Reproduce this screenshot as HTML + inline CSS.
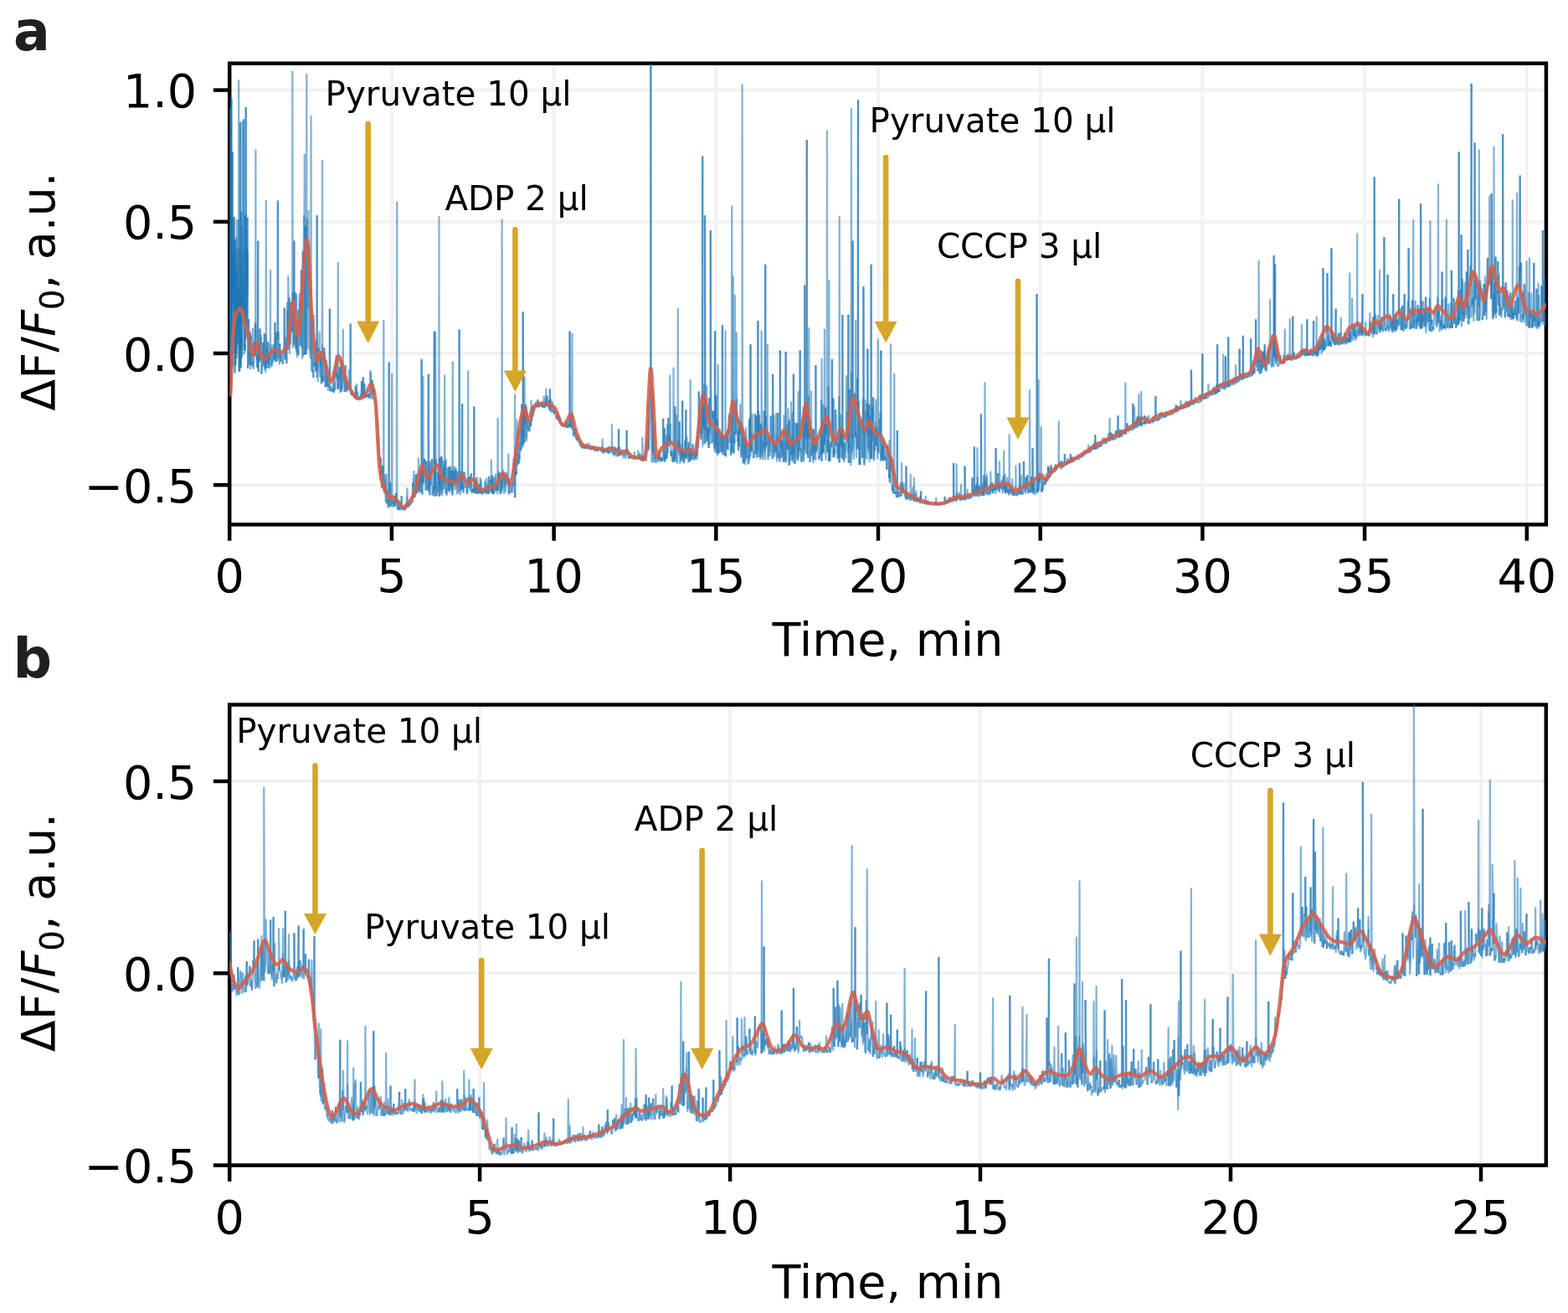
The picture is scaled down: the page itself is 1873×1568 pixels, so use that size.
<!DOCTYPE html>
<html><head><meta charset="utf-8"><style>html,body{margin:0;padding:0;background:#fff;}svg{display:block;}</style></head>
<body><svg width="1873" height="1568" viewBox="0 0 1873 1568" font-family="'DejaVu Sans', 'Liberation Sans', sans-serif"><rect width="1873" height="1568" fill="#fff"/>
<line x1="274.2" y1="75.7" x2="274.2" y2="626.4" stroke="#f2f2f2" stroke-width="4"/>
<line x1="467.9" y1="75.7" x2="467.9" y2="626.4" stroke="#f2f2f2" stroke-width="4"/>
<line x1="661.6" y1="75.7" x2="661.6" y2="626.4" stroke="#f2f2f2" stroke-width="4"/>
<line x1="855.3" y1="75.7" x2="855.3" y2="626.4" stroke="#f2f2f2" stroke-width="4"/>
<line x1="1049.0" y1="75.7" x2="1049.0" y2="626.4" stroke="#f2f2f2" stroke-width="4"/>
<line x1="1242.7" y1="75.7" x2="1242.7" y2="626.4" stroke="#f2f2f2" stroke-width="4"/>
<line x1="1436.4" y1="75.7" x2="1436.4" y2="626.4" stroke="#f2f2f2" stroke-width="4"/>
<line x1="1630.1" y1="75.7" x2="1630.1" y2="626.4" stroke="#f2f2f2" stroke-width="4"/>
<line x1="1823.8" y1="75.7" x2="1823.8" y2="626.4" stroke="#f2f2f2" stroke-width="4"/>
<line x1="274.2" y1="579.2" x2="1846.9" y2="579.2" stroke="#f2f2f2" stroke-width="4"/>
<line x1="274.2" y1="422.0" x2="1846.9" y2="422.0" stroke="#f2f2f2" stroke-width="4"/>
<line x1="274.2" y1="264.8" x2="1846.9" y2="264.8" stroke="#f2f2f2" stroke-width="4"/>
<line x1="274.2" y1="107.6" x2="1846.9" y2="107.6" stroke="#f2f2f2" stroke-width="4"/>
<line x1="274.2" y1="841.6" x2="274.2" y2="1391.6" stroke="#f2f2f2" stroke-width="4"/>
<line x1="573.1" y1="841.6" x2="573.1" y2="1391.6" stroke="#f2f2f2" stroke-width="4"/>
<line x1="872.1" y1="841.6" x2="872.1" y2="1391.6" stroke="#f2f2f2" stroke-width="4"/>
<line x1="1171.0" y1="841.6" x2="1171.0" y2="1391.6" stroke="#f2f2f2" stroke-width="4"/>
<line x1="1470.0" y1="841.6" x2="1470.0" y2="1391.6" stroke="#f2f2f2" stroke-width="4"/>
<line x1="1769.0" y1="841.6" x2="1769.0" y2="1391.6" stroke="#f2f2f2" stroke-width="4"/>
<line x1="274.2" y1="1391.6" x2="1846.8" y2="1391.6" stroke="#f2f2f2" stroke-width="4"/>
<line x1="274.2" y1="1162.3" x2="1846.8" y2="1162.3" stroke="#f2f2f2" stroke-width="4"/>
<line x1="274.2" y1="933.0" x2="1846.8" y2="933.0" stroke="#f2f2f2" stroke-width="4"/>
<rect x="274.2" y="75.7" width="1572.7" height="550.7" fill="none" stroke="#000" stroke-width="4.5" stroke-linejoin="miter"/>
<line x1="274.2" y1="626.4" x2="274.2" y2="645.7" stroke="#000" stroke-width="4.5"/>
<text x="274.2" y="707.2" font-size="55.5" text-anchor="middle">0</text>
<line x1="467.9" y1="626.4" x2="467.9" y2="645.7" stroke="#000" stroke-width="4.5"/>
<text x="467.9" y="707.2" font-size="55.5" text-anchor="middle">5</text>
<line x1="661.6" y1="626.4" x2="661.6" y2="645.7" stroke="#000" stroke-width="4.5"/>
<text x="661.6" y="707.2" font-size="55.5" text-anchor="middle">10</text>
<line x1="855.3" y1="626.4" x2="855.3" y2="645.7" stroke="#000" stroke-width="4.5"/>
<text x="855.3" y="707.2" font-size="55.5" text-anchor="middle">15</text>
<line x1="1049.0" y1="626.4" x2="1049.0" y2="645.7" stroke="#000" stroke-width="4.5"/>
<text x="1049.0" y="707.2" font-size="55.5" text-anchor="middle">20</text>
<line x1="1242.7" y1="626.4" x2="1242.7" y2="645.7" stroke="#000" stroke-width="4.5"/>
<text x="1242.7" y="707.2" font-size="55.5" text-anchor="middle">25</text>
<line x1="1436.4" y1="626.4" x2="1436.4" y2="645.7" stroke="#000" stroke-width="4.5"/>
<text x="1436.4" y="707.2" font-size="55.5" text-anchor="middle">30</text>
<line x1="1630.1" y1="626.4" x2="1630.1" y2="645.7" stroke="#000" stroke-width="4.5"/>
<text x="1630.1" y="707.2" font-size="55.5" text-anchor="middle">35</text>
<line x1="1823.8" y1="626.4" x2="1823.8" y2="645.7" stroke="#000" stroke-width="4.5"/>
<text x="1823.8" y="707.2" font-size="55.5" text-anchor="middle">40</text>
<line x1="274.2" y1="579.2" x2="254.9" y2="579.2" stroke="#000" stroke-width="4.5"/>
<text x="235.2" y="599.8" font-size="55.5" text-anchor="end">−0.5</text>
<line x1="274.2" y1="422.0" x2="254.9" y2="422.0" stroke="#000" stroke-width="4.5"/>
<text x="235.2" y="442.6" font-size="55.5" text-anchor="end">0.0</text>
<line x1="274.2" y1="264.8" x2="254.9" y2="264.8" stroke="#000" stroke-width="4.5"/>
<text x="235.2" y="285.4" font-size="55.5" text-anchor="end">0.5</text>
<line x1="274.2" y1="107.6" x2="254.9" y2="107.6" stroke="#000" stroke-width="4.5"/>
<text x="235.2" y="128.2" font-size="55.5" text-anchor="end">1.0</text>
<rect x="274.2" y="841.6" width="1572.6" height="550.0" fill="none" stroke="#000" stroke-width="4.5" stroke-linejoin="miter"/>
<line x1="274.2" y1="1391.6" x2="274.2" y2="1410.9" stroke="#000" stroke-width="4.5"/>
<text x="274.2" y="1472.5" font-size="55.5" text-anchor="middle">0</text>
<line x1="573.1" y1="1391.6" x2="573.1" y2="1410.9" stroke="#000" stroke-width="4.5"/>
<text x="573.1" y="1472.5" font-size="55.5" text-anchor="middle">5</text>
<line x1="872.1" y1="1391.6" x2="872.1" y2="1410.9" stroke="#000" stroke-width="4.5"/>
<text x="872.1" y="1472.5" font-size="55.5" text-anchor="middle">10</text>
<line x1="1171.0" y1="1391.6" x2="1171.0" y2="1410.9" stroke="#000" stroke-width="4.5"/>
<text x="1171.0" y="1472.5" font-size="55.5" text-anchor="middle">15</text>
<line x1="1470.0" y1="1391.6" x2="1470.0" y2="1410.9" stroke="#000" stroke-width="4.5"/>
<text x="1470.0" y="1472.5" font-size="55.5" text-anchor="middle">20</text>
<line x1="1769.0" y1="1391.6" x2="1769.0" y2="1410.9" stroke="#000" stroke-width="4.5"/>
<text x="1769.0" y="1472.5" font-size="55.5" text-anchor="middle">25</text>
<line x1="274.2" y1="1391.6" x2="254.9" y2="1391.6" stroke="#000" stroke-width="4.5"/>
<text x="235.2" y="1412.2" font-size="55.5" text-anchor="end">−0.5</text>
<line x1="274.2" y1="1162.3" x2="254.9" y2="1162.3" stroke="#000" stroke-width="4.5"/>
<text x="235.2" y="1182.9" font-size="55.5" text-anchor="end">0.0</text>
<line x1="274.2" y1="933.0" x2="254.9" y2="933.0" stroke="#000" stroke-width="4.5"/>
<text x="235.2" y="953.6" font-size="55.5" text-anchor="end">0.5</text>
<clipPath id="ca"><rect x="274.2" y="75.7" width="1572.7" height="550.7"/></clipPath>
<g clip-path="url(#ca)">
<g fill="none" stroke="#1f77b4" stroke-width="2.3" stroke-opacity="0.55" stroke-linejoin="round"><path d="M274.5,294.7 274.6,444.9 274.8,429.3"/><path d="M274.8,429.3 274.9,324.6 275.0,128.1"/><path d="M275.0,128.1 275.1,376.8 275.2,367.3"/><path d="M275.2,367.3 275.4,406.4 275.5,429.2"/><path d="M275.5,429.2 275.7,282.1 275.8,262.1"/><path d="M275.8,262.1 276.0,428.2 276.1,353.4"/><path d="M276.1,353.4 276.3,409.7 276.4,117.5"/><path d="M276.4,117.5 276.4,251.4 276.6,353.0"/><path d="M276.6,353.0 276.7,401.5 276.9,310.4"/><path d="M276.9,310.4 277.0,438.0 277.2,431.0"/><path d="M277.2,431.0 277.3,262.1 277.5,260.4"/><path d="M277.5,260.4 277.6,370.4 277.8,181.2"/><path d="M277.8,181.2 277.8,437.0 277.9,340.9"/><path d="M277.9,340.9 278.1,307.8 278.2,348.7"/><path d="M278.2,348.7 278.4,261.6 278.5,308.9"/><path d="M278.5,308.9 278.7,351.6 278.8,362.2"/><path d="M278.8,362.2 279.0,311.3 279.1,310.9"/><path d="M279.1,310.9 279.3,308.3 279.4,355.6"/><path d="M279.4,355.6 279.6,323.0 279.7,259.1"/><path d="M279.7,259.1 279.9,420.7 279.9,287.4"/><path d="M279.9,287.4 280.0,373.1 280.2,388.0"/><path d="M280.2,388.0 280.3,301.2 280.5,445.5"/><path d="M280.5,445.5 280.6,424.3 280.8,286.3"/><path d="M280.8,286.3 280.9,331.5 281.1,401.5"/><path d="M281.1,401.5 281.2,399.7 281.4,436.6"/><path d="M281.4,436.6 281.5,348.7 281.7,419.4"/><path d="M281.7,419.4 281.8,392.8 282.0,325.7"/><path d="M282.0,325.7 282.1,378.5 282.3,428.0"/><path d="M282.3,428.0 282.4,283.8 282.4,422.1"/><path d="M282.4,422.1 282.6,363.9 282.7,378.8"/><path d="M282.7,378.8 282.9,263.3 283.0,313.4"/><path d="M283.0,313.4 283.2,414.1 283.3,347.2"/><path d="M283.3,347.2 283.5,298.3 283.6,371.7"/><path d="M283.6,371.7 283.8,398.4 283.9,393.5"/><path d="M283.9,393.5 284.1,339.7 284.2,351.8"/><path d="M284.2,351.8 284.4,364.4 284.5,410.9"/><path d="M284.5,410.9 284.7,366.6 284.8,343.1"/><path d="M284.8,343.1 285.0,360.9 285.1,261.7"/><path d="M285.1,261.7 285.2,96.2 285.3,266.0"/><path d="M285.3,266.0 285.4,398.1 285.6,443.6"/><path d="M285.6,443.6 285.7,379.2 285.9,343.0"/><path d="M285.9,343.0 286.0,297.6 286.2,363.0"/><path d="M286.2,363.0 286.3,443.1 286.5,409.0"/><path d="M286.5,409.0 286.6,369.6 286.8,423.6"/><path d="M286.8,423.6 286.9,310.9 287.0,145.8"/><path d="M287.0,145.8 287.1,364.9 287.2,438.2"/><path d="M287.2,438.2 287.4,376.1 287.5,354.9"/><path d="M287.5,354.9 287.7,318.4 287.8,370.8"/><path d="M287.8,370.8 288.0,438.7 288.1,253.1"/><path d="M288.1,253.1 288.3,410.7 288.4,416.7"/><path d="M288.4,416.7 288.6,427.2 288.7,403.5"/><path d="M288.7,403.5 288.9,414.7 289.0,365.4"/><path d="M289.0,365.4 289.2,372.9 289.3,348.5"/><path d="M289.3,348.5 289.5,145.8 289.5,269.5"/><path d="M289.5,269.5 289.6,424.3 289.8,374.2"/><path d="M289.8,374.2 289.9,303.7 290.1,362.7"/><path d="M290.1,362.7 290.2,359.1 290.4,335.3"/><path d="M290.4,335.3 290.5,333.2 290.7,368.5"/><path d="M290.7,368.5 290.8,383.3 291.0,381.3"/><path d="M291.0,381.3 291.1,354.1 291.2,142.3"/><path d="M291.2,142.3 291.3,261.1 291.4,309.9"/><path d="M291.4,309.9 291.6,298.6 291.7,376.3"/><path d="M291.7,376.3 291.9,422.2 292.0,412.1"/><path d="M292.0,412.1 292.2,411.8 292.3,414.9"/><path d="M292.3,414.9 292.5,315.0 292.6,418.9"/><path d="M292.6,418.9 292.8,391.2 292.9,276.5"/><path d="M292.9,276.5 293.1,257.3 293.2,256.6"/><path d="M293.2,256.6 293.4,404.7 293.5,313.8"/><path d="M293.5,313.8 293.7,283.0 293.7,128.1"/><path d="M293.7,128.1 293.8,382.8 294.0,332.4"/><path d="M294.0,332.4 294.1,272.9 294.3,294.5"/><path d="M294.3,294.5 294.4,365.8 294.6,296.4"/><path d="M294.6,296.4 294.7,318.3 294.9,397.1"/><path d="M294.9,397.1 295.0,352.7 295.2,327.9"/><path d="M295.2,327.9 295.3,356.1 295.5,259.6"/><path d="M295.5,259.6 295.6,340.1 295.8,346.4"/><path d="M295.8,346.4 295.9,300.6 296.1,440.0"/><path d="M296.1,440.0 296.5,418.5 297.0,381.0"/><path d="M297.0,381.0 297.4,409.0 297.9,435.8"/><path d="M297.9,435.8 298.3,435.6 298.8,396.2"/><path d="M298.8,396.2 299.2,440.5 299.7,400.4"/><path d="M299.7,400.4 300.1,435.4 300.6,434.5"/><path d="M300.6,434.5 301.0,435.6 301.5,431.2"/><path d="M301.5,431.2 301.9,392.3 302.4,438.7"/><path d="M302.4,438.7 302.8,439.9 303.3,408.9"/><path d="M303.3,408.9 303.7,420.3 304.2,417.0"/><path d="M304.2,417.0 304.6,386.6 305.1,425.6"/><path d="M305.1,425.6 305.4,179.4 305.5,385.6"/><path d="M305.5,385.6 306.0,400.9 306.4,429.7"/><path d="M306.4,429.7 306.9,437.9 307.3,424.3"/><path d="M307.3,424.3 307.8,438.7 308.2,287.4"/><path d="M308.2,287.4 308.2,435.4 308.7,444.1"/><path d="M308.7,444.1 309.1,414.8 309.6,432.7"/><path d="M309.6,432.7 310.0,393.6 310.5,430.6"/><path d="M310.5,430.6 310.9,393.0 311.4,412.5"/><path d="M311.4,412.5 311.8,400.9 312.3,446.5"/><path d="M312.3,446.5 312.7,443.2 313.2,433.9"/><path d="M313.2,433.9 313.6,422.3 314.1,409.1"/><path d="M314.1,409.1 314.5,418.5 315.0,437.6"/><path d="M315.0,437.6 315.4,409.7 315.9,398.3"/><path d="M315.9,398.3 316.3,441.0 316.8,430.0"/><path d="M316.8,430.0 317.2,444.0 317.7,399.7"/><path d="M317.7,399.7 317.8,239.6 318.1,440.1"/><path d="M318.1,440.1 318.6,415.8 319.0,433.1"/><path d="M319.0,433.1 319.5,433.5 319.9,408.3"/><path d="M319.9,408.3 320.4,411.7 320.8,439.6"/><path d="M320.8,439.6 321.3,422.8 321.7,421.1"/><path d="M321.7,421.1 322.2,439.3 322.6,430.1"/><path d="M322.6,430.1 323.1,322.8 323.1,410.8"/><path d="M323.1,410.8 323.5,427.8 324.0,436.0"/><path d="M324.0,436.0 324.4,437.3 324.9,437.5"/><path d="M324.9,437.5 325.3,412.9 325.8,430.9"/><path d="M325.8,430.9 326.2,432.7 326.7,419.8"/><path d="M326.7,419.8 327.1,411.7 327.6,429.8"/><path d="M327.6,429.8 328.0,422.4 328.5,385.1"/><path d="M328.5,385.1 328.9,416.7 329.4,432.1"/><path d="M329.4,432.1 329.8,402.1 330.3,396.8"/><path d="M330.3,396.8 330.7,431.2 331.2,427.0"/><path d="M331.2,427.0 331.6,427.6 331.9,239.6"/><path d="M331.9,239.6 332.1,404.9 332.5,395.8"/><path d="M332.5,395.8 333.0,406.9 333.4,428.5"/><path d="M333.4,428.5 333.9,434.6 334.3,410.2"/><path d="M334.3,410.2 334.8,431.4 335.2,432.0"/><path d="M335.2,432.0 335.7,421.8 336.1,423.7"/><path d="M336.1,423.7 336.6,423.8 337.0,432.5"/><path d="M337.0,432.5 337.5,434.1 337.9,434.7"/><path d="M337.9,434.7 338.4,430.4 338.8,415.6"/><path d="M338.8,415.6 339.3,411.5 339.7,367.8"/><path d="M339.7,367.8 340.2,403.9 340.6,429.4"/><path d="M340.6,429.4 341.1,403.3 341.5,408.6"/><path d="M341.5,408.6 342.0,411.2 342.4,433.9"/><path d="M342.4,433.9 342.9,361.7 343.3,370.9"/><path d="M343.3,370.9 343.8,402.5 344.2,417.5"/><path d="M344.2,417.5 344.3,329.9 344.7,370.2"/><path d="M344.7,370.2 345.1,407.8 345.6,355.3"/><path d="M345.6,355.3 346.0,421.7 346.5,370.3"/><path d="M346.5,370.3 346.9,411.1 347.4,387.0"/><path d="M347.4,387.0 347.8,361.8 348.3,385.2"/><path d="M348.3,385.2 348.7,389.6 349.2,396.3"/><path d="M349.2,396.3 349.3,85.6 349.6,348.8"/><path d="M349.6,348.8 350.1,415.1 350.5,369.4"/><path d="M350.5,369.4 351.0,410.9 351.4,287.4"/><path d="M351.4,287.4 351.4,357.5 351.9,348.4"/><path d="M351.9,348.4 352.3,412.5 352.8,400.5"/><path d="M352.8,400.5 353.2,416.2 353.7,350.8"/><path d="M353.7,350.8 354.1,419.9 354.6,397.0"/><path d="M354.6,397.0 355.0,426.3 355.5,424.0"/><path d="M355.5,424.0 355.9,387.2 356.4,369.8"/><path d="M356.4,369.8 356.8,423.4 357.3,372.8"/><path d="M357.3,372.8 357.7,351.0 358.2,359.9"/><path d="M358.2,359.9 358.6,400.8 359.1,413.5"/><path d="M359.1,413.5 359.5,364.2 360.0,322.5"/><path d="M360.0,322.5 360.4,406.3 360.9,416.3"/><path d="M360.9,416.3 361.3,428.1 361.8,299.8"/><path d="M361.8,299.8 362.2,424.3 362.7,322.1"/><path d="M362.7,322.1 363.1,257.8 363.6,264.2"/><path d="M363.6,264.2 363.8,184.7 364.0,424.0"/><path d="M364.0,424.0 364.5,280.6 364.9,269.6"/><path d="M364.9,269.6 365.4,367.8 365.8,422.7"/><path d="M365.8,422.7 366.3,89.2 366.3,279.3"/><path d="M366.3,279.3 366.7,262.2 367.2,368.3"/><path d="M367.2,368.3 367.6,416.3 368.1,362.8"/><path d="M368.1,362.8 368.4,252.0 368.5,334.3"/><path d="M368.5,334.3 369.0,292.8 369.4,326.3"/><path d="M369.4,326.3 369.9,413.1 370.3,419.0"/><path d="M370.3,419.0 370.8,427.7 371.2,335.7"/><path d="M371.2,335.7 371.6,138.7 371.7,355.8"/><path d="M371.7,355.8 372.1,442.7 372.6,376.7"/><path d="M372.6,376.7 373.0,418.5 373.5,444.3"/><path d="M373.5,444.3 373.9,443.0 374.4,450.9"/><path d="M374.4,450.9 374.8,376.6 375.3,438.0"/><path d="M375.3,438.0 375.7,432.7 376.2,436.4"/><path d="M376.2,436.4 376.6,418.3 377.1,442.9"/><path d="M377.1,442.9 377.5,443.3 378.0,406.7"/><path d="M378.0,406.7 378.4,450.2 378.7,257.3"/><path d="M378.7,257.3 378.9,439.9 379.3,442.1"/><path d="M379.3,442.1 379.8,455.3 380.2,416.2"/><path d="M380.2,416.2 380.7,418.0 381.1,419.5"/><path d="M381.1,419.5 381.6,396.3 382.0,438.0"/><path d="M382.0,438.0 382.5,449.6 382.9,425.6"/><path d="M382.9,425.6 383.4,446.9 383.8,458.2"/><path d="M383.8,458.2 384.3,455.4 384.7,411.2"/><path d="M384.7,411.2 385.0,191.8 385.2,456.2"/><path d="M385.2,456.2 385.6,454.2 386.1,448.1"/><path d="M386.1,448.1 386.5,455.0 387.0,415.2"/><path d="M387.0,415.2 387.4,416.8 387.9,422.4"/><path d="M387.9,422.4 388.3,447.7 388.8,462.3"/><path d="M388.8,462.3 389.2,445.7 389.7,430.4"/><path d="M389.7,430.4 390.1,443.1 390.6,461.8"/><path d="M390.6,461.8 391.0,455.1 391.5,445.1"/><path d="M391.5,445.1 391.9,465.9 392.4,458.4"/><path d="M392.4,458.4 392.8,462.2 393.3,456.3"/><path d="M393.3,456.3 393.7,446.8 393.9,368.8"/><path d="M393.9,368.8 394.2,466.4 394.6,461.5"/><path d="M394.6,461.5 395.1,466.1 395.5,465.7"/><path d="M395.5,465.7 396.0,467.1 396.4,465.0"/><path d="M396.4,465.0 396.9,464.1 397.3,466.7"/><path d="M397.3,466.7 397.8,444.3 398.2,468.9"/><path d="M398.2,468.9 398.7,467.4 399.1,468.2"/><path d="M399.1,468.2 399.6,456.8 400.0,465.9"/><path d="M400.0,465.9 400.5,438.0 400.9,449.7"/><path d="M400.9,449.7 401.4,431.6 401.8,424.4"/><path d="M401.8,424.4 402.3,451.0 402.7,444.7"/><path d="M402.7,444.7 403.2,464.1 403.6,464.9"/><path d="M403.6,464.9 403.8,313.9 404.1,463.9"/><path d="M404.1,463.9 404.5,449.5 405.0,453.7"/><path d="M405.0,453.7 405.4,440.5 405.9,438.2"/><path d="M405.9,438.2 406.3,468.4 406.8,438.7"/><path d="M406.8,438.7 407.2,466.7 407.7,429.7"/><path d="M407.7,429.7 408.1,467.2 408.6,464.3"/><path d="M408.6,464.3 409.0,458.1 409.5,458.0"/><path d="M409.5,458.0 409.8,393.6 409.9,454.8"/><path d="M409.9,454.8 410.4,439.9 410.8,455.8"/><path d="M410.8,455.8 411.3,459.1 411.7,468.0"/><path d="M411.7,468.0 412.2,450.0 412.6,436.0"/><path d="M412.6,436.0 413.1,462.2 413.5,467.8"/><path d="M413.5,467.8 414.0,467.4 414.4,454.9"/><path d="M414.4,454.9 414.9,456.4 415.3,465.9"/><path d="M415.3,465.9 415.8,464.1 416.2,465.3"/><path d="M416.2,465.3 416.7,442.1 417.1,462.3"/><path d="M417.1,462.3 417.6,461.0 418.0,464.4"/><path d="M418.0,464.4 418.5,463.7 418.7,386.5"/><path d="M418.7,386.5 418.9,469.9 419.4,470.8"/><path d="M419.4,470.8 419.8,469.0 420.3,472.1"/><path d="M420.3,472.1 420.7,469.3 421.2,472.8"/><path d="M421.2,472.8 421.6,471.0 422.1,472.4"/><path d="M422.1,472.4 422.5,470.5 423.0,472.9"/><path d="M423.0,472.9 423.4,474.6 423.9,474.5"/><path d="M423.9,474.5 424.3,475.1 424.8,460.7"/><path d="M424.8,460.7 425.2,476.3 425.7,476.6"/><path d="M425.7,476.6 426.1,458.8 426.6,475.2"/><path d="M426.6,475.2 427.0,469.0 427.5,476.5"/><path d="M427.5,476.5 427.9,475.8 428.4,474.9"/><path d="M428.4,474.9 428.8,476.0 429.3,473.8"/><path d="M429.3,473.8 429.7,474.4 430.2,473.2"/><path d="M430.2,473.2 430.6,475.0 431.1,470.4"/><path d="M431.1,470.4 431.5,475.7 432.0,455.3"/><path d="M432.0,455.3 432.4,474.7 432.9,475.0"/><path d="M432.9,475.0 433.3,474.3 433.8,450.2"/><path d="M433.8,450.2 434.2,473.2 434.7,474.4"/><path d="M434.7,474.4 435.1,458.4 435.6,458.8"/><path d="M435.6,458.8 436.0,475.3 436.5,468.6"/><path d="M436.5,468.6 436.9,473.3 437.4,471.2"/><path d="M437.4,471.2 437.8,473.6 438.3,474.4"/><path d="M438.3,474.4 438.7,471.4 439.2,471.3"/><path d="M439.2,471.3 439.6,473.7 440.1,472.0"/><path d="M440.1,472.0 440.5,474.7 441.0,469.9"/><path d="M441.0,469.9 441.4,475.4 441.9,475.0"/><path d="M441.9,475.0 442.3,443.2 442.8,444.2"/><path d="M442.8,444.2 443.2,447.4 443.7,471.4"/><path d="M443.7,471.4 444.1,476.4 444.6,453.9"/><path d="M444.6,453.9 445.0,462.8 445.5,458.7"/><path d="M445.5,458.7 445.9,474.6 446.4,464.9"/><path d="M446.4,464.9 446.8,475.0 447.3,477.0"/><path d="M447.3,477.0 447.7,476.6 448.2,480.5"/><path d="M448.2,480.5 448.6,481.9 449.1,487.8"/><path d="M449.1,487.8 449.5,494.7 450.0,501.8"/><path d="M450.0,501.8 450.4,508.2 450.9,503.0"/><path d="M450.9,503.0 451.3,522.7 451.8,529.3"/><path d="M451.8,529.3 452.2,520.9 452.7,543.4"/><path d="M452.7,543.4 453.1,551.7 453.6,550.3"/><path d="M453.6,550.3 454.0,573.1 454.5,546.2"/><path d="M454.5,546.2 454.9,547.1 455.4,564.9"/><path d="M455.4,564.9 455.8,582.4 456.3,562.0"/><path d="M456.3,562.0 456.7,581.6 457.2,556.0"/><path d="M457.2,556.0 457.6,576.8 458.1,569.1"/><path d="M458.1,569.1 458.3,383.0 458.5,586.2"/><path d="M458.5,586.2 459.0,578.6 459.4,589.3"/><path d="M459.4,589.3 459.9,567.3 460.3,574.3"/><path d="M460.3,574.3 460.8,598.4 461.2,599.6"/><path d="M461.2,599.6 461.7,566.3 462.1,601.6"/><path d="M462.1,601.6 462.6,597.1 463.0,601.6"/><path d="M463.0,601.6 463.5,605.8 463.9,602.8"/><path d="M463.9,602.8 464.4,579.6 464.7,432.5"/><path d="M464.7,432.5 464.8,600.7 465.3,605.5"/><path d="M465.3,605.5 465.7,583.4 466.2,576.2"/><path d="M466.2,576.2 466.6,590.2 467.1,604.5"/><path d="M467.1,604.5 467.5,604.2 468.0,600.4"/><path d="M468.0,600.4 468.2,446.7 468.4,597.4"/><path d="M468.4,597.4 468.9,601.2 469.3,598.3"/><path d="M469.3,598.3 469.8,605.0 470.2,600.0"/><path d="M470.2,600.0 470.7,593.2 471.1,604.7"/><path d="M471.1,604.7 471.6,602.5 472.0,592.0"/><path d="M472.0,592.0 472.5,603.6 472.9,588.9"/><path d="M472.9,588.9 473.4,600.5 473.8,596.4"/><path d="M473.8,596.4 474.2,241.4 474.3,602.7"/><path d="M474.3,602.7 474.7,608.1 475.2,607.0"/><path d="M475.2,607.0 475.6,599.0 476.1,609.0"/><path d="M476.1,609.0 476.5,606.6 477.0,609.2"/><path d="M477.0,609.2 477.4,600.8 477.9,606.5"/><path d="M477.9,606.5 478.3,604.3 478.8,605.9"/><path d="M478.8,605.9 479.2,608.7 479.7,592.1"/><path d="M479.7,592.1 480.1,605.2 480.6,608.5"/><path d="M480.6,608.5 481.0,608.0 481.5,604.7"/><path d="M481.5,604.7 481.9,605.2 482.4,609.3"/><path d="M482.4,609.3 482.8,608.3 483.3,609.2"/><path d="M483.3,609.2 483.7,602.8 484.2,609.2"/><path d="M484.2,609.2 484.6,606.0 485.1,600.8"/><path d="M485.1,600.8 485.5,603.2 486.0,593.4"/><path d="M486.0,593.4 486.4,583.1 486.9,605.2"/><path d="M486.9,605.2 487.3,605.6 487.8,599.0"/><path d="M487.8,599.0 488.2,604.5 488.7,601.4"/><path d="M488.7,601.4 489.1,603.1 489.6,604.0"/><path d="M489.6,604.0 490.0,602.2 490.5,600.7"/><path d="M490.5,600.7 490.9,601.5 491.4,598.1"/><path d="M491.4,598.1 491.8,599.0 492.3,599.0"/><path d="M492.3,599.0 492.7,599.6 493.2,576.4"/><path d="M493.2,576.4 493.6,595.0 494.1,571.1"/><path d="M494.1,571.1 494.5,562.8 495.0,593.9"/><path d="M495.0,593.9 495.4,589.9 495.9,590.5"/><path d="M495.9,590.5 496.3,592.0 496.8,566.7"/><path d="M496.8,566.7 497.2,575.2 497.7,589.4"/><path d="M497.7,589.4 498.1,566.3 498.6,578.3"/><path d="M498.6,578.3 499.0,587.8 499.5,581.2"/><path d="M499.5,581.2 499.9,547.3 500.4,586.3"/><path d="M500.4,586.3 500.8,570.6 501.3,574.6"/><path d="M501.3,574.6 501.7,588.1 502.2,561.4"/><path d="M502.2,561.4 502.6,586.7 503.1,576.2"/><path d="M503.1,576.2 503.5,563.5 503.6,429.0"/><path d="M503.6,429.0 504.0,568.9 504.4,590.6"/><path d="M504.4,590.6 504.9,554.2 505.3,554.1"/><path d="M505.3,554.1 505.4,450.2 505.8,577.5"/><path d="M505.8,577.5 506.2,553.8 506.7,547.8"/><path d="M506.7,547.8 507.1,549.2 507.6,554.6"/><path d="M507.6,554.6 508.0,549.9 508.5,585.5"/><path d="M508.5,585.5 508.9,582.4 509.4,551.1"/><path d="M509.4,551.1 509.8,573.7 510.3,578.7"/><path d="M510.3,578.7 510.7,584.8 511.2,580.8"/><path d="M511.2,580.8 511.6,586.2 511.8,446.7"/><path d="M511.8,446.7 512.1,583.7 512.5,582.8"/><path d="M512.5,582.8 513.0,554.4 513.4,591.2"/><path d="M513.4,591.2 513.9,551.1 514.3,580.0"/><path d="M514.3,580.0 514.8,561.4 515.2,561.1"/><path d="M515.2,561.1 515.7,559.3 516.1,548.3"/><path d="M516.1,548.3 516.6,591.6 517.0,590.8"/><path d="M517.0,590.8 517.5,581.5 517.9,585.3"/><path d="M517.9,585.3 518.4,586.8 518.8,395.4"/><path d="M518.8,395.4 518.8,550.6 519.3,592.7"/><path d="M519.3,592.7 519.7,549.6 520.2,584.0"/><path d="M520.2,584.0 520.3,397.1 520.6,551.7"/><path d="M520.6,551.7 521.1,549.6 521.5,592.2"/><path d="M521.5,592.2 522.0,584.8 522.4,581.1"/><path d="M522.4,581.1 522.9,587.1 523.3,563.5"/><path d="M523.3,563.5 523.8,570.2 524.2,578.8"/><path d="M524.2,578.8 524.5,259.1 524.7,593.1"/><path d="M524.7,593.1 525.1,549.4 525.6,546.3"/><path d="M525.6,546.3 526.0,590.1 526.5,585.7"/><path d="M526.5,585.7 526.9,576.3 527.4,545.1"/><path d="M527.4,545.1 527.8,591.5 528.3,588.4"/><path d="M528.3,588.4 528.7,550.4 529.2,584.9"/><path d="M529.2,584.9 529.6,582.2 530.1,560.0"/><path d="M530.1,560.0 530.5,555.4 531.0,576.0"/><path d="M531.0,576.0 531.2,448.5 531.4,549.8"/><path d="M531.4,549.8 531.9,588.2 532.3,583.5"/><path d="M532.3,583.5 532.8,549.0 533.2,591.4"/><path d="M533.2,591.4 533.7,590.6 534.1,589.2"/><path d="M534.1,589.2 534.6,583.7 535.0,558.4"/><path d="M535.0,558.4 535.5,563.1 535.9,586.3"/><path d="M535.9,586.3 536.4,558.0 536.8,585.6"/><path d="M536.8,585.6 537.3,587.4 537.7,556.7"/><path d="M537.7,556.7 538.2,584.8 538.6,577.1"/><path d="M538.6,577.1 539.1,581.7 539.5,561.9"/><path d="M539.5,561.9 540.0,569.8 540.4,591.6"/><path d="M540.4,591.6 540.8,432.5 540.9,557.5"/><path d="M540.9,557.5 541.3,585.5 541.8,562.0"/><path d="M541.8,562.0 542.2,566.1 542.7,577.7"/><path d="M542.7,577.7 543.1,557.7 543.6,564.2"/><path d="M543.6,564.2 544.0,583.9 544.5,559.2"/><path d="M544.5,559.2 544.9,573.5 545.4,566.9"/><path d="M545.4,566.9 545.8,589.4 546.3,563.0"/><path d="M546.3,563.0 546.7,563.5 547.2,565.6"/><path d="M547.2,565.6 547.6,588.8 548.1,587.0"/><path d="M548.1,587.0 548.5,585.7 548.6,393.6"/><path d="M548.6,393.6 549.0,565.4 549.4,567.6"/><path d="M549.4,567.6 549.9,590.4 550.3,579.6"/><path d="M550.3,579.6 550.8,585.1 551.2,562.6"/><path d="M551.2,562.6 551.7,583.9 552.1,482.1"/><path d="M552.1,482.1 552.1,583.6 552.6,577.0"/><path d="M552.6,577.0 553.0,582.0 553.5,588.4"/><path d="M553.5,588.4 553.9,577.8 554.4,563.4"/><path d="M554.4,563.4 554.8,565.9 555.3,569.3"/><path d="M555.3,569.3 555.7,581.5 556.2,582.2"/><path d="M556.2,582.2 556.6,580.3 557.1,582.4"/><path d="M557.1,582.4 557.5,588.5 558.0,582.3"/><path d="M558.0,582.3 558.4,589.1 558.9,569.8"/><path d="M558.9,569.8 559.2,443.1 559.3,582.3"/><path d="M559.3,582.3 559.8,575.7 560.2,575.6"/><path d="M560.2,575.6 560.7,571.6 561.1,569.1"/><path d="M561.1,569.1 561.6,585.8 562.0,581.9"/><path d="M562.0,581.9 562.5,582.4 562.9,565.4"/><path d="M562.9,565.4 563.4,588.6 563.8,587.2"/><path d="M563.8,587.2 564.3,585.2 564.7,588.4"/><path d="M564.7,588.4 565.2,584.0 565.6,588.1"/><path d="M565.6,588.1 566.1,569.1 566.3,485.6"/><path d="M566.3,485.6 566.5,572.2 567.0,588.5"/><path d="M567.0,588.5 567.4,588.5 567.9,570.7"/><path d="M567.9,570.7 568.3,589.0 568.8,575.4"/><path d="M568.8,575.4 569.2,586.5 569.7,589.5"/><path d="M569.7,589.5 570.1,570.4 570.6,589.7"/><path d="M570.6,589.7 571.0,588.7 571.5,583.0"/><path d="M571.5,583.0 571.9,586.2 572.4,578.5"/><path d="M572.4,578.5 572.8,588.8 573.3,588.9"/><path d="M573.3,588.9 573.7,570.8 574.2,589.6"/><path d="M574.2,589.6 574.6,573.3 575.1,587.1"/><path d="M575.1,587.1 575.5,589.5 576.0,588.4"/><path d="M576.0,588.4 576.4,585.2 576.9,589.4"/><path d="M576.9,589.4 577.3,589.8 577.8,582.6"/><path d="M577.8,582.6 578.2,583.2 578.7,587.8"/><path d="M578.7,587.8 579.1,575.2 579.6,588.0"/><path d="M579.6,588.0 580.0,586.2 580.5,589.6"/><path d="M580.5,589.6 580.9,571.9 581.4,589.7"/><path d="M581.4,589.7 581.8,589.4 582.3,585.5"/><path d="M582.3,585.5 582.7,578.7 583.2,587.8"/><path d="M583.2,587.8 583.6,570.1 584.1,590.0"/><path d="M584.1,590.0 584.5,569.6 585.0,576.3"/><path d="M585.0,576.3 585.4,574.9 585.9,573.5"/><path d="M585.9,573.5 586.3,574.5 586.8,587.9"/><path d="M586.8,587.9 586.8,549.3 587.2,584.4"/><path d="M587.2,584.4 587.7,568.2 588.1,589.4"/><path d="M588.1,589.4 588.6,569.0 589.0,590.0"/><path d="M589.0,590.0 589.5,571.7 589.9,587.5"/><path d="M589.9,587.5 590.4,589.5 590.8,585.8"/><path d="M590.8,585.8 591.3,570.1 591.7,572.2"/><path d="M591.7,572.2 592.2,566.5 592.6,586.4"/><path d="M592.6,586.4 593.1,577.8 593.5,584.1"/><path d="M593.5,584.1 594.0,589.2 594.4,579.9"/><path d="M594.4,579.9 594.6,499.8 594.9,585.4"/><path d="M594.9,585.4 595.3,563.2 595.8,567.1"/><path d="M595.8,567.1 596.2,576.6 596.7,564.5"/><path d="M596.7,564.5 597.1,589.7 597.6,566.0"/><path d="M597.6,566.0 598.0,569.4 598.5,589.3"/><path d="M598.5,589.3 599.0,574.0 599.4,586.5"/><path d="M599.4,586.5 599.6,262.6 599.9,576.8"/><path d="M599.9,576.8 600.3,582.2 600.8,564.5"/><path d="M600.8,564.5 601.2,561.8 601.7,565.9"/><path d="M601.7,565.9 602.1,589.1 602.6,566.7"/><path d="M602.6,566.7 603.0,580.7 603.5,568.5"/><path d="M603.5,568.5 603.9,587.0 604.4,569.6"/><path d="M604.4,569.6 604.8,564.1 605.3,566.8"/><path d="M605.3,566.8 605.7,569.6 606.2,578.2"/><path d="M606.2,578.2 606.6,571.6 607.1,580.4"/><path d="M607.1,580.4 607.3,542.3 607.5,589.7"/><path d="M607.5,589.7 608.0,589.7 608.4,571.6"/><path d="M608.4,571.6 608.9,576.1 609.3,576.0"/><path d="M609.3,576.0 609.8,586.6 610.2,588.1"/><path d="M610.2,588.1 610.7,588.3 611.1,584.4"/><path d="M611.1,584.4 611.6,579.4 612.0,581.0"/><path d="M612.0,581.0 612.5,587.6 612.9,574.8"/><path d="M612.9,574.8 613.4,578.9 613.8,546.7"/><path d="M613.8,546.7 614.3,560.1 614.7,566.8"/><path d="M614.7,566.8 615.1,471.5 615.2,594.3"/><path d="M615.2,594.3 615.6,535.2 616.1,567.6"/><path d="M616.1,567.6 616.5,563.7 617.0,566.5"/><path d="M617.0,566.5 617.4,501.7 617.9,555.9"/><path d="M617.9,555.9 618.3,551.4 618.8,551.7"/><path d="M618.8,551.7 619.2,510.5 619.7,553.8"/><path d="M619.7,553.8 620.1,542.9 620.6,548.7"/><path d="M620.6,548.7 621.0,528.7 621.5,538.9"/><path d="M621.5,538.9 621.9,532.2 622.4,499.7"/><path d="M622.4,499.7 622.8,536.4 623.3,482.7"/><path d="M623.3,482.7 623.7,523.2 624.2,530.6"/><path d="M624.2,530.6 624.6,533.6 624.7,372.3"/><path d="M624.7,372.3 625.1,531.3 625.5,486.2"/><path d="M625.5,486.2 626.0,514.3 626.4,529.0"/><path d="M626.4,529.0 626.5,450.2 626.9,489.5"/><path d="M626.9,489.5 627.3,504.6 627.8,483.1"/><path d="M627.8,483.1 628.2,523.0 628.7,485.9"/><path d="M628.7,485.9 629.1,525.8 629.6,509.0"/><path d="M629.6,509.0 630.0,491.9 630.5,513.2"/><path d="M630.5,513.2 630.9,513.7 631.4,513.2"/><path d="M631.4,513.2 631.8,500.8 632.3,515.3"/><path d="M632.3,515.3 632.7,510.7 633.2,504.3"/><path d="M633.2,504.3 633.6,502.2 634.1,509.3"/><path d="M634.1,509.3 634.5,478.7 635.0,503.5"/><path d="M635.0,503.5 635.4,499.8 635.9,491.0"/><path d="M635.9,491.0 636.3,497.2 636.8,483.9"/><path d="M636.8,483.9 637.2,494.9 637.7,491.2"/><path d="M637.7,491.2 638.1,490.1 638.6,489.3"/><path d="M638.6,489.3 639.0,489.1 639.5,488.8"/><path d="M639.5,488.8 639.9,481.0 640.4,483.8"/><path d="M640.4,483.8 640.8,485.6 641.3,486.3"/><path d="M641.3,486.3 641.7,484.7 642.2,477.1"/><path d="M642.2,477.1 642.6,482.9 643.1,486.6"/><path d="M643.1,486.6 643.5,482.0 644.0,485.9"/><path d="M644.0,485.9 644.4,482.7 644.9,484.3"/><path d="M644.9,484.3 645.3,484.8 645.8,484.6"/><path d="M645.8,484.6 646.2,484.3 646.7,481.4"/><path d="M646.7,481.4 647.1,485.5 647.6,485.3"/><path d="M647.6,485.3 648.0,484.2 648.5,486.7"/><path d="M648.5,486.7 648.9,484.1 649.4,481.9"/><path d="M649.4,481.9 649.8,473.4 650.3,486.9"/><path d="M650.3,486.9 650.7,483.0 651.2,485.0"/><path d="M651.2,485.0 651.6,485.5 652.1,476.0"/><path d="M652.1,476.0 652.3,464.4 652.5,484.3"/><path d="M652.5,484.3 653.0,481.8 653.4,472.7"/><path d="M653.4,472.7 653.9,484.7 654.3,485.6"/><path d="M654.3,485.6 654.8,483.4 655.2,485.2"/><path d="M655.2,485.2 655.7,487.1 656.1,477.9"/><path d="M656.1,477.9 656.6,489.9 656.9,464.4"/><path d="M656.9,464.4 657.0,488.3 657.5,490.8"/><path d="M657.5,490.8 657.9,476.9 658.4,487.1"/><path d="M658.4,487.1 658.8,492.2 659.3,483.0"/><path d="M659.3,483.0 659.7,479.9 660.2,484.8"/><path d="M660.2,484.8 660.6,491.3 661.1,492.6"/><path d="M661.1,492.6 661.5,489.7 662.0,494.3"/><path d="M662.0,494.3 662.4,485.7 662.9,494.4"/><path d="M662.9,494.4 663.3,491.8 663.8,496.9"/><path d="M663.8,496.9 664.2,497.8 664.7,499.6"/><path d="M664.7,499.6 665.1,497.9 665.6,500.9"/><path d="M665.6,500.9 666.0,492.6 666.5,497.7"/><path d="M666.5,497.7 666.9,501.4 667.4,496.2"/><path d="M667.4,496.2 667.8,502.2 668.3,499.4"/><path d="M668.3,499.4 668.7,498.3 669.2,500.9"/><path d="M669.2,500.9 669.6,505.4 670.1,506.8"/><path d="M670.1,506.8 670.5,506.2 671.0,507.5"/><path d="M671.0,507.5 671.4,506.6 671.9,504.7"/><path d="M671.9,504.7 672.3,507.3 672.8,508.6"/><path d="M672.8,508.6 673.2,506.3 673.7,507.3"/><path d="M673.7,507.3 674.1,509.4 674.6,508.1"/><path d="M674.6,508.1 675.0,509.1 675.5,502.6"/><path d="M675.5,502.6 675.9,501.9 676.4,510.7"/><path d="M676.4,510.7 676.8,509.0 677.3,508.1"/><path d="M677.3,508.1 677.7,504.9 678.2,510.9"/><path d="M678.2,510.9 678.6,505.9 679.1,507.5"/><path d="M679.1,507.5 679.5,507.3 680.0,510.7"/><path d="M680.0,510.7 680.4,497.8 680.6,395.4"/><path d="M680.6,395.4 680.9,504.2 681.3,510.1"/><path d="M681.3,510.1 681.8,494.4 682.2,494.8"/><path d="M682.2,494.8 682.7,509.8 683.1,501.1"/><path d="M683.1,501.1 683.5,398.9 683.6,513.0"/><path d="M683.6,513.0 684.0,504.6 684.5,517.0"/><path d="M684.5,517.0 684.9,520.3 685.4,520.1"/><path d="M685.4,520.1 685.8,516.8 686.3,511.8"/><path d="M686.3,511.8 686.7,520.4 687.2,511.9"/><path d="M687.2,511.9 687.6,519.4 688.1,524.1"/><path d="M688.1,524.1 688.5,521.0 689.0,526.2"/><path d="M689.0,526.2 689.4,525.0 689.9,524.4"/><path d="M689.9,524.4 690.3,519.7 690.8,527.4"/><path d="M690.8,527.4 691.2,527.7 691.7,529.0"/><path d="M691.7,529.0 692.1,528.0 692.6,529.7"/><path d="M692.6,529.7 693.0,532.0 693.5,530.9"/><path d="M693.5,530.9 693.9,526.4 694.4,533.6"/><path d="M694.4,533.6 694.8,534.4 695.3,533.7"/><path d="M695.3,533.7 695.7,534.5 696.2,529.1"/><path d="M696.2,529.1 696.6,534.0 697.1,534.3"/><path d="M697.1,534.3 697.5,535.0 698.0,534.7"/><path d="M698.0,534.7 698.4,535.2 698.9,531.2"/><path d="M698.9,531.2 699.3,535.3 699.8,533.4"/><path d="M699.8,533.4 700.2,532.0 700.7,535.1"/><path d="M700.7,535.1 701.1,529.7 701.6,536.5"/><path d="M701.6,536.5 702.0,535.6 702.5,534.9"/><path d="M702.5,534.9 702.9,533.6 703.4,535.9"/><path d="M703.4,535.9 703.8,529.9 704.3,535.4"/><path d="M704.3,535.4 704.7,533.4 705.2,537.1"/><path d="M705.2,537.1 705.6,535.8 706.1,536.2"/><path d="M706.1,536.2 706.5,536.6 707.0,536.8"/><path d="M707.0,536.8 707.4,532.9 707.9,534.0"/><path d="M707.9,534.0 708.3,534.7 708.8,534.5"/><path d="M708.8,534.5 709.2,537.3 709.7,533.2"/><path d="M709.7,533.2 710.1,537.9 710.6,538.0"/><path d="M710.6,538.0 711.0,537.8 711.5,537.1"/><path d="M711.5,537.1 711.9,536.5 712.4,538.4"/><path d="M712.4,538.4 712.8,536.7 713.3,534.5"/><path d="M713.3,534.5 713.7,538.9 714.2,535.3"/><path d="M714.2,535.3 714.6,537.0 715.1,534.3"/><path d="M715.1,534.3 715.5,535.7 716.0,535.5"/><path d="M716.0,535.5 716.4,535.0 716.9,535.8"/><path d="M716.9,535.8 717.3,538.7 717.8,535.1"/><path d="M717.8,535.1 718.2,537.7 718.7,538.9"/><path d="M718.7,538.9 719.1,534.0 719.6,537.9"/><path d="M719.6,537.9 719.6,524.6 720.0,540.9"/><path d="M720.0,540.9 720.5,538.5 720.9,536.3"/><path d="M720.9,536.3 721.4,541.1 721.8,538.1"/><path d="M721.8,538.1 722.3,538.5 722.7,539.5"/><path d="M722.7,539.5 723.2,537.4 723.6,540.2"/><path d="M723.6,540.2 724.1,536.3 724.5,539.7"/><path d="M724.5,539.7 725.0,536.4 725.4,540.4"/><path d="M725.4,540.4 725.9,540.9 726.3,539.8"/><path d="M726.3,539.8 726.8,533.3 727.2,541.6"/><path d="M727.2,541.6 727.7,535.7 728.1,540.8"/><path d="M728.1,540.8 728.6,540.5 729.0,539.2"/><path d="M729.0,539.2 729.5,539.0 729.9,539.4"/><path d="M729.9,539.4 730.4,533.8 730.8,535.1"/><path d="M730.8,535.1 730.9,506.9 731.3,535.1"/><path d="M731.3,535.1 731.7,542.1 732.2,540.9"/><path d="M732.2,540.9 732.6,534.1 733.1,539.7"/><path d="M733.1,539.7 733.5,543.2 734.0,539.6"/><path d="M734.0,539.6 734.4,544.4 734.9,535.7"/><path d="M734.9,535.7 735.3,534.8 735.8,539.2"/><path d="M735.8,539.2 736.2,542.2 736.7,541.7"/><path d="M736.7,541.7 737.1,544.6 737.6,542.8"/><path d="M737.6,542.8 738.0,543.6 738.5,534.3"/><path d="M738.5,534.3 738.9,539.2 739.0,512.2"/><path d="M739.0,512.2 739.4,544.1 739.8,544.9"/><path d="M739.8,544.9 740.3,535.0 740.7,542.5"/><path d="M740.7,542.5 741.2,540.2 741.6,540.2"/><path d="M741.6,540.2 742.1,542.2 742.5,543.6"/><path d="M742.5,543.6 743.0,537.2 743.4,542.1"/><path d="M743.4,542.1 743.9,542.4 744.3,544.5"/><path d="M744.3,544.5 744.8,546.6 745.2,544.8"/><path d="M745.2,544.8 745.7,542.0 746.1,541.9"/><path d="M746.1,541.9 746.6,538.4 747.0,544.6"/><path d="M747.0,544.6 747.5,546.9 747.9,542.4"/><path d="M747.9,542.4 748.4,539.1 748.6,513.9"/><path d="M748.6,513.9 748.8,541.0 749.3,539.7"/><path d="M749.3,539.7 749.7,537.0 750.2,540.7"/><path d="M750.2,540.7 750.6,543.1 751.1,547.9"/><path d="M751.1,547.9 751.5,546.7 752.0,544.3"/><path d="M752.0,544.3 752.4,545.7 752.9,541.8"/><path d="M752.9,541.8 753.3,546.8 753.8,544.9"/><path d="M753.8,544.9 754.2,544.9 754.7,547.0"/><path d="M754.7,547.0 755.1,547.4 755.6,548.0"/><path d="M755.6,548.0 756.0,545.2 756.5,548.0"/><path d="M756.5,548.0 756.9,548.2 757.4,547.9"/><path d="M757.4,547.9 757.8,540.1 758.3,546.0"/><path d="M758.3,546.0 758.7,548.1 759.2,547.9"/><path d="M759.2,547.9 759.6,548.4 760.1,548.1"/><path d="M760.1,548.1 760.5,546.8 761.0,546.7"/><path d="M761.0,546.7 761.4,547.8 761.9,546.5"/><path d="M761.9,546.5 762.3,538.3 762.8,547.9"/><path d="M762.8,547.9 763.2,546.5 763.7,548.4"/><path d="M763.7,548.4 764.1,542.2 764.6,547.7"/><path d="M764.6,547.7 765.0,543.1 765.5,548.7"/><path d="M765.5,548.7 765.9,546.0 766.4,549.1"/><path d="M766.4,549.1 766.8,546.1 767.3,549.4"/><path d="M767.3,549.4 767.3,522.8 767.7,548.6"/><path d="M767.7,548.6 768.2,548.2 768.6,543.6"/><path d="M768.6,543.6 769.1,548.6 769.5,548.4"/><path d="M769.5,548.4 770.0,545.2 770.4,547.1"/><path d="M770.4,547.1 770.9,548.0 771.3,550.3"/><path d="M771.3,550.3 771.8,550.0 772.2,541.9"/><path d="M772.2,541.9 772.7,527.4 773.1,534.7"/><path d="M773.1,534.7 773.6,518.3 774.0,538.2"/><path d="M774.0,538.2 774.5,481.2 774.9,536.6"/><path d="M774.9,536.6 775.4,523.3 775.8,508.2"/><path d="M775.8,508.2 776.3,488.4 776.7,447.1"/><path d="M776.7,447.1 777.2,441.1 777.3,76.8"/><path d="M777.3,76.8 777.6,443.5 778.1,502.8"/><path d="M778.1,502.8 778.5,551.6 779.0,461.4"/><path d="M779.0,461.4 779.4,538.6 779.9,473.8"/><path d="M779.9,473.8 780.3,551.2 780.8,543.5"/><path d="M780.8,543.5 781.2,507.7 781.7,507.0"/><path d="M781.7,507.0 782.1,551.7 782.6,543.3"/><path d="M782.6,543.3 783.0,547.7 783.5,548.5"/><path d="M783.5,548.5 783.9,552.3 784.4,550.2"/><path d="M784.4,550.2 784.8,549.8 785.3,545.5"/><path d="M785.3,545.5 785.7,544.1 786.2,549.0"/><path d="M786.2,549.0 786.6,550.8 787.1,543.6"/><path d="M787.1,543.6 787.5,538.1 788.0,549.6"/><path d="M788.0,549.6 788.4,544.5 788.9,548.2"/><path d="M788.9,548.2 789.3,550.8 789.8,551.5"/><path d="M789.8,551.5 790.2,548.1 790.7,546.2"/><path d="M790.7,546.2 791.1,550.0 791.6,549.5"/><path d="M791.6,549.5 792.0,547.9 792.1,499.8"/><path d="M792.1,499.8 792.5,527.4 792.9,528.8"/><path d="M792.9,528.8 793.4,550.7 793.8,511.5"/><path d="M793.8,511.5 794.3,550.9 794.7,550.0"/><path d="M794.7,550.0 795.2,540.4 795.6,547.7"/><path d="M795.6,547.7 796.1,520.5 796.5,547.4"/><path d="M796.5,547.4 797.0,507.6 797.4,541.4"/><path d="M797.4,541.4 797.9,510.6 798.3,499.0"/><path d="M798.3,499.0 798.8,510.2 799.2,532.8"/><path d="M799.2,532.8 799.7,519.5 800.1,527.7"/><path d="M800.1,527.7 800.3,448.5 800.6,510.3"/><path d="M800.6,510.3 801.0,506.9 801.5,544.9"/><path d="M801.5,544.9 801.9,539.6 802.4,538.2"/><path d="M802.4,538.2 802.8,547.5 803.3,551.2"/><path d="M803.3,551.2 803.7,546.5 804.2,549.6"/><path d="M804.2,549.6 804.5,439.6 804.6,552.2"/><path d="M804.6,552.2 805.1,538.4 805.5,548.2"/><path d="M805.5,548.2 806.0,540.9 806.3,485.6"/><path d="M806.3,485.6 806.4,548.2 806.9,551.5"/><path d="M806.9,551.5 807.3,551.0 807.8,550.3"/><path d="M807.8,550.3 808.2,496.1 808.7,534.4"/><path d="M808.7,534.4 809.1,553.1 809.6,525.6"/><path d="M809.6,525.6 809.8,368.8 810.0,531.6"/><path d="M810.0,531.6 810.5,528.5 810.9,536.3"/><path d="M810.9,536.3 811.4,542.6 811.8,503.4"/><path d="M811.8,503.4 812.3,552.9 812.7,539.6"/><path d="M812.7,539.6 813.2,530.8 813.6,550.9"/><path d="M813.6,550.9 814.1,537.2 814.5,546.8"/><path d="M814.5,546.8 815.0,541.6 815.1,478.5"/><path d="M815.1,478.5 815.4,546.1 815.9,549.1"/><path d="M815.9,549.1 816.3,552.2 816.8,537.1"/><path d="M816.8,537.1 817.2,552.2 817.7,549.6"/><path d="M817.7,549.6 818.1,527.0 818.6,546.2"/><path d="M818.6,546.2 819.0,520.2 819.4,489.2"/><path d="M819.4,489.2 819.5,545.8 819.9,547.8"/><path d="M819.9,547.8 820.4,522.5 820.8,544.6"/><path d="M820.8,544.6 821.3,544.7 821.7,543.1"/><path d="M821.7,543.1 822.2,551.3 822.6,528.1"/><path d="M822.6,528.1 823.1,551.0 823.5,539.5"/><path d="M823.5,539.5 824.0,549.8 824.4,544.6"/><path d="M824.4,544.6 824.7,453.8 824.9,548.2"/><path d="M824.9,548.2 825.3,549.6 825.8,540.9"/><path d="M825.8,540.9 826.2,543.5 826.7,548.6"/><path d="M826.7,548.6 827.1,538.7 827.6,530.2"/><path d="M827.6,530.2 828.0,543.0 828.5,543.4"/><path d="M828.5,543.4 828.9,549.7 829.4,545.0"/><path d="M829.4,545.0 829.8,540.1 830.3,548.5"/><path d="M830.3,548.5 830.7,538.5 831.2,545.6"/><path d="M831.2,545.6 831.6,541.3 832.1,527.5"/><path d="M832.1,527.5 832.5,548.2 833.0,544.1"/><path d="M833.0,544.1 833.4,522.4 833.9,514.5"/><path d="M833.9,514.5 834.3,534.4 834.8,467.6"/><path d="M834.8,467.6 835.2,516.9 835.7,514.0"/><path d="M835.7,514.0 836.1,494.6 836.6,512.1"/><path d="M836.6,512.1 837.0,514.8 837.5,524.7"/><path d="M837.5,524.7 837.9,473.2 838.4,509.3"/><path d="M838.4,509.3 838.8,517.7 839.2,186.5"/><path d="M839.2,186.5 839.3,533.1 839.7,481.1"/><path d="M839.7,481.1 840.2,505.7 840.6,510.8"/><path d="M840.6,510.8 841.1,458.9 841.5,530.2"/><path d="M841.5,530.2 842.0,477.4 842.0,257.3"/><path d="M842.0,257.3 842.4,497.7 842.9,513.8"/><path d="M842.9,513.8 843.3,491.6 843.8,527.8"/><path d="M843.8,527.8 844.2,460.8 844.7,524.7"/><path d="M844.7,524.7 845.1,524.0 845.6,510.6"/><path d="M845.6,510.6 846.0,524.7 846.5,535.0"/><path d="M846.5,535.0 846.9,502.8 847.4,475.0"/><path d="M847.4,475.0 847.8,530.3 848.3,517.8"/><path d="M848.3,517.8 848.7,490.1 848.8,275.0"/><path d="M848.8,275.0 849.2,469.0 849.6,485.8"/><path d="M849.6,485.8 850.1,505.3 850.5,529.3"/><path d="M850.5,529.3 851.0,526.5 851.4,490.7"/><path d="M851.4,490.7 851.9,497.1 852.3,500.6"/><path d="M852.3,500.6 852.8,492.1 853.2,534.8"/><path d="M853.2,534.8 853.7,536.7 854.1,395.4"/><path d="M854.1,395.4 854.1,539.5 854.6,530.7"/><path d="M854.6,530.7 855.0,517.2 855.5,472.3"/><path d="M855.5,472.3 855.9,540.1 856.4,500.3"/><path d="M856.4,500.3 856.8,543.2 857.3,529.1"/><path d="M857.3,529.1 857.6,436.1 857.7,541.4"/><path d="M857.7,541.4 858.2,513.1 858.6,540.1"/><path d="M858.6,540.1 859.1,541.0 859.5,533.7"/><path d="M859.5,533.7 860.0,512.7 860.4,521.2"/><path d="M860.4,521.2 860.9,539.5 861.3,530.5"/><path d="M861.3,530.5 861.8,517.3 862.2,540.1"/><path d="M862.2,540.1 862.7,508.9 862.9,388.3"/><path d="M862.9,388.3 863.1,508.3 863.6,543.4"/><path d="M863.6,543.4 864.0,538.9 864.5,519.8"/><path d="M864.5,519.8 864.9,523.8 865.4,538.1"/><path d="M865.4,538.1 865.8,540.7 866.3,543.8"/><path d="M866.3,543.8 866.5,395.4 866.7,545.3"/><path d="M866.7,545.3 867.2,543.3 867.6,521.1"/><path d="M867.6,521.1 868.1,534.3 868.5,514.2"/><path d="M868.5,514.2 869.0,527.7 869.4,537.2"/><path d="M869.4,537.2 869.9,526.9 870.3,511.6"/><path d="M870.3,511.6 870.8,496.0 871.2,501.5"/><path d="M871.2,501.5 871.7,494.4 872.1,528.7"/><path d="M872.1,528.7 872.6,521.7 873.0,543.7"/><path d="M873.0,543.7 873.5,540.7 873.9,489.2"/><path d="M873.9,489.2 874.2,246.7 874.4,540.2"/><path d="M874.4,540.2 874.8,526.5 875.3,505.4"/><path d="M875.3,505.4 875.7,329.9 875.7,476.3"/><path d="M875.7,476.3 876.2,518.3 876.6,541.3"/><path d="M876.6,541.3 877.1,516.4 877.5,529.5"/><path d="M877.5,529.5 877.8,352.9 878.0,478.7"/><path d="M878.0,478.7 878.4,497.9 878.9,518.5"/><path d="M878.9,518.5 879.3,493.9 879.8,476.0"/><path d="M879.8,476.0 879.9,397.1 880.2,503.1"/><path d="M880.2,503.1 880.7,499.2 881.1,527.7"/><path d="M881.1,527.7 881.6,514.0 882.0,537.9"/><path d="M882.0,537.9 882.5,503.2 882.9,533.3"/><path d="M882.9,533.3 883.4,503.4 883.8,518.9"/><path d="M883.8,518.9 884.3,483.1 884.7,502.5"/><path d="M884.7,502.5 885.2,546.0 885.6,532.8"/><path d="M885.6,532.8 886.1,544.3 886.5,505.8"/><path d="M886.5,505.8 886.6,101.5 887.0,527.1"/><path d="M887.0,527.1 887.4,551.8 887.9,515.9"/><path d="M887.9,515.9 888.3,552.9 888.8,553.4"/><path d="M888.8,553.4 889.2,548.7 889.7,521.0"/><path d="M889.7,521.0 890.1,554.3 890.6,548.4"/><path d="M890.6,548.4 891.0,511.2 891.5,523.8"/><path d="M891.5,523.8 891.9,527.5 892.4,547.3"/><path d="M892.4,547.3 892.8,534.9 893.3,545.2"/><path d="M893.3,545.2 893.7,553.9 894.2,548.6"/><path d="M894.2,548.6 894.6,552.7 895.1,500.8"/><path d="M895.1,500.8 895.5,548.0 896.0,498.7"/><path d="M896.0,498.7 896.4,544.6 896.5,411.3"/><path d="M896.5,411.3 896.9,527.8 897.3,539.2"/><path d="M897.3,539.2 897.8,518.1 898.2,538.0"/><path d="M898.2,538.0 898.7,495.0 899.1,540.2"/><path d="M899.1,540.2 899.6,540.1 900.0,547.1"/><path d="M900.0,547.1 900.5,546.0 900.9,546.2"/><path d="M900.9,546.2 901.4,536.1 901.8,494.3"/><path d="M901.8,494.3 902.3,502.3 902.7,542.8"/><path d="M902.7,542.8 903.2,515.1 903.6,496.6"/><path d="M903.6,496.6 904.1,545.7 904.5,546.5"/><path d="M904.5,546.5 905.0,543.8 905.4,383.0"/><path d="M905.4,383.0 905.4,537.7 905.9,491.0"/><path d="M905.9,491.0 906.3,517.9 906.8,495.7"/><path d="M906.8,495.7 907.2,544.9 907.7,536.7"/><path d="M907.7,536.7 908.1,548.0 908.6,506.8"/><path d="M908.6,506.8 909.0,546.0 909.5,540.6"/><path d="M909.5,540.6 909.6,395.4 909.9,504.3"/><path d="M909.9,504.3 910.4,513.2 910.8,545.0"/><path d="M910.8,545.0 911.3,548.2 911.7,527.1"/><path d="M911.7,527.1 912.2,535.5 912.6,490.6"/><path d="M912.6,490.6 913.1,501.2 913.5,541.8"/><path d="M913.5,541.8 914.0,548.4 914.2,315.7"/><path d="M914.2,315.7 914.4,535.2 914.9,496.6"/><path d="M914.9,496.6 915.3,514.7 915.8,532.4"/><path d="M915.8,532.4 916.2,532.4 916.7,527.7"/><path d="M916.7,527.7 916.7,411.3 917.1,545.7"/><path d="M917.1,545.7 917.6,548.4 918.0,545.7"/><path d="M918.0,545.7 918.5,528.0 918.9,521.2"/><path d="M918.9,521.2 919.4,543.8 919.8,539.2"/><path d="M919.8,539.2 920.3,522.8 920.7,496.4"/><path d="M920.7,496.4 921.2,510.7 921.6,523.6"/><path d="M921.6,523.6 922.1,547.6 922.5,524.3"/><path d="M922.5,524.3 923.0,519.8 923.1,446.7"/><path d="M923.1,446.7 923.4,546.8 923.9,539.3"/><path d="M923.9,539.3 924.3,496.3 924.8,527.8"/><path d="M924.8,527.8 925.2,544.5 925.7,534.5"/><path d="M925.7,534.5 926.1,529.2 926.6,540.7"/><path d="M926.6,540.7 927.0,494.0 927.5,519.3"/><path d="M927.5,519.3 927.9,550.8 928.4,546.3"/><path d="M928.4,546.3 928.8,515.8 929.3,493.0"/><path d="M929.3,493.0 929.7,547.5 930.2,542.2"/><path d="M930.2,542.2 930.6,538.2 931.1,548.5"/><path d="M931.1,548.5 931.5,551.4 931.9,418.4"/><path d="M931.9,418.4 932.0,536.0 932.4,535.9"/><path d="M932.4,535.9 932.9,515.8 933.3,546.9"/><path d="M933.3,546.9 933.8,545.9 934.2,525.9"/><path d="M934.2,525.9 934.7,543.1 935.1,533.0"/><path d="M935.1,533.0 935.6,514.3 936.0,551.7"/><path d="M936.0,551.7 936.5,496.1 936.9,549.3"/><path d="M936.9,549.3 937.4,550.3 937.8,532.5"/><path d="M937.8,532.5 938.3,529.6 938.7,420.1"/><path d="M938.7,420.1 938.7,551.7 939.2,551.4"/><path d="M939.2,551.4 939.6,537.2 940.1,515.2"/><path d="M940.1,515.2 940.5,507.2 941.0,537.1"/><path d="M941.0,537.1 941.4,488.1 941.9,527.6"/><path d="M941.9,527.6 942.3,555.0 942.8,501.1"/><path d="M942.8,501.1 943.2,554.5 943.7,550.7"/><path d="M943.7,550.7 944.1,544.6 944.6,526.9"/><path d="M944.6,526.9 945.0,480.2 945.5,543.4"/><path d="M945.5,543.4 945.9,520.4 946.4,550.3"/><path d="M946.4,550.3 946.8,493.2 947.3,543.2"/><path d="M947.3,543.2 947.7,551.9 947.9,446.7"/><path d="M947.9,446.7 948.2,523.0 948.6,542.4"/><path d="M948.6,542.4 949.1,530.4 949.5,553.9"/><path d="M949.5,553.9 950.0,550.4 950.4,505.0"/><path d="M950.4,505.0 950.9,511.6 951.3,531.4"/><path d="M951.3,531.4 951.8,546.6 952.2,506.9"/><path d="M952.2,506.9 952.7,505.1 953.1,550.1"/><path d="M953.1,550.1 953.6,467.8 954.0,535.6"/><path d="M954.0,535.6 954.5,544.8 954.9,537.8"/><path d="M954.9,537.8 955.4,515.0 955.7,418.4"/><path d="M955.7,418.4 955.8,537.4 956.3,538.1"/><path d="M956.3,538.1 956.7,536.1 957.2,551.5"/><path d="M957.2,551.5 957.6,540.5 958.1,532.3"/><path d="M958.1,532.3 958.5,499.7 959.0,533.6"/><path d="M959.0,533.6 959.4,551.2 959.9,485.7"/><path d="M959.9,485.7 960.3,549.3 960.8,537.9"/><path d="M960.8,537.9 961.2,486.6 961.3,340.5"/><path d="M961.3,340.5 961.7,522.2 962.1,505.8"/><path d="M962.1,505.8 962.6,540.5 963.0,489.3"/><path d="M963.0,489.3 963.5,524.0 963.8,167.0"/><path d="M963.8,167.0 963.9,542.0 964.4,501.2"/><path d="M964.4,501.2 964.8,531.9 965.3,546.8"/><path d="M965.3,546.8 965.7,473.8 966.2,524.1"/><path d="M966.2,524.1 966.3,391.8 966.6,501.2"/><path d="M966.6,501.2 967.1,516.0 967.5,551.8"/><path d="M967.5,551.8 968.0,544.7 968.4,538.7"/><path d="M968.4,538.7 968.9,467.5 969.3,543.9"/><path d="M969.3,543.9 969.8,533.2 970.2,529.3"/><path d="M970.2,529.3 970.7,512.4 971.1,549.2"/><path d="M971.1,549.2 971.6,552.1 972.0,512.8"/><path d="M972.0,512.8 972.5,547.7 972.9,539.5"/><path d="M972.9,539.5 973.4,523.1 973.8,534.1"/><path d="M973.8,534.1 974.3,549.1 974.4,436.1"/><path d="M974.4,436.1 974.7,539.9 975.2,530.5"/><path d="M975.2,530.5 975.6,537.6 976.1,528.3"/><path d="M976.1,528.3 976.5,524.6 977.0,522.5"/><path d="M977.0,522.5 977.4,529.4 977.9,546.9"/><path d="M977.9,546.9 978.3,548.5 978.8,545.2"/><path d="M978.8,545.2 979.2,547.0 979.7,538.4"/><path d="M979.7,538.4 980.1,516.8 980.6,543.8"/><path d="M980.6,543.8 981.0,478.7 981.5,551.0"/><path d="M981.5,551.0 981.5,429.0 981.9,536.7"/><path d="M981.9,536.7 982.4,521.3 982.8,540.3"/><path d="M982.8,540.3 983.3,484.2 983.7,541.4"/><path d="M983.7,541.4 984.2,501.6 984.6,527.5"/><path d="M984.6,527.5 985.0,393.6 985.1,502.0"/><path d="M985.1,502.0 985.5,531.3 986.0,486.6"/><path d="M986.0,486.6 986.4,548.7 986.9,506.1"/><path d="M986.9,506.1 987.3,518.9 987.8,518.7"/><path d="M987.8,518.7 987.9,156.4 988.2,540.3"/><path d="M988.2,540.3 988.7,526.1 989.1,532.3"/><path d="M989.1,532.3 989.6,462.3 990.0,551.3"/><path d="M990.0,551.3 990.4,335.2 990.5,549.1"/><path d="M990.5,549.1 990.9,549.4 991.4,532.2"/><path d="M991.4,532.2 991.8,549.6 992.3,528.0"/><path d="M992.3,528.0 992.7,528.1 993.2,533.8"/><path d="M993.2,533.8 993.6,513.6 993.9,429.0"/><path d="M993.9,429.0 994.1,518.2 994.5,521.1"/><path d="M994.5,521.1 995.0,545.4 995.4,475.6"/><path d="M995.4,475.6 995.9,508.4 996.3,546.1"/><path d="M996.3,546.1 996.8,536.3 997.2,542.2"/><path d="M997.2,542.2 997.7,525.2 998.1,489.2"/><path d="M998.1,489.2 998.6,500.3 999.0,532.7"/><path d="M999.0,532.7 999.5,522.0 999.9,531.1"/><path d="M999.9,531.1 1000.4,547.4 1000.8,547.2"/><path d="M1000.8,547.2 1001.3,528.3 1001.7,542.4"/><path d="M1001.7,542.4 1002.2,474.5 1002.6,552.5"/><path d="M1002.6,552.5 1002.7,259.1 1003.1,530.4"/><path d="M1003.1,530.4 1003.5,546.3 1004.0,512.2"/><path d="M1004.0,512.2 1004.4,495.6 1004.9,533.5"/><path d="M1004.9,533.5 1005.3,513.5 1005.8,546.5"/><path d="M1005.8,546.5 1006.2,547.7 1006.3,375.9"/><path d="M1006.3,375.9 1006.7,534.7 1007.1,516.8"/><path d="M1007.1,516.8 1007.6,549.3 1008.0,534.3"/><path d="M1008.0,534.3 1008.5,551.4 1008.9,528.3"/><path d="M1008.9,528.3 1009.4,535.4 1009.8,537.4"/><path d="M1009.8,537.4 1010.3,546.7 1010.7,495.7"/><path d="M1010.7,495.7 1011.2,448.9 1011.6,490.8"/><path d="M1011.6,490.8 1012.1,524.8 1012.5,529.5"/><path d="M1012.5,529.5 1013.0,539.0 1013.4,375.9"/><path d="M1013.4,375.9 1013.4,543.1 1013.9,552.9"/><path d="M1013.9,552.9 1014.3,519.8 1014.8,464.7"/><path d="M1014.8,464.7 1015.2,534.5 1015.7,530.9"/><path d="M1015.7,530.9 1016.1,555.0 1016.6,552.1"/><path d="M1016.6,552.1 1016.9,129.9 1017.0,445.5"/><path d="M1017.0,445.5 1017.5,540.7 1017.9,523.8"/><path d="M1017.9,523.8 1018.4,509.5 1018.7,287.4"/><path d="M1018.7,287.4 1018.8,515.3 1019.3,536.6"/><path d="M1019.3,536.6 1019.7,548.0 1020.2,513.1"/><path d="M1020.2,513.1 1020.6,512.8 1021.1,469.5"/><path d="M1021.1,469.5 1021.5,513.6 1022.0,522.0"/><path d="M1022.0,522.0 1022.2,383.0 1022.4,515.7"/><path d="M1022.4,515.7 1022.9,546.1 1023.3,519.7"/><path d="M1023.3,519.7 1023.8,535.3 1024.2,451.5"/><path d="M1024.2,451.5 1024.7,492.9 1025.0,119.2"/><path d="M1025.0,119.2 1025.1,535.7 1025.6,533.4"/><path d="M1025.6,533.4 1026.0,479.8 1026.5,554.9"/><path d="M1026.5,554.9 1026.9,502.9 1027.4,555.1"/><path d="M1027.4,555.1 1027.8,523.7 1028.3,501.8"/><path d="M1028.3,501.8 1028.7,501.8 1029.2,502.1"/><path d="M1029.2,502.1 1029.6,529.0 1030.1,546.9"/><path d="M1030.1,546.9 1030.5,518.4 1031.0,476.2"/><path d="M1031.0,476.2 1031.4,516.6 1031.4,342.3"/><path d="M1031.4,342.3 1031.9,554.5 1032.3,509.1"/><path d="M1032.3,509.1 1032.8,554.5 1033.2,547.0"/><path d="M1033.2,547.0 1033.7,478.0 1034.1,491.4"/><path d="M1034.1,491.4 1034.6,506.4 1035.0,506.4"/><path d="M1035.0,506.4 1035.5,547.9 1035.9,481.4"/><path d="M1035.9,481.4 1036.4,519.5 1036.4,416.6"/><path d="M1036.4,416.6 1036.8,524.8 1037.3,534.9"/><path d="M1037.3,534.9 1037.7,539.5 1038.2,482.7"/><path d="M1038.2,482.7 1038.6,551.0 1039.1,497.3"/><path d="M1039.1,497.3 1039.5,502.0 1040.0,547.9"/><path d="M1040.0,547.9 1040.4,533.6 1040.6,315.7"/><path d="M1040.6,315.7 1040.9,526.2 1041.3,547.5"/><path d="M1041.3,547.5 1041.8,520.8 1042.2,484.7"/><path d="M1042.2,484.7 1042.7,526.5 1043.1,474.4"/><path d="M1043.1,474.4 1043.6,533.7 1044.0,549.9"/><path d="M1044.0,549.9 1044.5,519.5 1044.9,538.6"/><path d="M1044.9,538.6 1045.4,517.4 1045.8,504.1"/><path d="M1045.8,504.1 1046.3,477.7 1046.7,532.8"/><path d="M1046.7,532.8 1047.2,518.4 1047.6,510.2"/><path d="M1047.6,510.2 1048.1,547.7 1048.5,537.3"/><path d="M1048.5,537.3 1048.8,406.0 1049.0,538.3"/><path d="M1049.0,538.3 1049.4,540.9 1049.9,534.5"/><path d="M1049.9,534.5 1050.3,530.8 1050.8,500.1"/><path d="M1050.8,500.1 1051.2,519.3 1051.7,492.6"/><path d="M1051.7,492.6 1052.1,550.3 1052.3,418.4"/><path d="M1052.3,418.4 1052.6,497.3 1053.0,549.2"/><path d="M1053.0,549.2 1053.5,532.6 1053.9,546.7"/><path d="M1053.9,546.7 1054.4,523.5 1054.8,550.3"/><path d="M1054.8,550.3 1055.3,526.2 1055.7,539.9"/><path d="M1055.7,539.9 1056.2,530.3 1056.6,550.4"/><path d="M1056.6,550.4 1057.1,544.9 1057.5,549.2"/><path d="M1057.5,549.2 1058.0,539.8 1058.4,546.8"/><path d="M1058.4,546.8 1058.9,547.1 1059.3,561.0"/><path d="M1059.3,561.0 1059.8,548.8 1060.2,531.3"/><path d="M1060.2,531.3 1060.7,539.0 1061.1,540.4"/><path d="M1061.1,540.4 1061.6,539.7 1062.0,571.2"/><path d="M1062.0,571.2 1062.5,525.8 1062.9,576.4"/><path d="M1062.9,576.4 1063.4,560.0 1063.8,556.9"/><path d="M1063.8,556.9 1064.0,411.3 1064.3,546.2"/><path d="M1064.3,546.2 1064.7,561.6 1065.2,547.1"/><path d="M1065.2,547.1 1065.6,585.3 1066.1,586.1"/><path d="M1066.1,586.1 1066.5,579.0 1067.0,589.5"/><path d="M1067.0,589.5 1067.4,571.8 1067.9,559.1"/><path d="M1067.9,559.1 1068.2,446.7 1068.3,562.9"/><path d="M1068.3,562.9 1068.8,567.9 1069.2,590.1"/><path d="M1069.2,590.1 1069.7,587.2 1070.1,587.3"/><path d="M1070.1,587.3 1070.6,591.2 1071.0,594.4"/><path d="M1071.0,594.4 1071.5,593.0 1071.8,513.9"/><path d="M1071.8,513.9 1071.9,584.5 1072.4,586.9"/><path d="M1072.4,586.9 1072.8,592.6 1073.3,586.9"/><path d="M1073.3,586.9 1073.7,592.4 1074.2,592.2"/><path d="M1074.2,592.2 1074.6,593.0 1075.1,592.5"/><path d="M1075.1,592.5 1075.5,577.1 1076.0,592.7"/><path d="M1076.0,592.7 1076.4,591.9 1076.9,592.3"/><path d="M1076.9,592.3 1077.1,552.9 1077.3,581.8"/><path d="M1077.3,581.8 1077.8,576.2 1078.2,589.0"/><path d="M1078.2,589.0 1078.7,582.5 1079.1,588.3"/><path d="M1079.1,588.3 1079.6,577.9 1080.0,590.5"/><path d="M1080.0,590.5 1080.5,590.8 1080.9,591.4"/><path d="M1080.9,591.4 1081.4,594.6 1081.8,591.1"/><path d="M1081.8,591.1 1082.3,591.8 1082.4,556.4"/><path d="M1082.4,556.4 1082.7,596.5 1083.2,596.0"/><path d="M1083.2,596.0 1083.6,590.1 1084.1,592.7"/><path d="M1084.1,592.7 1084.5,595.7 1085.0,596.4"/><path d="M1085.0,596.4 1085.4,595.2 1085.9,592.0"/><path d="M1085.9,592.0 1086.3,591.9 1086.8,594.3"/><path d="M1086.8,594.3 1087.2,596.9 1087.7,590.1"/><path d="M1087.7,590.1 1087.7,567.0 1088.1,594.7"/><path d="M1088.1,594.7 1088.6,597.2 1089.0,596.7"/><path d="M1089.0,596.7 1089.5,594.8 1089.9,595.2"/><path d="M1089.9,595.2 1090.4,582.3 1090.8,592.6"/><path d="M1090.8,592.6 1091.3,597.8 1091.7,597.1"/><path d="M1091.7,597.1 1091.9,570.6 1092.2,595.9"/><path d="M1092.2,595.9 1092.6,595.4 1093.1,598.7"/><path d="M1093.1,598.7 1093.5,590.7 1094.0,597.0"/><path d="M1094.0,597.0 1094.4,586.7 1094.9,599.1"/><path d="M1094.9,599.1 1095.3,599.1 1095.8,595.3"/><path d="M1095.8,595.3 1096.2,596.1 1096.7,598.7"/><path d="M1096.7,598.7 1097.1,595.5 1097.6,599.5"/><path d="M1097.6,599.5 1098.0,598.0 1098.5,599.1"/><path d="M1098.5,599.1 1098.9,600.4 1099.4,592.2"/><path d="M1099.4,592.2 1099.8,599.5 1100.1,586.5"/><path d="M1100.1,586.5 1100.3,598.8 1100.7,600.1"/><path d="M1100.7,600.1 1101.2,600.4 1101.6,600.3"/><path d="M1101.6,600.3 1102.1,596.8 1102.5,597.8"/><path d="M1102.5,597.8 1103.0,601.2 1103.4,601.2"/><path d="M1103.4,601.2 1103.9,600.9 1104.3,600.4"/><path d="M1104.3,600.4 1104.8,598.9 1105.2,602.2"/><path d="M1105.2,602.2 1105.7,593.1 1106.1,601.1"/><path d="M1106.1,601.1 1106.6,599.8 1107.0,598.4"/><path d="M1107.0,598.4 1107.5,602.3 1107.9,602.2"/><path d="M1107.9,602.2 1108.4,598.3 1108.8,600.0"/><path d="M1108.8,600.0 1109.3,602.1 1109.7,599.3"/><path d="M1109.7,599.3 1110.2,601.8 1110.6,601.2"/><path d="M1110.6,601.2 1111.1,602.1 1111.5,602.3"/><path d="M1111.5,602.3 1112.0,602.1 1112.4,601.7"/><path d="M1112.4,601.7 1112.9,602.2 1113.3,602.2"/><path d="M1113.3,602.2 1113.8,602.1 1114.2,602.2"/><path d="M1114.2,602.2 1114.7,602.3 1115.1,602.3"/><path d="M1115.1,602.3 1115.6,601.6 1116.0,601.9"/><path d="M1116.0,601.9 1116.5,600.6 1116.9,602.0"/><path d="M1116.9,602.0 1117.4,601.9 1117.8,600.9"/><path d="M1117.8,600.9 1118.3,594.8 1118.7,602.5"/><path d="M1118.7,602.5 1119.2,601.7 1119.6,600.5"/><path d="M1119.6,600.5 1120.1,602.6 1120.5,601.8"/><path d="M1120.5,601.8 1121.0,601.6 1121.4,602.2"/><path d="M1121.4,602.2 1121.9,602.4 1122.3,601.4"/><path d="M1122.3,601.4 1122.8,602.3 1123.2,601.6"/><path d="M1123.2,601.6 1123.7,601.3 1124.1,601.9"/><path d="M1124.1,601.9 1124.6,601.9 1125.0,599.2"/><path d="M1125.0,599.2 1125.5,601.4 1125.9,601.6"/><path d="M1125.9,601.6 1126.4,601.7 1126.8,601.5"/><path d="M1126.8,601.5 1127.3,601.7 1127.7,601.7"/><path d="M1127.7,601.7 1128.2,601.6 1128.6,593.0"/><path d="M1128.6,593.0 1129.1,600.2 1129.5,600.9"/><path d="M1129.5,600.9 1130.0,600.8 1130.4,598.9"/><path d="M1130.4,598.9 1130.9,600.8 1131.3,599.4"/><path d="M1131.3,599.4 1131.8,597.6 1132.2,598.9"/><path d="M1132.2,598.9 1132.7,600.3 1133.1,599.3"/><path d="M1133.1,599.3 1133.6,594.4 1134.0,598.4"/><path d="M1134.0,598.4 1134.5,599.9 1134.9,598.5"/><path d="M1134.9,598.5 1135.4,597.7 1135.8,595.9"/><path d="M1135.8,595.9 1136.3,598.5 1136.7,599.5"/><path d="M1136.7,599.5 1137.2,597.9 1137.6,598.9"/><path d="M1137.6,598.9 1138.1,598.5 1138.5,597.8"/><path d="M1138.5,597.8 1139.0,596.4 1139.0,552.9"/><path d="M1139.0,552.9 1139.4,597.4 1139.9,593.8"/><path d="M1139.9,593.8 1140.3,592.1 1140.8,597.2"/><path d="M1140.8,597.2 1141.2,598.0 1141.7,596.4"/><path d="M1141.7,596.4 1142.1,597.6 1142.6,598.3"/><path d="M1142.6,598.3 1142.6,554.6 1143.0,596.6"/><path d="M1143.0,596.6 1143.5,588.3 1143.9,594.1"/><path d="M1143.9,594.1 1144.4,591.5 1144.8,595.0"/><path d="M1144.8,595.0 1145.3,594.6 1145.7,595.0"/><path d="M1145.7,595.0 1146.2,588.8 1146.6,597.7"/><path d="M1146.6,597.7 1147.1,596.9 1147.5,595.9"/><path d="M1147.5,595.9 1148.0,578.5 1148.4,595.7"/><path d="M1148.4,595.7 1148.9,596.9 1149.3,594.4"/><path d="M1149.3,594.4 1149.8,596.3 1150.2,596.5"/><path d="M1150.2,596.5 1150.7,594.6 1151.1,596.0"/><path d="M1151.1,596.0 1151.6,596.7 1152.0,594.8"/><path d="M1152.0,594.8 1152.5,584.9 1152.5,556.4"/><path d="M1152.5,556.4 1152.9,596.0 1153.4,593.0"/><path d="M1153.4,593.0 1153.8,596.3 1154.3,592.5"/><path d="M1154.3,592.5 1154.7,593.1 1155.2,595.1"/><path d="M1155.2,595.1 1155.6,584.7 1156.1,595.7"/><path d="M1156.1,595.7 1156.5,595.5 1157.0,593.3"/><path d="M1157.0,593.3 1157.4,590.3 1157.9,594.0"/><path d="M1157.9,594.0 1158.3,595.2 1158.8,593.4"/><path d="M1158.8,593.4 1159.2,592.9 1159.7,593.0"/><path d="M1159.7,593.0 1160.1,594.5 1160.6,594.7"/><path d="M1160.6,594.7 1161.0,594.4 1161.5,570.6"/><path d="M1161.5,570.6 1161.9,591.4 1162.4,585.3"/><path d="M1162.4,585.3 1162.8,591.1 1163.3,585.8"/><path d="M1163.3,585.8 1163.7,589.4 1163.8,533.4"/><path d="M1163.8,533.4 1164.2,592.5 1164.6,591.2"/><path d="M1164.6,591.2 1165.1,582.3 1165.5,582.7"/><path d="M1165.5,582.7 1166.0,579.8 1166.4,592.8"/><path d="M1166.4,592.8 1166.9,577.6 1167.3,589.1"/><path d="M1167.3,589.1 1167.3,535.2 1167.8,569.8"/><path d="M1167.8,569.8 1168.2,588.7 1168.7,592.4"/><path d="M1168.7,592.4 1169.1,592.6 1169.6,579.8"/><path d="M1169.6,579.8 1170.0,591.8 1170.5,589.4"/><path d="M1170.5,589.4 1170.9,585.1 1171.4,580.9"/><path d="M1171.4,580.9 1171.8,574.4 1171.9,494.5"/><path d="M1171.9,494.5 1172.3,572.8 1172.7,591.9"/><path d="M1172.7,591.9 1173.2,577.7 1173.6,592.3"/><path d="M1173.6,592.3 1174.1,582.3 1174.5,591.4"/><path d="M1174.5,591.4 1175.0,589.2 1175.4,567.5"/><path d="M1175.4,567.5 1175.9,591.2 1176.3,588.4"/><path d="M1176.3,588.4 1176.5,457.3 1176.8,575.3"/><path d="M1176.8,575.3 1177.2,581.7 1177.7,575.1"/><path d="M1177.7,575.1 1178.1,571.3 1178.6,590.7"/><path d="M1178.6,590.7 1179.0,567.4 1179.5,585.2"/><path d="M1179.5,585.2 1179.9,586.5 1180.4,587.8"/><path d="M1180.4,587.8 1180.8,590.8 1181.3,590.6"/><path d="M1181.3,590.6 1181.7,589.8 1182.2,579.9"/><path d="M1182.2,579.9 1182.6,589.3 1183.1,590.1"/><path d="M1183.1,590.1 1183.3,563.5 1183.5,582.0"/><path d="M1183.5,582.0 1184.0,578.9 1184.4,581.6"/><path d="M1184.4,581.6 1184.9,576.6 1185.3,587.2"/><path d="M1185.3,587.2 1185.8,577.7 1186.2,589.2"/><path d="M1186.2,589.2 1186.7,579.8 1187.1,586.1"/><path d="M1187.1,586.1 1187.6,584.2 1188.0,583.7"/><path d="M1188.0,583.7 1188.5,584.5 1188.9,579.8"/><path d="M1188.9,579.8 1189.4,589.0 1189.6,535.2"/><path d="M1189.6,535.2 1189.8,583.4 1190.3,579.5"/><path d="M1190.3,579.5 1190.7,582.6 1191.2,585.5"/><path d="M1191.2,585.5 1191.6,574.8 1192.1,565.0"/><path d="M1192.1,565.0 1192.5,581.7 1193.0,577.1"/><path d="M1193.0,577.1 1193.4,586.4 1193.9,587.5"/><path d="M1193.9,587.5 1193.9,551.1 1194.3,583.2"/><path d="M1194.3,583.2 1194.8,583.2 1195.2,578.2"/><path d="M1195.2,578.2 1195.7,582.7 1196.1,577.5"/><path d="M1196.1,577.5 1196.6,573.8 1197.0,577.6"/><path d="M1197.0,577.6 1197.5,588.8 1197.9,585.0"/><path d="M1197.9,585.0 1198.4,568.8 1198.8,575.2"/><path d="M1198.8,575.2 1199.2,538.7 1199.3,583.7"/><path d="M1199.3,583.7 1199.7,577.5 1200.2,587.4"/><path d="M1200.2,587.4 1200.6,566.6 1201.1,589.4"/><path d="M1201.1,589.4 1201.5,586.6 1202.0,577.2"/><path d="M1202.0,577.2 1202.4,585.9 1202.9,585.2"/><path d="M1202.9,585.2 1203.3,570.7 1203.8,589.0"/><path d="M1203.8,589.0 1204.2,584.9 1204.7,586.5"/><path d="M1204.7,586.5 1205.1,590.8 1205.6,583.5"/><path d="M1205.6,583.5 1205.6,519.2 1206.0,587.8"/><path d="M1206.0,587.8 1206.5,589.9 1206.9,589.2"/><path d="M1206.9,589.2 1207.4,586.9 1207.8,579.9"/><path d="M1207.8,579.9 1208.3,585.9 1208.7,589.4"/><path d="M1208.7,589.4 1209.2,572.5 1209.6,591.8"/><path d="M1209.6,591.8 1210.1,590.8 1210.5,584.5"/><path d="M1210.5,584.5 1211.0,590.4 1211.4,591.8"/><path d="M1211.4,591.8 1211.9,582.1 1212.3,589.6"/><path d="M1212.3,589.6 1212.8,590.7 1213.2,589.2"/><path d="M1213.2,589.2 1213.4,556.4 1213.7,589.5"/><path d="M1213.7,589.5 1214.1,589.7 1214.6,592.2"/><path d="M1214.6,592.2 1215.0,589.9 1215.5,589.6"/><path d="M1215.5,589.6 1215.9,583.7 1216.4,587.0"/><path d="M1216.4,587.0 1216.8,590.6 1217.3,590.6"/><path d="M1217.3,590.6 1217.7,584.8 1218.0,552.9"/><path d="M1218.0,552.9 1218.2,584.4 1218.6,588.2"/><path d="M1218.6,588.2 1219.1,587.2 1219.5,590.5"/><path d="M1219.5,590.5 1220.0,568.1 1220.4,581.7"/><path d="M1220.4,581.7 1220.9,589.9 1221.3,589.2"/><path d="M1221.3,589.2 1221.8,589.6 1222.2,585.6"/><path d="M1222.2,585.6 1222.7,580.6 1222.9,551.1"/><path d="M1222.9,551.1 1223.1,578.3 1223.6,583.8"/><path d="M1223.6,583.8 1224.0,585.9 1224.5,585.2"/><path d="M1224.5,585.2 1224.9,589.0 1225.4,569.7"/><path d="M1225.4,569.7 1225.8,582.9 1226.3,583.0"/><path d="M1226.3,583.0 1226.7,583.3 1227.2,567.2"/><path d="M1227.2,567.2 1227.6,588.5 1228.1,587.4"/><path d="M1228.1,587.4 1228.5,584.9 1229.0,584.4"/><path d="M1229.0,584.4 1229.4,588.0 1229.9,579.5"/><path d="M1229.9,579.5 1230.0,466.2 1230.3,583.8"/><path d="M1230.3,583.8 1230.8,584.9 1231.2,588.3"/><path d="M1231.2,588.3 1231.7,582.3 1232.1,569.0"/><path d="M1232.1,569.0 1232.6,578.8 1233.0,587.3"/><path d="M1233.0,587.3 1233.5,574.0 1233.5,535.2"/><path d="M1233.5,535.2 1233.9,588.3 1234.4,573.5"/><path d="M1234.4,573.5 1234.8,589.5 1235.3,584.0"/><path d="M1235.3,584.0 1235.7,571.1 1236.2,585.8"/><path d="M1236.2,585.8 1236.6,590.3 1237.1,587.0"/><path d="M1237.1,587.0 1237.5,586.3 1238.0,583.7"/><path d="M1238.0,583.7 1238.4,583.7 1238.5,351.1"/><path d="M1238.5,351.1 1238.9,550.2 1239.3,588.7"/><path d="M1239.3,588.7 1239.8,584.1 1240.2,586.9"/><path d="M1240.2,586.9 1240.6,453.8 1240.7,584.7"/><path d="M1240.7,584.7 1241.1,565.3 1241.6,576.8"/><path d="M1241.6,576.8 1242.0,568.0 1242.5,566.9"/><path d="M1242.5,566.9 1242.9,568.8 1243.4,571.7"/><path d="M1243.4,571.7 1243.5,510.4 1243.8,586.6"/><path d="M1243.8,586.6 1244.3,584.3 1244.7,587.7"/><path d="M1244.7,587.7 1245.2,571.4 1245.6,584.9"/><path d="M1245.6,584.9 1246.1,578.5 1246.5,576.6"/><path d="M1246.5,576.6 1247.0,578.4 1247.4,574.3"/><path d="M1247.4,574.3 1247.9,575.3 1248.3,570.7"/><path d="M1248.3,570.7 1248.8,578.4 1249.2,577.8"/><path d="M1249.2,577.8 1249.7,566.1 1250.1,570.8"/><path d="M1250.1,570.8 1250.6,572.8 1251.0,574.7"/><path d="M1251.0,574.7 1251.5,574.3 1251.9,556.6"/><path d="M1251.9,556.6 1252.4,571.6 1252.8,558.4"/><path d="M1252.8,558.4 1253.3,564.0 1253.7,569.7"/><path d="M1253.7,569.7 1254.2,569.8 1254.6,569.5"/><path d="M1254.6,569.5 1255.1,558.8 1255.5,555.2"/><path d="M1255.5,555.2 1256.0,566.0 1256.4,565.6"/><path d="M1256.4,565.6 1256.9,565.0 1257.3,562.6"/><path d="M1257.3,562.6 1257.8,564.0 1258.2,562.9"/><path d="M1258.2,562.9 1258.7,561.8 1259.1,563.1"/><path d="M1259.1,563.1 1259.6,562.8 1260.0,559.8"/><path d="M1260.0,559.8 1260.5,563.0 1260.9,554.6"/><path d="M1260.9,554.6 1261.4,559.5 1261.8,561.6"/><path d="M1261.8,561.6 1262.3,556.3 1262.7,557.7"/><path d="M1262.7,557.7 1263.2,559.3 1263.6,558.1"/><path d="M1263.6,558.1 1264.1,555.9 1264.5,553.9"/><path d="M1264.5,553.9 1264.7,503.3 1265.0,555.4"/><path d="M1265.0,555.4 1265.4,554.6 1265.9,553.4"/><path d="M1265.9,553.4 1266.3,551.7 1266.8,557.7"/><path d="M1266.8,557.7 1267.2,559.3 1267.7,556.5"/><path d="M1267.7,556.5 1268.1,559.1 1268.6,550.2"/><path d="M1268.6,550.2 1269.0,556.6 1269.5,556.0"/><path d="M1269.5,556.0 1269.9,557.4 1270.4,557.9"/><path d="M1270.4,557.9 1270.8,557.5 1271.3,556.5"/><path d="M1271.3,556.5 1271.7,553.7 1271.8,542.3"/><path d="M1271.8,542.3 1272.2,554.8 1272.6,554.7"/><path d="M1272.6,554.7 1273.1,554.4 1273.5,554.8"/><path d="M1273.5,554.8 1274.0,555.1 1274.4,555.1"/><path d="M1274.4,555.1 1274.9,547.9 1275.3,550.5"/><path d="M1275.3,550.5 1275.8,554.1 1276.2,554.0"/><path d="M1276.2,554.0 1276.7,549.1 1277.1,550.9"/><path d="M1277.1,550.9 1277.6,552.6 1278.0,550.8"/><path d="M1278.0,550.8 1278.5,551.8 1278.8,542.3"/><path d="M1278.8,542.3 1278.9,550.8 1279.4,551.6"/><path d="M1279.4,551.6 1279.8,548.6 1280.3,545.9"/><path d="M1280.3,545.9 1280.7,551.9 1281.2,551.1"/><path d="M1281.2,551.1 1281.6,546.2 1282.1,550.1"/><path d="M1282.1,550.1 1282.5,550.7 1283.0,551.4"/><path d="M1283.0,551.4 1283.4,548.9 1283.9,549.6"/><path d="M1283.9,549.6 1284.3,548.6 1284.8,546.6"/><path d="M1284.8,546.6 1285.2,548.8 1285.7,545.1"/><path d="M1285.7,545.1 1286.1,546.3 1286.6,548.4"/><path d="M1286.6,548.4 1287.0,547.1 1287.5,546.5"/><path d="M1287.5,546.5 1287.9,546.7 1288.4,547.0"/><path d="M1288.4,547.0 1288.8,548.7 1289.3,547.1"/><path d="M1289.3,547.1 1289.7,545.3 1290.2,546.4"/><path d="M1290.2,546.4 1290.6,546.0 1291.1,545.5"/><path d="M1291.1,545.5 1291.5,545.0 1292.0,542.5"/><path d="M1292.0,542.5 1292.4,546.3 1292.9,544.3"/><path d="M1292.9,544.3 1293.3,543.2 1293.8,540.7"/><path d="M1293.8,540.7 1294.2,542.0 1294.7,542.4"/><path d="M1294.7,542.4 1295.1,544.3 1295.6,537.6"/><path d="M1295.6,537.6 1296.0,541.7 1296.5,542.1"/><path d="M1296.5,542.1 1296.9,541.3 1297.4,541.9"/><path d="M1297.4,541.9 1297.8,540.4 1298.3,538.7"/><path d="M1298.3,538.7 1298.7,541.0 1299.2,541.5"/><path d="M1299.2,541.5 1299.6,541.1 1300.1,537.5"/><path d="M1300.1,537.5 1300.1,531.6 1300.5,536.0"/><path d="M1300.5,536.0 1301.0,536.7 1301.4,540.5"/><path d="M1301.4,540.5 1301.9,539.6 1302.3,534.8"/><path d="M1302.3,534.8 1302.8,539.5 1303.2,535.1"/><path d="M1303.2,535.1 1303.7,532.8 1304.1,536.6"/><path d="M1304.1,536.6 1304.6,537.4 1305.0,537.1"/><path d="M1305.0,537.1 1305.5,535.2 1305.9,533.6"/><path d="M1305.9,533.6 1306.4,529.8 1306.8,536.9"/><path d="M1306.8,536.9 1307.3,529.7 1307.7,536.6"/><path d="M1307.7,536.6 1308.2,531.8 1308.2,519.2"/><path d="M1308.2,519.2 1308.6,536.1 1309.1,534.6"/><path d="M1309.1,534.6 1309.5,531.3 1310.0,532.8"/><path d="M1310.0,532.8 1310.4,535.6 1310.9,527.8"/><path d="M1310.9,527.8 1311.3,535.0 1311.8,533.6"/><path d="M1311.8,533.6 1312.2,532.6 1312.7,534.2"/><path d="M1312.7,534.2 1313.1,533.5 1313.6,533.6"/><path d="M1313.6,533.6 1314.0,531.6 1314.5,528.8"/><path d="M1314.5,528.8 1314.9,532.9 1315.4,530.5"/><path d="M1315.4,530.5 1315.8,531.6 1316.3,532.1"/><path d="M1316.3,532.1 1316.7,524.0 1317.2,530.1"/><path d="M1317.2,530.1 1317.6,529.6 1318.1,529.3"/><path d="M1318.1,529.3 1318.5,527.2 1319.0,522.8"/><path d="M1319.0,522.8 1319.4,526.3 1319.9,527.9"/><path d="M1319.9,527.9 1320.3,529.7 1320.8,529.1"/><path d="M1320.8,529.1 1321.2,528.5 1321.7,527.4"/><path d="M1321.7,527.4 1322.1,528.4 1322.6,523.4"/><path d="M1322.6,523.4 1323.0,526.9 1323.5,527.0"/><path d="M1323.5,527.0 1323.9,518.1 1324.4,526.6"/><path d="M1324.4,526.6 1324.8,523.3 1325.3,525.8"/><path d="M1325.3,525.8 1325.6,499.8 1325.7,526.7"/><path d="M1325.7,526.7 1326.2,525.9 1326.6,516.3"/><path d="M1326.6,516.3 1327.1,521.1 1327.5,525.0"/><path d="M1327.5,525.0 1328.0,524.4 1328.4,517.7"/><path d="M1328.4,517.7 1328.9,522.3 1329.3,525.3"/><path d="M1329.3,525.3 1329.8,525.2 1330.2,522.1"/><path d="M1330.2,522.1 1330.7,524.6 1331.1,523.5"/><path d="M1331.1,523.5 1331.6,523.1 1332.0,523.5"/><path d="M1332.0,523.5 1332.5,521.3 1332.9,514.3"/><path d="M1332.9,514.3 1333.4,523.8 1333.8,519.9"/><path d="M1333.8,519.9 1334.3,515.6 1334.7,519.3"/><path d="M1334.7,519.3 1335.2,517.3 1335.5,496.2"/><path d="M1335.5,496.2 1335.6,522.1 1336.1,522.4"/><path d="M1336.1,522.4 1336.5,521.0 1337.0,522.5"/><path d="M1337.0,522.5 1337.4,517.4 1337.9,512.9"/><path d="M1337.9,512.9 1338.3,521.4 1338.8,520.7"/><path d="M1338.8,520.7 1339.2,515.7 1339.7,513.7"/><path d="M1339.7,513.7 1340.1,521.2 1340.6,519.8"/><path d="M1340.6,519.8 1341.0,515.6 1341.5,513.1"/><path d="M1341.5,513.1 1341.9,517.9 1342.4,514.7"/><path d="M1342.4,514.7 1342.8,517.7 1343.3,516.6"/><path d="M1343.3,516.6 1343.7,514.7 1344.2,517.7"/><path d="M1344.2,517.7 1344.3,457.3 1344.6,516.4"/><path d="M1344.6,516.4 1345.1,518.0 1345.5,510.1"/><path d="M1345.5,510.1 1346.0,511.6 1346.4,505.4"/><path d="M1346.4,505.4 1346.9,509.0 1347.3,514.2"/><path d="M1347.3,514.2 1347.8,515.6 1348.2,514.7"/><path d="M1348.2,514.7 1348.7,510.9 1349.1,513.1"/><path d="M1349.1,513.1 1349.6,512.9 1350.0,507.6"/><path d="M1350.0,507.6 1350.5,513.6 1350.9,513.8"/><path d="M1350.9,513.8 1351.4,513.8 1351.8,514.1"/><path d="M1351.8,514.1 1352.3,513.4 1352.7,512.5"/><path d="M1352.7,512.5 1353.2,507.7 1353.2,482.1"/><path d="M1353.2,482.1 1353.6,508.4 1354.1,512.5"/><path d="M1354.1,512.5 1354.5,511.6 1355.0,506.2"/><path d="M1355.0,506.2 1355.0,485.6 1355.4,503.4"/><path d="M1355.4,503.4 1355.9,509.6 1356.3,511.2"/><path d="M1356.3,511.2 1356.8,505.0 1357.2,507.2"/><path d="M1357.2,507.2 1357.7,508.2 1358.1,499.5"/><path d="M1358.1,499.5 1358.6,510.0 1359.0,496.7"/><path d="M1359.0,496.7 1359.5,508.6 1359.9,502.6"/><path d="M1359.9,502.6 1360.3,471.5 1360.4,501.9"/><path d="M1360.4,501.9 1360.8,505.6 1361.3,508.3"/><path d="M1361.3,508.3 1361.7,504.9 1362.2,497.6"/><path d="M1362.2,497.6 1362.6,508.3 1363.1,505.8"/><path d="M1363.1,505.8 1363.1,467.9 1363.5,497.6"/><path d="M1363.5,497.6 1364.0,508.3 1364.4,507.5"/><path d="M1364.4,507.5 1364.9,505.3 1365.3,505.9"/><path d="M1365.3,505.9 1365.8,504.6 1366.2,506.0"/><path d="M1366.2,506.0 1366.7,505.9 1367.1,496.1"/><path d="M1367.1,496.1 1367.6,506.1 1368.0,504.0"/><path d="M1368.0,504.0 1368.5,505.8 1368.9,505.6"/><path d="M1368.9,505.6 1369.4,498.2 1369.8,499.3"/><path d="M1369.8,499.3 1370.3,499.1 1370.7,505.8"/><path d="M1370.7,505.8 1371.2,504.7 1371.6,501.6"/><path d="M1371.6,501.6 1372.1,496.6 1372.5,505.8"/><path d="M1372.5,505.8 1373.0,504.3 1373.4,502.7"/><path d="M1373.4,502.7 1373.9,505.3 1374.3,503.8"/><path d="M1374.3,503.8 1374.8,504.0 1375.2,504.0"/><path d="M1375.2,504.0 1375.7,503.2 1376.1,502.2"/><path d="M1376.1,502.2 1376.6,504.6 1377.0,498.2"/><path d="M1377.0,498.2 1377.5,503.4 1377.9,502.6"/><path d="M1377.9,502.6 1378.4,502.1 1378.8,501.1"/><path d="M1378.8,501.1 1379.3,503.0 1379.7,503.0"/><path d="M1379.7,503.0 1380.2,495.8 1380.4,473.2"/><path d="M1380.4,473.2 1380.6,499.6 1381.1,499.5"/><path d="M1381.1,499.5 1381.5,501.0 1382.0,502.7"/><path d="M1382.0,502.7 1382.4,502.2 1382.9,499.3"/><path d="M1382.9,499.3 1383.3,500.1 1383.8,498.1"/><path d="M1383.8,498.1 1384.2,501.8 1384.7,501.1"/><path d="M1384.7,501.1 1385.1,497.8 1385.6,492.8"/><path d="M1385.6,492.8 1386.0,493.6 1386.5,493.4"/><path d="M1386.5,493.4 1386.9,499.1 1387.4,499.9"/><path d="M1387.4,499.9 1387.8,492.4 1388.3,494.4"/><path d="M1388.3,494.4 1388.7,494.5 1389.2,494.7"/><path d="M1389.2,494.7 1389.6,496.8 1390.1,496.5"/><path d="M1390.1,496.5 1390.5,498.6 1391.0,499.0"/><path d="M1391.0,499.0 1391.4,494.5 1391.9,497.9"/><path d="M1391.9,497.9 1392.3,494.4 1392.8,498.2"/><path d="M1392.8,498.2 1393.2,495.3 1393.7,496.6"/><path d="M1393.7,496.6 1394.1,492.1 1394.6,492.5"/><path d="M1394.6,492.5 1395.0,494.8 1395.5,496.2"/><path d="M1395.5,496.2 1395.9,495.1 1396.4,493.2"/><path d="M1396.4,493.2 1396.8,493.9 1397.3,496.1"/><path d="M1397.3,496.1 1397.7,495.4 1398.2,494.1"/><path d="M1398.2,494.1 1398.6,490.6 1399.1,491.3"/><path d="M1399.1,491.3 1399.5,493.2 1400.0,491.2"/><path d="M1400.0,491.2 1400.4,494.6 1400.9,493.3"/><path d="M1400.9,493.3 1401.3,494.3 1401.8,489.3"/><path d="M1401.8,489.3 1402.2,491.5 1402.7,491.5"/><path d="M1402.7,491.5 1403.1,491.9 1403.6,487.4"/><path d="M1403.6,487.4 1404.0,487.0 1404.5,491.6"/><path d="M1404.5,491.6 1404.5,483.8 1404.9,491.2"/><path d="M1404.9,491.2 1405.4,492.0 1405.8,484.3"/><path d="M1405.8,484.3 1406.3,489.0 1406.7,491.3"/><path d="M1406.7,491.3 1407.2,490.6 1407.6,488.2"/><path d="M1407.6,488.2 1408.1,486.1 1408.5,489.5"/><path d="M1408.5,489.5 1409.0,489.1 1409.4,488.5"/><path d="M1409.4,488.5 1409.9,487.5 1410.3,489.1"/><path d="M1410.3,489.1 1410.5,478.5 1410.8,482.9"/><path d="M1410.8,482.9 1411.2,485.2 1411.7,486.8"/><path d="M1411.7,486.8 1412.1,487.3 1412.6,488.7"/><path d="M1412.6,488.7 1413.0,486.4 1413.5,487.8"/><path d="M1413.5,487.8 1413.9,484.1 1414.4,487.9"/><path d="M1414.4,487.9 1414.8,486.4 1415.3,485.1"/><path d="M1415.3,485.1 1415.7,486.3 1416.2,485.6"/><path d="M1416.2,485.6 1416.6,479.4 1417.1,486.6"/><path d="M1417.1,486.6 1417.5,484.5 1418.0,485.7"/><path d="M1418.0,485.7 1418.4,483.5 1418.9,479.2"/><path d="M1418.9,479.2 1419.3,486.0 1419.8,479.8"/><path d="M1419.8,479.8 1420.2,484.8 1420.7,481.1"/><path d="M1420.7,481.1 1421.1,483.9 1421.6,482.1"/><path d="M1421.6,482.1 1422.0,483.7 1422.5,484.3"/><path d="M1422.5,484.3 1422.9,478.5 1422.9,441.4"/><path d="M1422.9,441.4 1423.4,479.6 1423.8,482.2"/><path d="M1423.8,482.2 1424.3,480.3 1424.7,482.5"/><path d="M1424.7,482.5 1425.2,478.6 1425.6,483.5"/><path d="M1425.6,483.5 1426.1,479.0 1426.5,481.1"/><path d="M1426.5,481.1 1427.0,478.2 1427.4,476.1"/><path d="M1427.4,476.1 1427.9,475.0 1428.3,481.2"/><path d="M1428.3,481.2 1428.8,477.6 1429.2,480.7"/><path d="M1429.2,480.7 1429.7,480.6 1430.1,480.7"/><path d="M1430.1,480.7 1430.6,480.7 1431.0,481.1"/><path d="M1431.0,481.1 1431.5,480.2 1431.9,480.1"/><path d="M1431.9,480.1 1432.4,480.5 1432.8,472.5"/><path d="M1432.8,472.5 1433.3,476.3 1433.7,471.0"/><path d="M1433.7,471.0 1434.2,479.2 1434.6,477.5"/><path d="M1434.6,477.5 1435.1,478.9 1435.5,476.8"/><path d="M1435.5,476.8 1436.0,471.5 1436.4,421.9"/><path d="M1436.4,421.9 1436.4,471.7 1436.9,475.8"/><path d="M1436.9,475.8 1437.3,476.3 1437.8,470.7"/><path d="M1437.8,470.7 1438.2,476.3 1438.7,475.0"/><path d="M1438.7,475.0 1439.1,475.1 1439.6,470.7"/><path d="M1439.6,470.7 1440.0,470.3 1440.5,476.3"/><path d="M1440.5,476.3 1440.9,473.9 1441.4,475.8"/><path d="M1441.4,475.8 1441.8,475.1 1442.3,469.3"/><path d="M1442.3,469.3 1442.7,471.4 1443.2,469.7"/><path d="M1443.2,469.7 1443.5,459.1 1443.6,470.5"/><path d="M1443.6,470.5 1444.1,473.9 1444.5,470.1"/><path d="M1444.5,470.1 1445.0,471.4 1445.4,468.3"/><path d="M1445.4,468.3 1445.9,470.7 1446.3,471.1"/><path d="M1446.3,471.1 1446.8,471.5 1447.2,472.3"/><path d="M1447.2,472.3 1447.7,468.3 1448.1,471.6"/><path d="M1448.1,471.6 1448.6,469.3 1449.0,463.9"/><path d="M1449.0,463.9 1449.5,470.2 1449.9,462.4"/><path d="M1449.9,462.4 1450.4,462.3 1450.8,469.3"/><path d="M1450.8,469.3 1451.3,470.8 1451.7,466.6"/><path d="M1451.7,466.6 1452.2,469.9 1452.6,466.8"/><path d="M1452.6,466.8 1453.1,469.3 1453.5,458.7"/><path d="M1453.5,458.7 1454.0,469.1 1454.1,411.3"/><path d="M1454.1,411.3 1454.4,468.1 1454.9,468.1"/><path d="M1454.9,468.1 1455.3,462.2 1455.8,459.6"/><path d="M1455.8,459.6 1456.2,466.2 1456.7,468.2"/><path d="M1456.7,468.2 1457.1,458.8 1457.6,460.4"/><path d="M1457.6,460.4 1458.0,460.4 1458.5,462.1"/><path d="M1458.5,462.1 1458.9,460.2 1459.4,457.3"/><path d="M1459.4,457.3 1459.8,463.5 1460.3,464.6"/><path d="M1460.3,464.6 1460.7,463.2 1461.2,464.0"/><path d="M1461.2,464.0 1461.2,423.7 1461.6,461.7"/><path d="M1461.6,461.7 1462.1,456.8 1462.5,460.3"/><path d="M1462.5,460.3 1463.0,464.8 1463.4,464.3"/><path d="M1463.4,464.3 1463.9,462.7 1464.0,425.4"/><path d="M1464.0,425.4 1464.3,462.6 1464.8,457.8"/><path d="M1464.8,457.8 1465.2,459.1 1465.7,459.7"/><path d="M1465.7,459.7 1466.1,461.6 1466.6,461.7"/><path d="M1466.6,461.7 1467.0,456.0 1467.2,402.4"/><path d="M1467.2,402.4 1467.5,461.9 1467.9,455.7"/><path d="M1467.9,455.7 1468.4,461.4 1468.8,458.2"/><path d="M1468.8,458.2 1469.3,455.8 1469.7,460.7"/><path d="M1469.7,460.7 1470.2,459.4 1470.6,459.2"/><path d="M1470.6,459.2 1471.1,458.4 1471.5,454.3"/><path d="M1471.5,454.3 1472.0,453.9 1472.4,457.1"/><path d="M1472.4,457.1 1472.9,458.9 1473.3,451.8"/><path d="M1473.3,451.8 1473.8,458.6 1474.2,457.0"/><path d="M1474.2,457.0 1474.7,451.6 1475.1,451.7"/><path d="M1475.1,451.7 1475.6,457.9 1476.0,455.9"/><path d="M1476.0,455.9 1476.0,436.1 1476.5,456.1"/><path d="M1476.5,456.1 1476.9,456.4 1477.4,456.2"/><path d="M1477.4,456.2 1477.8,451.3 1478.3,450.9"/><path d="M1478.3,450.9 1478.7,456.4 1479.2,454.2"/><path d="M1479.2,454.2 1479.6,454.7 1480.1,449.9"/><path d="M1480.1,449.9 1480.5,454.2 1480.6,416.6"/><path d="M1480.6,416.6 1481.0,448.9 1481.4,449.8"/><path d="M1481.4,449.8 1481.9,446.7 1482.3,453.5"/><path d="M1482.3,453.5 1482.8,452.5 1483.2,453.7"/><path d="M1483.2,453.7 1483.7,453.4 1484.1,453.7"/><path d="M1484.1,453.7 1484.6,446.9 1484.9,400.7"/><path d="M1484.9,400.7 1485.0,450.3 1485.5,452.4"/><path d="M1485.5,452.4 1485.9,450.3 1486.4,451.7"/><path d="M1486.4,451.7 1486.8,445.9 1487.3,451.1"/><path d="M1487.3,451.1 1487.7,450.6 1488.2,450.3"/><path d="M1488.2,450.3 1488.6,450.3 1489.1,451.5"/><path d="M1489.1,451.5 1489.5,450.6 1490.0,448.4"/><path d="M1490.0,448.4 1490.4,449.3 1490.9,450.3"/><path d="M1490.9,450.3 1491.3,444.9 1491.8,448.2"/><path d="M1491.8,448.2 1492.2,449.3 1492.7,448.3"/><path d="M1492.7,448.3 1493.1,448.6 1493.6,448.0"/><path d="M1493.6,448.0 1494.0,448.9 1494.1,404.2"/><path d="M1494.1,404.2 1494.5,438.1 1494.9,443.4"/><path d="M1494.9,443.4 1495.4,442.6 1495.8,448.6"/><path d="M1495.8,448.6 1496.3,444.1 1496.7,446.8"/><path d="M1496.7,446.8 1497.2,431.0 1497.6,445.8"/><path d="M1497.6,445.8 1498.1,440.7 1498.5,441.9"/><path d="M1498.5,441.9 1499.0,445.0 1499.4,433.2"/><path d="M1499.4,433.2 1499.9,433.1 1500.1,381.2"/><path d="M1500.1,381.2 1500.3,423.3 1500.8,423.1"/><path d="M1500.8,423.1 1501.2,437.7 1501.7,433.8"/><path d="M1501.7,433.8 1502.1,418.1 1502.6,443.5"/><path d="M1502.6,443.5 1503.0,429.6 1503.5,433.1"/><path d="M1503.5,433.1 1503.6,312.2 1503.9,417.5"/><path d="M1503.9,417.5 1504.4,437.1 1504.8,446.6"/><path d="M1504.8,446.6 1505.3,441.9 1505.7,428.2"/><path d="M1505.7,428.2 1506.2,436.5 1506.6,445.5"/><path d="M1506.6,445.5 1507.1,419.6 1507.5,426.7"/><path d="M1507.5,426.7 1508.0,440.6 1508.4,420.0"/><path d="M1508.4,420.0 1508.9,438.3 1509.3,428.9"/><path d="M1509.3,428.9 1509.8,437.9 1510.2,419.0"/><path d="M1510.2,419.0 1510.7,437.1 1510.7,411.3"/><path d="M1510.7,411.3 1511.1,441.7 1511.6,428.7"/><path d="M1511.6,428.7 1512.0,441.0 1512.5,440.2"/><path d="M1512.5,440.2 1512.9,443.0 1513.4,437.2"/><path d="M1513.4,437.2 1513.8,426.3 1514.3,420.3"/><path d="M1514.3,420.3 1514.7,433.5 1515.2,414.5"/><path d="M1515.2,414.5 1515.6,416.4 1516.1,433.3"/><path d="M1516.1,433.3 1516.5,435.1 1517.0,414.0"/><path d="M1517.0,414.0 1517.1,358.2 1517.4,412.8"/><path d="M1517.4,412.8 1517.9,411.5 1518.3,409.9"/><path d="M1518.3,409.9 1518.8,424.0 1519.2,438.5"/><path d="M1519.2,438.5 1519.7,433.9 1520.1,421.0"/><path d="M1520.1,421.0 1520.6,404.6 1521.0,403.4"/><path d="M1521.0,403.4 1521.5,437.4 1521.7,305.1"/><path d="M1521.7,305.1 1521.9,421.3 1522.4,426.4"/><path d="M1522.4,426.4 1522.8,403.6 1523.1,315.7"/><path d="M1523.1,315.7 1523.3,430.5 1523.7,407.8"/><path d="M1523.7,407.8 1524.2,434.4 1524.6,422.1"/><path d="M1524.6,422.1 1525.1,431.5 1525.5,413.9"/><path d="M1525.5,413.9 1526.0,417.5 1526.4,437.7"/><path d="M1526.4,437.7 1526.9,437.2 1527.3,435.1"/><path d="M1527.3,435.1 1527.8,434.8 1528.2,434.9"/><path d="M1528.2,434.9 1528.7,434.2 1529.1,424.0"/><path d="M1529.1,424.0 1529.6,431.2 1530.0,430.5"/><path d="M1530.0,430.5 1530.5,432.8 1530.9,434.7"/><path d="M1530.9,434.7 1531.4,434.2 1531.8,434.2"/><path d="M1531.8,434.2 1532.3,433.8 1532.7,434.0"/><path d="M1532.7,434.0 1533.2,424.5 1533.6,434.2"/><path d="M1533.6,434.2 1534.1,431.7 1534.5,433.5"/><path d="M1534.5,433.5 1534.8,393.6 1535.0,428.9"/><path d="M1535.0,428.9 1535.4,428.9 1535.9,428.7"/><path d="M1535.9,428.7 1536.3,425.8 1536.8,430.5"/><path d="M1536.8,430.5 1537.2,430.1 1537.7,428.3"/><path d="M1537.7,428.3 1538.1,423.8 1538.6,429.6"/><path d="M1538.6,429.6 1539.0,425.3 1539.5,429.4"/><path d="M1539.5,429.4 1539.9,425.6 1540.4,429.7"/><path d="M1540.4,429.7 1540.8,381.2 1540.8,428.1"/><path d="M1540.8,428.1 1541.3,430.2 1541.7,429.1"/><path d="M1541.7,429.1 1542.2,427.8 1542.6,427.3"/><path d="M1542.6,427.3 1543.1,429.8 1543.5,424.7"/><path d="M1543.5,424.7 1544.0,427.1 1544.3,377.7"/><path d="M1544.3,377.7 1544.4,429.3 1544.9,428.5"/><path d="M1544.9,428.5 1545.3,428.0 1545.8,421.1"/><path d="M1545.8,421.1 1546.2,424.5 1546.7,427.9"/><path d="M1546.7,427.9 1547.1,428.0 1547.6,428.5"/><path d="M1547.6,428.5 1548.0,428.2 1548.5,428.4"/><path d="M1548.5,428.4 1548.9,423.8 1549.4,427.4"/><path d="M1549.4,427.4 1549.8,426.1 1550.3,427.2"/><path d="M1550.3,427.2 1550.7,422.6 1551.2,427.1"/><path d="M1551.2,427.1 1551.6,426.7 1552.1,426.8"/><path d="M1552.1,426.8 1552.5,426.2 1553.0,426.8"/><path d="M1553.0,426.8 1553.4,426.4 1553.9,424.6"/><path d="M1553.9,424.6 1554.3,419.5 1554.8,424.9"/><path d="M1554.8,424.9 1555.0,388.3 1555.2,418.6"/><path d="M1555.2,418.6 1555.7,423.5 1556.1,420.4"/><path d="M1556.1,420.4 1556.6,422.8 1557.0,417.7"/><path d="M1557.0,417.7 1557.5,419.7 1557.9,418.4"/><path d="M1557.9,418.4 1558.4,425.2 1558.8,425.2"/><path d="M1558.8,425.2 1559.3,418.5 1559.7,421.3"/><path d="M1559.7,421.3 1560.2,417.2 1560.6,425.0"/><path d="M1560.6,425.0 1561.1,421.0 1561.3,381.2"/><path d="M1561.3,381.2 1561.5,423.1 1562.0,424.8"/><path d="M1562.0,424.8 1562.4,421.8 1562.9,424.1"/><path d="M1562.9,424.1 1563.3,421.3 1563.8,425.0"/><path d="M1563.8,425.0 1564.2,419.5 1564.7,424.0"/><path d="M1564.7,424.0 1565.1,418.8 1565.6,423.9"/><path d="M1565.6,423.9 1566.0,416.7 1566.5,423.0"/><path d="M1566.5,423.0 1566.9,422.2 1567.4,425.3"/><path d="M1567.4,425.3 1567.8,418.0 1568.3,421.0"/><path d="M1568.3,421.0 1568.7,417.0 1569.1,383.0"/><path d="M1569.1,383.0 1569.2,424.7 1569.6,417.9"/><path d="M1569.6,417.9 1570.1,419.8 1570.5,423.3"/><path d="M1570.5,423.3 1571.0,419.1 1571.4,419.8"/><path d="M1571.4,419.8 1571.9,424.3 1572.3,422.9"/><path d="M1572.3,422.9 1572.7,378.7 1572.8,423.2"/><path d="M1572.8,423.2 1573.2,425.2 1573.7,412.5"/><path d="M1573.7,412.5 1574.1,424.8 1574.6,411.1"/><path d="M1574.6,411.1 1575.0,422.8 1575.5,408.4"/><path d="M1575.5,408.4 1575.9,418.4 1576.4,412.7"/><path d="M1576.4,412.7 1576.8,405.1 1577.3,417.5"/><path d="M1577.3,417.5 1577.7,409.0 1578.2,409.1"/><path d="M1578.2,409.1 1578.6,422.3 1579.1,399.7"/><path d="M1579.1,399.7 1579.5,399.3 1580.0,417.6"/><path d="M1580.0,417.6 1580.4,419.1 1580.4,320.3"/><path d="M1580.4,320.3 1580.9,396.7 1581.3,417.9"/><path d="M1581.3,417.9 1581.8,407.2 1582.2,418.2"/><path d="M1582.2,418.2 1582.7,405.3 1583.1,415.6"/><path d="M1583.1,415.6 1583.6,414.9 1584.0,414.0"/><path d="M1584.0,414.0 1584.5,389.1 1584.9,395.8"/><path d="M1584.9,395.8 1585.4,395.8 1585.4,326.3"/><path d="M1585.4,326.3 1585.8,391.0 1586.3,413.4"/><path d="M1586.3,413.4 1586.7,401.0 1587.2,412.4"/><path d="M1587.2,412.4 1587.6,397.1 1588.1,409.7"/><path d="M1588.1,409.7 1588.5,413.1 1589.0,408.1"/><path d="M1589.0,408.1 1589.4,408.9 1589.9,413.9"/><path d="M1589.9,413.9 1590.3,401.8 1590.4,296.2"/><path d="M1590.4,296.2 1590.8,403.7 1591.2,394.1"/><path d="M1591.2,394.1 1591.7,407.1 1592.1,397.0"/><path d="M1592.1,397.0 1592.6,408.8 1593.0,399.3"/><path d="M1593.0,399.3 1593.5,411.2 1593.9,410.0"/><path d="M1593.9,410.0 1594.4,405.5 1594.8,412.1"/><path d="M1594.8,412.1 1595.3,409.3 1595.7,368.8"/><path d="M1595.7,368.8 1595.7,404.7 1596.2,406.6"/><path d="M1596.2,406.6 1596.6,410.4 1597.1,403.8"/><path d="M1597.1,403.8 1597.5,410.7 1598.0,411.2"/><path d="M1598.0,411.2 1598.4,412.1 1598.9,397.7"/><path d="M1598.9,397.7 1599.3,403.7 1599.8,409.6"/><path d="M1599.8,409.6 1600.2,410.5 1600.7,412.0"/><path d="M1600.7,412.0 1601.1,398.0 1601.6,410.1"/><path d="M1601.6,410.1 1601.7,379.4 1602.0,408.2"/><path d="M1602.0,408.2 1602.5,407.0 1602.9,411.2"/><path d="M1602.9,411.2 1603.4,409.9 1603.8,409.4"/><path d="M1603.8,409.4 1604.3,410.4 1604.7,403.1"/><path d="M1604.7,403.1 1605.2,408.8 1605.6,408.2"/><path d="M1605.6,408.2 1606.1,397.7 1606.5,398.4"/><path d="M1606.5,398.4 1607.0,410.6 1607.4,409.7"/><path d="M1607.4,409.7 1607.9,410.1 1608.3,402.1"/><path d="M1608.3,402.1 1608.8,406.7 1609.2,409.3"/><path d="M1609.2,409.3 1609.7,409.2 1610.1,403.0"/><path d="M1610.1,403.0 1610.6,408.1 1611.0,398.3"/><path d="M1611.0,398.3 1611.5,397.4 1611.9,408.8"/><path d="M1611.9,408.8 1612.3,326.3 1612.4,402.7"/><path d="M1612.4,402.7 1612.8,395.9 1613.3,408.6"/><path d="M1613.3,408.6 1613.7,404.2 1614.2,405.0"/><path d="M1614.2,405.0 1614.6,389.0 1615.1,386.2"/><path d="M1615.1,386.2 1615.1,356.4 1615.5,388.7"/><path d="M1615.5,388.7 1616.0,406.1 1616.4,393.5"/><path d="M1616.4,393.5 1616.9,391.0 1617.3,401.3"/><path d="M1617.3,401.3 1617.8,396.9 1618.2,387.9"/><path d="M1618.2,387.9 1618.7,405.8 1619.1,403.5"/><path d="M1619.1,403.5 1619.6,395.1 1620.0,399.6"/><path d="M1620.0,399.6 1620.5,404.0 1620.9,401.0"/><path d="M1620.9,401.0 1621.2,279.6 1621.4,386.5"/><path d="M1621.4,386.5 1621.8,384.3 1622.3,385.1"/><path d="M1622.3,385.1 1622.7,401.0 1623.2,395.1"/><path d="M1623.2,395.1 1623.6,398.3 1624.1,390.8"/><path d="M1624.1,390.8 1624.5,400.2 1625.0,388.3"/><path d="M1625.0,388.3 1625.4,385.7 1625.9,397.5"/><path d="M1625.9,397.5 1626.3,387.5 1626.8,401.3"/><path d="M1626.8,401.3 1627.2,389.5 1627.5,351.1"/><path d="M1627.5,351.1 1627.7,398.7 1628.1,396.9"/><path d="M1628.1,396.9 1628.6,394.4 1629.0,397.5"/><path d="M1629.0,397.5 1629.5,398.4 1629.9,399.5"/><path d="M1629.9,399.5 1630.4,400.8 1630.8,398.0"/><path d="M1630.8,398.0 1631.3,385.0 1631.7,400.2"/><path d="M1631.7,400.2 1632.2,398.9 1632.6,400.7"/><path d="M1632.6,400.7 1633.1,399.3 1633.5,399.8"/><path d="M1633.5,399.8 1634.0,399.9 1634.4,398.9"/><path d="M1634.4,398.9 1634.9,397.4 1635.3,401.6"/><path d="M1635.3,401.6 1635.8,400.9 1636.2,383.1"/><path d="M1636.2,383.1 1636.4,374.1 1636.7,392.8"/><path d="M1636.7,392.8 1637.1,391.1 1637.6,391.2"/><path d="M1637.6,391.2 1638.0,397.8 1638.5,396.5"/><path d="M1638.5,396.5 1638.9,392.0 1639.4,386.6"/><path d="M1639.4,386.6 1639.8,402.0 1640.3,378.6"/><path d="M1640.3,378.6 1640.7,383.3 1641.2,399.4"/><path d="M1641.2,399.4 1641.6,398.4 1641.7,211.3"/><path d="M1641.7,211.3 1642.1,397.8 1642.5,375.3"/><path d="M1642.5,375.3 1643.0,383.3 1643.4,391.5"/><path d="M1643.4,391.5 1643.9,397.9 1644.3,397.2"/><path d="M1644.3,397.2 1644.8,398.6 1645.2,398.6"/><path d="M1645.2,398.6 1645.7,377.2 1646.1,389.7"/><path d="M1646.1,389.7 1646.6,389.0 1647.0,391.8"/><path d="M1647.0,391.8 1647.5,393.6 1647.9,392.1"/><path d="M1647.9,392.1 1648.1,322.8 1648.4,397.3"/><path d="M1648.4,397.3 1648.8,388.8 1649.3,383.9"/><path d="M1649.3,383.9 1649.7,381.8 1650.2,393.8"/><path d="M1650.2,393.8 1650.6,379.0 1651.1,391.6"/><path d="M1651.1,391.6 1651.5,392.3 1652.0,396.2"/><path d="M1652.0,396.2 1652.4,388.7 1652.9,388.9"/><path d="M1652.9,388.9 1653.3,384.6 1653.4,283.1"/><path d="M1653.4,283.1 1653.8,385.3 1654.2,387.6"/><path d="M1654.2,387.6 1654.7,394.6 1655.1,391.6"/><path d="M1655.1,391.6 1655.6,394.2 1656.0,394.9"/><path d="M1656.0,394.9 1656.5,381.6 1656.9,378.3"/><path d="M1656.9,378.3 1657.4,377.1 1657.6,328.1"/><path d="M1657.6,328.1 1657.8,392.1 1658.3,388.5"/><path d="M1658.3,388.5 1658.7,395.5 1659.2,394.2"/><path d="M1659.2,394.2 1659.6,393.4 1660.1,376.1"/><path d="M1660.1,376.1 1660.5,375.4 1661.0,383.2"/><path d="M1661.0,383.2 1661.4,391.1 1661.9,384.6"/><path d="M1661.9,384.6 1662.3,393.9 1662.8,381.9"/><path d="M1662.8,381.9 1663.2,396.4 1663.7,396.3"/><path d="M1663.7,396.3 1664.1,394.1 1664.2,351.1"/><path d="M1664.2,351.1 1664.6,390.5 1665.0,393.8"/><path d="M1665.0,393.8 1665.5,393.5 1665.9,378.9"/><path d="M1665.9,378.9 1666.4,396.2 1666.8,390.2"/><path d="M1666.8,390.2 1667.3,393.6 1667.7,374.7"/><path d="M1667.7,374.7 1668.2,394.2 1668.6,390.6"/><path d="M1668.6,390.6 1669.1,391.7 1669.5,381.4"/><path d="M1669.5,381.4 1670.0,382.9 1670.4,388.9"/><path d="M1670.4,388.9 1670.9,372.1 1671.2,237.8"/><path d="M1671.2,237.8 1671.3,369.4 1671.8,368.3"/><path d="M1671.8,368.3 1672.2,383.5 1672.7,388.0"/><path d="M1672.7,388.0 1673.1,393.1 1673.6,376.5"/><path d="M1673.6,376.5 1674.0,368.1 1674.5,393.9"/><path d="M1674.5,393.9 1674.9,390.1 1675.4,364.8"/><path d="M1675.4,364.8 1675.8,395.0 1676.3,395.3"/><path d="M1676.3,395.3 1676.7,394.4 1677.2,389.9"/><path d="M1677.2,389.9 1677.6,369.8 1677.6,351.1"/><path d="M1677.6,351.1 1678.1,390.0 1678.5,388.2"/><path d="M1678.5,388.2 1679.0,392.0 1679.4,393.3"/><path d="M1679.4,393.3 1679.9,379.8 1680.3,391.3"/><path d="M1680.3,391.3 1680.8,383.2 1681.2,378.2"/><path d="M1681.2,378.2 1681.7,360.1 1682.1,375.0"/><path d="M1682.1,375.0 1682.6,380.7 1682.6,296.2"/><path d="M1682.6,296.2 1683.0,362.9 1683.5,365.9"/><path d="M1683.5,365.9 1683.9,392.6 1684.4,390.4"/><path d="M1684.4,390.4 1684.8,392.0 1685.3,386.7"/><path d="M1685.3,386.7 1685.7,369.7 1686.2,392.5"/><path d="M1686.2,392.5 1686.6,371.4 1687.1,358.3"/><path d="M1687.1,358.3 1687.5,364.4 1688.0,376.6"/><path d="M1688.0,376.6 1688.2,262.6 1688.4,390.7"/><path d="M1688.4,390.7 1688.9,374.1 1689.3,392.4"/><path d="M1689.3,392.4 1689.8,385.2 1690.2,385.7"/><path d="M1690.2,385.7 1690.7,359.8 1691.1,376.8"/><path d="M1691.1,376.8 1691.6,374.9 1692.0,392.8"/><path d="M1692.0,392.8 1692.5,380.7 1692.9,378.0"/><path d="M1692.9,378.0 1693.4,385.2 1693.8,364.2"/><path d="M1693.8,364.2 1694.3,388.9 1694.7,383.7"/><path d="M1694.7,383.7 1695.2,375.4 1695.6,368.8"/><path d="M1695.6,368.8 1696.1,391.1 1696.5,368.1"/><path d="M1696.5,368.1 1697.0,392.3 1697.1,243.1"/><path d="M1697.1,243.1 1697.4,392.2 1697.9,359.0"/><path d="M1697.9,359.0 1698.3,385.2 1698.8,391.9"/><path d="M1698.8,391.9 1699.2,371.2 1699.7,384.4"/><path d="M1699.7,384.4 1700.1,360.3 1700.6,377.4"/><path d="M1700.6,377.4 1701.0,387.3 1701.5,389.9"/><path d="M1701.5,389.9 1701.9,381.3 1702.4,368.2"/><path d="M1702.4,368.2 1702.8,390.1 1703.1,354.6"/><path d="M1703.1,354.6 1703.3,397.0 1703.7,385.8"/><path d="M1703.7,385.8 1704.2,385.7 1704.6,385.1"/><path d="M1704.6,385.1 1705.1,368.9 1705.5,383.4"/><path d="M1705.5,383.4 1706.0,368.8 1706.4,384.6"/><path d="M1706.4,384.6 1706.9,393.9 1707.3,376.5"/><path d="M1707.3,376.5 1707.8,356.7 1708.2,379.8"/><path d="M1708.2,379.8 1708.4,264.4 1708.7,396.0"/><path d="M1708.7,396.0 1709.1,377.1 1709.6,381.7"/><path d="M1709.6,381.7 1710.0,385.9 1710.5,381.7"/><path d="M1710.5,381.7 1710.9,395.5 1711.4,392.8"/><path d="M1711.4,392.8 1711.8,391.0 1712.3,393.6"/><path d="M1712.3,393.6 1712.7,384.6 1713.2,370.5"/><path d="M1713.2,370.5 1713.6,370.4 1714.1,370.6"/><path d="M1714.1,370.6 1714.5,369.6 1715.0,374.4"/><path d="M1715.0,374.4 1715.4,387.1 1715.9,389.2"/><path d="M1715.9,389.2 1716.3,390.3 1716.8,372.0"/><path d="M1716.8,372.0 1717.2,355.7 1717.7,386.2"/><path d="M1717.7,386.2 1718.0,220.1 1718.1,378.0"/><path d="M1718.1,378.0 1718.6,377.2 1719.0,370.2"/><path d="M1719.0,370.2 1719.5,395.2 1719.9,383.8"/><path d="M1719.9,383.8 1720.4,377.9 1720.8,390.4"/><path d="M1720.8,390.4 1721.3,383.2 1721.7,393.2"/><path d="M1721.7,393.2 1722.2,393.9 1722.6,324.6"/><path d="M1722.6,324.6 1722.6,365.9 1723.1,357.6"/><path d="M1723.1,357.6 1723.5,389.5 1724.0,392.5"/><path d="M1724.0,392.5 1724.4,387.9 1724.9,391.4"/><path d="M1724.9,391.4 1725.3,388.5 1725.8,392.2"/><path d="M1725.8,392.2 1726.2,384.9 1726.7,354.5"/><path d="M1726.7,354.5 1727.1,392.9 1727.6,372.2"/><path d="M1727.6,372.2 1727.9,262.6 1728.0,374.8"/><path d="M1728.0,374.8 1728.5,378.8 1728.9,391.5"/><path d="M1728.9,391.5 1729.4,388.6 1729.8,382.6"/><path d="M1729.8,382.6 1730.3,363.3 1730.7,378.0"/><path d="M1730.7,378.0 1731.2,391.8 1731.6,388.5"/><path d="M1731.6,388.5 1732.1,389.7 1732.5,391.5"/><path d="M1732.5,391.5 1733.0,361.8 1733.4,388.1"/><path d="M1733.4,388.1 1733.9,390.4 1733.9,322.8"/><path d="M1733.9,322.8 1734.3,385.3 1734.8,391.8"/><path d="M1734.8,391.8 1735.2,385.8 1735.7,383.6"/><path d="M1735.7,383.6 1736.1,375.5 1736.6,355.9"/><path d="M1736.6,355.9 1737.0,383.9 1737.5,386.8"/><path d="M1737.5,386.8 1737.9,375.3 1738.4,377.5"/><path d="M1738.4,377.5 1738.8,384.7 1739.3,391.5"/><path d="M1739.3,391.5 1739.7,384.5 1740.2,380.4"/><path d="M1740.2,380.4 1740.6,370.4 1741.1,388.6"/><path d="M1741.1,388.6 1741.5,386.1 1742.0,347.3"/><path d="M1742.0,347.3 1742.4,385.3 1742.7,181.2"/><path d="M1742.7,181.2 1742.9,386.5 1743.3,379.6"/><path d="M1743.3,379.6 1743.8,382.3 1744.2,364.7"/><path d="M1744.2,364.7 1744.7,354.9 1745.1,345.9"/><path d="M1745.1,345.9 1745.6,382.0 1745.6,280.3"/><path d="M1745.6,280.3 1746.0,389.5 1746.5,333.0"/><path d="M1746.5,333.0 1746.9,340.8 1747.4,374.9"/><path d="M1747.4,374.9 1747.8,361.0 1748.3,384.0"/><path d="M1748.3,384.0 1748.7,373.0 1749.2,380.7"/><path d="M1749.2,380.7 1749.6,337.4 1750.1,356.4"/><path d="M1750.1,356.4 1750.5,375.5 1751.0,357.6"/><path d="M1751.0,357.6 1751.4,347.5 1751.9,324.3"/><path d="M1751.9,324.3 1752.3,378.4 1752.8,361.6"/><path d="M1752.8,361.6 1753.2,367.0 1753.4,298.0"/><path d="M1753.4,298.0 1753.7,386.2 1754.1,383.3"/><path d="M1754.1,383.3 1754.6,386.7 1755.0,365.3"/><path d="M1755.0,365.3 1755.5,379.5 1755.9,337.2"/><path d="M1755.9,337.2 1756.4,318.0 1756.8,334.9"/><path d="M1756.8,334.9 1757.3,316.6 1757.6,99.8"/><path d="M1757.6,99.8 1757.7,378.9 1758.2,366.0"/><path d="M1758.2,366.0 1758.6,356.9 1759.1,363.5"/><path d="M1759.1,363.5 1759.5,326.5 1760.0,365.2"/><path d="M1760.0,365.2 1760.4,383.1 1760.9,355.6"/><path d="M1760.9,355.6 1761.3,374.2 1761.5,170.6"/><path d="M1761.5,170.6 1761.8,316.0 1762.2,357.5"/><path d="M1762.2,357.5 1762.7,330.5 1763.1,331.0"/><path d="M1763.1,331.0 1763.6,340.9 1764.0,363.2"/><path d="M1764.0,363.2 1764.5,381.1 1764.9,383.1"/><path d="M1764.9,383.1 1765.4,336.5 1765.8,350.9"/><path d="M1765.8,350.9 1766.3,365.4 1766.7,341.2"/><path d="M1766.7,341.2 1766.8,179.4 1767.2,383.2"/><path d="M1767.2,383.2 1767.6,376.0 1768.1,339.9"/><path d="M1768.1,339.9 1768.5,335.5 1769.0,351.3"/><path d="M1769.0,351.3 1769.4,349.8 1769.9,344.8"/><path d="M1769.9,344.8 1770.3,351.6 1770.8,382.0"/><path d="M1770.8,382.0 1771.2,379.5 1771.7,375.9"/><path d="M1771.7,375.9 1772.1,375.2 1772.6,339.0"/><path d="M1772.6,339.0 1773.0,351.4 1773.5,377.1"/><path d="M1773.5,377.1 1773.9,330.5 1774.4,372.7"/><path d="M1774.4,372.7 1774.8,367.6 1775.3,340.3"/><path d="M1775.3,340.3 1775.7,381.0 1776.2,354.9"/><path d="M1776.2,354.9 1776.6,320.2 1777.1,308.1"/><path d="M1777.1,308.1 1777.5,335.0 1778.0,340.4"/><path d="M1778.0,340.4 1778.4,333.4 1778.9,329.9"/><path d="M1778.9,329.9 1779.2,234.3 1779.3,324.8"/><path d="M1779.3,324.8 1779.8,338.9 1780.2,326.4"/><path d="M1780.2,326.4 1780.7,332.9 1781.1,357.2"/><path d="M1781.1,357.2 1781.6,310.4 1781.7,230.8"/><path d="M1781.7,230.8 1782.0,350.9 1782.5,326.8"/><path d="M1782.5,326.8 1782.9,380.6 1783.4,351.4"/><path d="M1783.4,351.4 1783.8,379.7 1784.3,377.8"/><path d="M1784.3,377.8 1784.5,175.9 1784.7,372.1"/><path d="M1784.7,372.1 1785.2,339.0 1785.6,375.1"/><path d="M1785.6,375.1 1786.1,370.2 1786.5,306.5"/><path d="M1786.5,306.5 1787.0,379.0 1787.4,369.5"/><path d="M1787.4,369.5 1787.9,372.6 1788.3,347.6"/><path d="M1788.3,347.6 1788.8,349.4 1789.2,312.1"/><path d="M1789.2,312.1 1789.7,341.3 1790.1,364.6"/><path d="M1790.1,364.6 1790.6,328.0 1791.0,376.8"/><path d="M1791.0,376.8 1791.5,363.9 1791.9,362.1"/><path d="M1791.9,362.1 1792.4,346.7 1792.8,376.1"/><path d="M1792.8,376.1 1793.3,378.6 1793.7,375.1"/><path d="M1793.7,375.1 1794.2,367.7 1794.6,370.1"/><path d="M1794.6,370.1 1795.1,367.1 1795.1,160.0"/><path d="M1795.1,160.0 1795.5,355.1 1796.0,361.4"/><path d="M1796.0,361.4 1796.4,366.0 1796.9,365.3"/><path d="M1796.9,365.3 1797.3,351.0 1797.8,379.2"/><path d="M1797.8,379.2 1798.2,355.4 1798.7,337.4"/><path d="M1798.7,337.4 1799.1,358.4 1799.6,355.1"/><path d="M1799.6,355.1 1800.0,372.4 1800.5,346.7"/><path d="M1800.5,346.7 1800.9,377.6 1801.4,378.0"/><path d="M1801.4,378.0 1801.8,353.4 1802.3,374.8"/><path d="M1802.3,374.8 1802.7,377.8 1803.2,379.0"/><path d="M1803.2,379.0 1803.6,368.9 1804.1,349.3"/><path d="M1804.1,349.3 1804.5,381.3 1805.0,378.9"/><path d="M1805.0,378.9 1805.4,378.5 1805.9,365.3"/><path d="M1805.9,365.3 1806.3,377.1 1806.8,381.5"/><path d="M1806.8,381.5 1806.8,239.6 1807.2,377.0"/><path d="M1807.2,377.0 1807.7,373.5 1808.1,380.4"/><path d="M1808.1,380.4 1808.6,368.7 1809.0,374.9"/><path d="M1809.0,374.9 1809.5,375.5 1809.9,359.1"/><path d="M1809.9,359.1 1810.4,359.1 1810.8,376.9"/><path d="M1810.8,376.9 1811.3,375.4 1811.7,380.3"/><path d="M1811.7,380.3 1812.1,230.8 1812.2,383.1"/><path d="M1812.2,383.1 1812.6,378.1 1813.1,354.8"/><path d="M1813.1,354.8 1813.5,361.2 1814.0,374.6"/><path d="M1814.0,374.6 1814.4,366.1 1814.9,317.3"/><path d="M1814.9,317.3 1815.3,344.4 1815.7,209.5"/><path d="M1815.7,209.5 1815.8,383.0 1816.2,328.3"/><path d="M1816.2,328.3 1816.7,313.9 1817.1,313.8"/><path d="M1817.1,313.8 1817.6,384.8 1818.0,378.9"/><path d="M1818.0,378.9 1818.5,377.0 1818.9,381.2"/><path d="M1818.9,381.2 1819.4,380.1 1819.8,348.4"/><path d="M1819.8,348.4 1820.3,384.5 1820.7,339.2"/><path d="M1820.7,339.2 1821.2,343.4 1821.6,362.1"/><path d="M1821.6,362.1 1822.1,375.1 1822.5,373.7"/><path d="M1822.5,373.7 1823.0,388.7 1823.4,374.4"/><path d="M1823.4,374.4 1823.5,312.2 1823.9,383.5"/><path d="M1823.9,383.5 1824.3,384.1 1824.8,387.6"/><path d="M1824.8,387.6 1825.2,389.1 1825.7,386.7"/><path d="M1825.7,386.7 1826.1,349.6 1826.6,391.5"/><path d="M1826.6,391.5 1827.0,308.6 1827.0,391.4"/><path d="M1827.0,391.4 1827.5,381.8 1827.9,371.3"/><path d="M1827.9,371.3 1828.4,371.2 1828.8,379.2"/><path d="M1828.8,379.2 1829.3,350.4 1829.7,391.8"/><path d="M1829.7,391.8 1830.2,381.1 1830.6,375.7"/><path d="M1830.6,375.7 1831.1,390.5 1831.5,383.7"/><path d="M1831.5,383.7 1832.0,388.6 1832.3,313.9"/><path d="M1832.3,313.9 1832.4,366.6 1832.9,383.5"/><path d="M1832.9,383.5 1833.3,373.7 1833.8,379.7"/><path d="M1833.8,379.7 1834.2,390.1 1834.7,389.3"/><path d="M1834.7,389.3 1835.1,359.7 1835.6,344.8"/><path d="M1835.6,344.8 1836.0,391.5 1836.5,390.9"/><path d="M1836.5,390.9 1836.9,391.7 1837.4,382.7"/><path d="M1837.4,382.7 1837.6,338.7 1837.8,389.7"/><path d="M1837.8,389.7 1838.3,353.2 1838.7,384.8"/><path d="M1838.7,384.8 1839.2,390.0 1839.6,388.3"/><path d="M1839.6,388.3 1840.1,379.5 1840.5,382.5"/><path d="M1840.5,382.5 1841.0,384.8 1841.4,341.2"/><path d="M1841.4,341.2 1841.9,365.4 1842.3,343.0"/><path d="M1842.3,343.0 1842.8,383.3 1842.9,275.0"/><path d="M1842.9,275.0 1843.2,387.1 1843.7,383.6"/><path d="M1843.7,383.6 1844.1,372.5 1844.6,373.4"/><path d="M1844.6,373.4 1845.0,332.8 1845.5,376.4"/><path d="M1845.5,376.4 1845.9,378.4 1846.4,389.5"/></g>
<path d="M275.3,471.5C275.7,461.4 276.9,426.6 277.8,411.3C278.7,395.9 279.0,386.5 280.6,379.4C282.3,372.3 285.3,366.4 287.7,368.8C290.1,371.2 292.4,384.4 294.8,393.6C297.1,402.7 299.8,421.0 301.9,423.7C303.9,426.3 305.1,408.6 307.2,409.5C309.2,410.4 311.0,427.5 314.2,429.0C317.5,430.5 322.8,419.8 326.6,418.4C330.5,416.9 334.3,421.9 337.3,420.1C340.2,418.4 342.3,417.8 344.3,407.7C346.4,397.7 347.6,361.4 349.6,360.0C351.7,358.5 354.0,411.3 356.7,398.9C359.5,386.5 363.6,288.3 366.3,285.6C368.9,283.0 370.7,359.1 372.7,383.0C374.6,406.9 375.9,422.5 378.0,429.0C380.0,435.5 382.1,417.5 385.0,421.9C388.0,426.3 392.4,454.9 395.7,455.5C398.9,456.1 401.6,425.7 404.5,425.4C407.5,425.1 409.8,445.5 413.4,453.8C416.9,462.0 421.9,472.1 425.8,475.0C429.6,477.9 433.4,474.1 436.4,471.5C439.3,468.8 441.4,457.3 443.5,459.1C445.5,460.8 447.0,464.7 448.8,482.1C450.5,499.5 451.4,544.9 454.1,563.5C456.7,582.1 462.0,588.6 464.7,593.6C467.3,598.6 468.2,592.7 470.0,593.6C471.8,594.5 473.2,596.8 475.3,598.9C477.4,601.0 480.0,606.0 482.4,606.0C484.7,606.0 487.1,602.4 489.5,598.9C491.8,595.4 494.2,591.8 496.5,584.7C498.9,577.7 501.3,558.8 503.6,556.4C506.0,554.1 508.3,570.0 510.7,570.6C513.1,571.2 515.7,562.3 517.8,560.0C519.9,557.6 521.3,554.6 523.1,556.4C524.9,558.2 526.0,567.6 528.4,570.6C530.8,573.5 534.6,572.9 537.3,574.1C539.9,575.3 542.0,578.8 544.3,577.7C546.7,576.5 549.1,567.0 551.4,567.0C553.8,567.0 556.1,576.8 558.5,577.7C560.9,578.5 563.2,571.2 565.6,572.3C567.9,573.5 569.7,583.0 572.7,584.7C575.6,586.5 580.0,583.8 583.3,583.0C586.5,582.1 589.2,582.4 592.1,579.4C595.1,576.5 598.0,565.6 601.0,565.3C603.9,565.0 607.5,580.3 609.8,577.7C612.2,575.0 613.4,560.5 615.1,549.3C616.9,538.1 618.7,520.7 620.4,510.4C622.2,500.1 624.0,488.6 625.8,487.4C627.5,486.2 629.3,503.3 631.1,503.3C632.8,503.3 634.3,490.9 636.4,487.4C638.4,483.8 640.5,483.0 643.5,482.1C646.4,481.2 650.8,481.2 654.1,482.1C657.3,483.0 660.3,483.6 662.9,487.4C665.6,491.2 667.9,501.8 670.0,505.1C672.1,508.3 673.2,508.6 675.3,506.9C677.4,505.1 680.3,493.3 682.4,494.5C684.5,495.6 685.6,508.0 687.7,513.9C689.8,519.8 692.4,526.6 694.8,529.9C697.1,533.1 698.9,532.5 701.9,533.4C704.8,534.3 708.9,534.6 712.5,535.2C716.0,535.8 719.9,536.9 723.1,536.9C726.3,536.9 729.0,534.6 731.9,535.2C734.9,535.8 738.1,539.9 740.8,540.5C743.5,541.1 745.5,537.9 747.9,538.7C750.2,539.5 752.6,543.9 755.0,545.1C757.3,546.3 759.4,546.0 762.0,545.8C764.7,545.6 768.8,554.6 770.9,544.0C772.9,533.4 773.4,499.5 774.4,482.1C775.5,464.7 776.3,439.6 777.3,439.6C778.3,439.6 779.3,465.0 780.4,482.1C781.6,499.2 782.3,533.4 784.0,542.3C785.6,551.1 787.5,537.5 790.4,535.2C793.2,532.8 797.4,527.8 801.0,528.1C804.5,528.4 808.6,535.2 811.6,536.9C814.5,538.7 816.6,538.7 818.7,538.7C820.7,538.7 821.9,536.9 824.0,536.9C826.0,536.9 829.0,546.1 831.1,538.7C833.1,531.3 834.9,503.9 836.4,492.7C837.8,481.5 838.7,473.2 839.9,471.5C841.1,469.7 842.3,476.8 843.5,482.1C844.6,487.4 845.2,498.9 847.0,503.3C848.8,507.7 851.4,505.7 854.1,508.6C856.7,511.6 860.3,519.8 862.9,521.0C865.6,522.2 867.9,522.5 870.0,515.7C872.1,508.9 873.5,483.0 875.3,480.3C877.1,477.7 878.8,494.8 880.6,499.8C882.4,504.8 883.9,505.1 885.9,510.4C888.0,515.7 890.6,529.9 893.0,531.6C895.4,533.4 897.7,523.4 900.1,521.0C902.4,518.7 904.8,518.7 907.2,517.5C909.5,516.3 912.2,513.1 914.2,513.9C916.3,514.8 917.5,520.1 919.6,522.8C921.6,525.4 924.6,529.9 926.6,529.9C928.7,529.9 930.2,525.4 931.9,522.8C933.7,520.1 935.2,512.8 937.3,513.9C939.3,515.1 942.0,528.1 944.3,529.9C946.7,531.6 949.4,526.3 951.4,524.6C953.5,522.8 954.8,526.3 956.7,519.2C958.6,512.2 961.0,483.6 962.7,482.1C964.5,480.6 965.7,502.4 967.3,510.4C969.0,518.4 970.6,529.0 972.7,529.9C974.7,530.8 977.3,521.0 979.7,515.7C982.2,510.4 985.5,498.3 987.5,498.0C989.6,497.7 990.5,509.2 992.1,513.9C993.8,518.7 995.4,526.6 997.4,526.3C999.5,526.0 1002.4,512.8 1004.5,512.2C1006.6,511.6 1008.3,523.1 1009.8,522.8C1011.3,522.5 1011.9,518.4 1013.4,510.4C1014.8,502.4 1016.6,477.4 1018.7,475.0C1020.7,472.6 1023.4,490.0 1025.8,496.2C1028.1,502.4 1030.6,511.0 1032.8,512.2C1035.1,513.3 1037.1,502.4 1039.2,503.3C1041.3,504.2 1043.0,514.5 1045.2,517.5C1047.4,520.4 1050.2,518.7 1052.3,521.0C1054.4,523.4 1055.5,526.9 1057.6,531.6C1059.7,536.4 1062.6,541.7 1064.7,549.3C1066.8,557.0 1067.9,571.8 1070.0,577.7C1072.1,583.6 1074.1,582.4 1077.1,584.7C1080.0,587.1 1084.2,589.7 1087.7,591.8C1091.2,593.9 1094.8,595.6 1098.3,597.1C1101.9,598.6 1105.4,599.9 1108.9,600.7C1112.5,601.4 1116.3,601.7 1119.6,601.7C1122.8,601.7 1125.5,601.7 1128.4,600.7C1131.4,599.6 1134.0,596.5 1137.3,595.4C1140.5,594.2 1143.7,594.5 1147.9,593.6C1152.0,592.7 1157.3,591.5 1162.0,590.0C1166.8,588.6 1171.5,586.5 1176.2,584.7C1180.9,583.0 1186.8,580.6 1190.4,579.4C1193.9,578.2 1195.1,577.9 1197.4,577.7C1199.8,577.4 1202.2,576.2 1204.5,577.7C1206.9,579.1 1209.2,585.6 1211.6,586.5C1214.0,587.4 1215.7,584.4 1218.7,583.0C1221.6,581.5 1226.3,579.4 1229.3,577.7C1232.2,575.9 1234.0,574.1 1236.4,572.3C1238.7,570.6 1241.4,567.0 1243.5,567.0C1245.5,567.0 1246.4,573.2 1248.8,572.3C1251.1,571.5 1254.7,564.7 1257.6,561.7C1260.6,558.8 1264.4,555.8 1266.5,554.6C1268.5,553.5 1267.1,555.8 1270.0,554.6C1272.9,553.5 1279.4,550.2 1284.2,547.6C1288.9,544.9 1294.2,541.4 1298.3,538.7C1302.4,536.1 1304.8,534.0 1308.9,531.6C1313.1,529.3 1319.0,526.6 1323.1,524.6C1327.2,522.5 1330.2,521.0 1333.7,519.2C1337.3,517.5 1340.8,516.0 1344.3,513.9C1347.9,511.9 1351.7,509.2 1355.0,506.9C1358.2,504.5 1360.9,500.4 1363.8,499.8C1366.8,499.2 1370.0,503.6 1372.7,503.3C1375.3,503.0 1376.8,499.5 1379.7,498.0C1382.7,496.5 1386.8,495.6 1390.4,494.5C1393.9,493.3 1397.4,492.4 1401.0,490.9C1404.5,489.5 1408.1,487.4 1411.6,485.6C1415.1,483.8 1419.6,481.5 1422.2,480.3C1424.9,479.1 1425.2,479.7 1427.5,478.5C1429.9,477.4 1433.1,475.0 1436.4,473.2C1439.6,471.5 1443.5,470.0 1447.0,467.9C1450.5,465.9 1453.8,462.9 1457.6,460.8C1461.4,458.8 1466.8,457.0 1470.0,455.5C1473.2,454.1 1474.7,453.2 1477.1,452.0C1479.4,450.8 1481.5,449.6 1484.2,448.5C1486.8,447.3 1490.6,447.6 1493.0,444.9C1495.4,442.3 1496.7,437.2 1498.3,432.5C1499.9,427.8 1501.1,417.2 1502.6,416.6C1504.0,416.0 1505.6,426.0 1507.2,429.0C1508.7,431.9 1510.2,436.7 1511.8,434.3C1513.4,431.9 1515.0,420.4 1516.7,414.8C1518.4,409.2 1520.4,399.5 1522.0,400.7C1523.7,401.8 1525.2,416.6 1526.6,421.9C1528.1,427.2 1528.8,431.9 1530.9,432.5C1532.9,433.1 1536.2,426.3 1539.0,425.4C1541.9,424.6 1544.9,428.4 1547.9,427.2C1550.8,426.0 1553.8,419.5 1556.7,418.4C1559.7,417.2 1562.9,420.7 1565.6,420.1C1568.2,419.5 1570.3,418.4 1572.7,414.8C1575.0,411.3 1577.7,403.0 1579.7,398.9C1581.8,394.8 1583.0,390.0 1585.0,390.0C1587.1,390.0 1589.8,396.2 1592.1,398.9C1594.5,401.5 1596.8,405.4 1599.2,406.0C1601.6,406.6 1604.2,404.8 1606.3,402.4C1608.3,400.1 1609.5,394.2 1611.6,391.8C1613.7,389.5 1616.9,389.2 1618.7,388.3C1620.4,387.4 1620.7,385.9 1622.2,386.5C1623.7,387.1 1625.5,390.0 1627.5,391.8C1629.6,393.6 1632.2,398.6 1634.6,397.1C1637.0,395.6 1639.6,384.7 1641.7,383.0C1643.7,381.2 1644.6,387.4 1647.0,386.5C1649.4,385.6 1653.0,378.5 1655.8,377.7C1658.7,376.8 1661.6,382.1 1664.2,381.2C1666.7,380.3 1668.6,372.3 1671.2,372.3C1673.9,372.3 1677.4,381.5 1680.1,381.2C1682.7,380.9 1684.5,372.1 1687.2,370.6C1689.8,369.1 1692.8,372.6 1696.0,372.3C1699.3,372.1 1704.0,368.5 1706.6,368.8C1709.3,369.1 1710.2,374.7 1711.9,374.1C1713.7,373.5 1715.2,365.6 1717.3,365.3C1719.3,365.0 1721.4,370.0 1724.3,372.3C1727.3,374.7 1731.9,382.4 1735.0,379.4C1738.0,376.5 1740.4,356.7 1742.7,354.6C1745.1,352.6 1746.9,370.0 1749.1,367.0C1751.4,364.1 1754.3,344.0 1756.2,336.9C1758.1,329.9 1758.7,323.4 1760.4,324.6C1762.2,325.7 1764.7,338.4 1766.8,344.0C1768.9,349.6 1771.4,359.4 1773.2,358.2C1775.0,357.0 1776.0,343.7 1777.4,336.9C1778.9,330.2 1780.6,318.1 1782.0,317.5C1783.5,316.9 1784.7,328.4 1786.3,333.4C1787.9,338.4 1790.0,345.8 1791.6,347.6C1793.2,349.3 1794.0,341.1 1795.8,344.0C1797.7,347.0 1801.0,363.5 1802.9,365.3C1804.9,367.0 1805.8,358.8 1807.5,354.6C1809.3,350.5 1811.6,339.9 1813.5,340.5C1815.5,341.1 1817.6,353.2 1819.2,358.2C1820.9,363.2 1821.6,368.2 1823.5,370.6C1825.3,372.9 1828.2,371.5 1830.5,372.3C1832.9,373.2 1835.5,376.5 1837.6,375.9C1839.7,375.3 1841.3,370.9 1842.9,368.8C1844.6,366.7 1846.8,364.4 1847.5,363.5" fill="none" stroke="#d65f4a" stroke-width="4.4" stroke-opacity="0.88" stroke-linejoin="round" stroke-linecap="round"/>
</g>
<clipPath id="cb"><rect x="274.2" y="841.6" width="1572.6" height="550.0"/></clipPath>
<g clip-path="url(#cb)">
<g fill="none" stroke="#1f77b4" stroke-width="2.3" stroke-opacity="0.55" stroke-linejoin="round"><path d="M274.5,1150.0 275.2,1163.4 275.3,1112.6"/><path d="M275.3,1112.6 275.9,1156.6 276.5,1176.1"/><path d="M276.5,1176.1 277.2,1184.0 277.9,1175.2"/><path d="M277.9,1175.2 278.6,1182.1 279.3,1164.2"/><path d="M279.3,1164.2 279.9,1170.0 280.6,1181.8"/><path d="M280.6,1181.8 281.3,1176.7 282.0,1183.1"/><path d="M282.0,1183.1 282.7,1188.6 283.3,1185.9"/><path d="M283.3,1185.9 284.0,1179.9 284.2,1155.0"/><path d="M284.2,1155.0 284.7,1182.5 285.4,1188.1"/><path d="M285.4,1188.1 286.1,1182.1 286.7,1164.3"/><path d="M286.7,1164.3 287.4,1159.9 288.1,1162.8"/><path d="M288.1,1162.8 288.8,1186.2 289.5,1173.9"/><path d="M289.5,1173.9 290.1,1162.5 290.8,1181.8"/><path d="M290.8,1181.8 291.5,1184.6 292.2,1183.7"/><path d="M292.2,1183.7 292.9,1183.9 293.5,1164.7"/><path d="M293.5,1164.7 294.2,1183.9 294.8,1148.0"/><path d="M294.8,1148.0 294.9,1162.6 295.6,1176.5"/><path d="M295.6,1176.5 296.3,1173.1 296.9,1163.8"/><path d="M296.9,1163.8 297.6,1162.4 298.3,1153.5"/><path d="M298.3,1153.5 299.0,1177.4 299.7,1178.1"/><path d="M299.7,1178.1 300.3,1170.2 301.0,1182.6"/><path d="M301.0,1182.6 301.7,1164.1 302.4,1147.2"/><path d="M302.4,1147.2 303.1,1154.7 303.6,1123.2"/><path d="M303.6,1123.2 303.7,1154.3 304.4,1167.6"/><path d="M304.4,1167.6 305.1,1180.1 305.8,1172.5"/><path d="M305.8,1172.5 306.5,1146.9 307.1,1179.2"/><path d="M307.1,1179.2 307.8,1175.2 308.2,1121.4"/><path d="M308.2,1121.4 308.5,1164.5 309.2,1172.9"/><path d="M309.2,1172.9 309.9,1179.6 310.5,1173.4"/><path d="M310.5,1173.4 311.2,1156.0 311.9,1132.2"/><path d="M311.9,1132.2 312.5,1117.9 312.6,1170.9"/><path d="M312.6,1170.9 313.3,1138.5 313.9,1127.7"/><path d="M313.9,1127.7 314.6,1156.1 315.3,1171.5"/><path d="M315.3,1171.5 315.3,940.9 316.0,1154.4"/><path d="M316.0,1154.4 316.7,1160.1 317.3,1122.1"/><path d="M317.3,1122.1 317.8,1098.4 318.0,1122.7"/><path d="M318.0,1122.7 318.7,1124.1 319.4,1151.9"/><path d="M319.4,1151.9 320.1,1157.0 320.7,1163.0"/><path d="M320.7,1163.0 321.4,1133.8 322.1,1162.2"/><path d="M322.1,1162.2 322.8,1152.2 323.1,1098.4"/><path d="M323.1,1098.4 323.5,1138.1 324.1,1165.0"/><path d="M324.1,1165.0 324.8,1169.3 325.5,1152.0"/><path d="M325.5,1152.0 326.2,1158.5 326.6,1094.9"/><path d="M326.6,1094.9 326.9,1171.8 327.5,1178.1"/><path d="M327.5,1178.1 328.2,1126.8 328.9,1167.7"/><path d="M328.9,1167.7 329.6,1170.7 330.3,1174.3"/><path d="M330.3,1174.3 330.9,1163.3 331.6,1169.3"/><path d="M331.6,1169.3 332.3,1155.3 333.0,1158.3"/><path d="M333.0,1158.3 333.0,1109.0 333.7,1148.5"/><path d="M333.7,1148.5 334.3,1159.9 335.0,1160.5"/><path d="M335.0,1160.5 335.7,1166.3 336.4,1169.6"/><path d="M336.4,1169.6 337.1,1174.0 337.7,1138.4"/><path d="M337.7,1138.4 338.3,1109.0 338.4,1166.4"/><path d="M338.4,1166.4 339.1,1153.1 339.8,1167.0"/><path d="M339.8,1167.0 340.5,1156.4 340.8,1087.8"/><path d="M340.8,1087.8 341.1,1147.9 341.8,1173.3"/><path d="M341.8,1173.3 342.5,1163.4 343.2,1150.3"/><path d="M343.2,1150.3 343.9,1170.1 344.5,1164.8"/><path d="M344.5,1164.8 345.0,1116.1 345.2,1146.1"/><path d="M345.2,1146.1 345.9,1167.2 346.6,1167.7"/><path d="M346.6,1167.7 347.3,1168.9 347.9,1165.2"/><path d="M347.9,1165.2 348.6,1172.0 349.3,1170.4"/><path d="M349.3,1170.4 350.0,1168.8 350.7,1167.8"/><path d="M350.7,1167.8 351.3,1156.3 351.4,1114.3"/><path d="M351.4,1114.3 352.0,1163.8 352.7,1170.6"/><path d="M352.7,1170.6 353.4,1171.1 354.1,1161.2"/><path d="M354.1,1161.2 354.7,1169.5 355.4,1154.2"/><path d="M355.4,1154.2 356.1,1166.7 356.7,1105.5"/><path d="M356.7,1105.5 356.8,1157.4 357.5,1166.5"/><path d="M357.5,1166.5 358.1,1147.7 358.8,1147.1"/><path d="M358.8,1147.1 359.5,1163.4 360.2,1163.6"/><path d="M360.2,1163.6 360.9,1167.3 361.5,1152.5"/><path d="M361.5,1152.5 362.2,1157.1 362.7,1109.0"/><path d="M362.7,1109.0 362.9,1168.9 363.6,1164.2"/><path d="M363.6,1164.2 364.3,1160.5 364.9,1139.0"/><path d="M364.9,1139.0 365.6,1162.8 366.3,1164.4"/><path d="M366.3,1164.4 367.0,1166.7 367.7,1166.4"/><path d="M367.7,1166.4 368.3,1166.7 369.0,1145.8"/><path d="M369.0,1145.8 369.7,1173.9 370.4,1177.6"/><path d="M370.4,1177.6 371.1,1167.6 371.7,1185.7"/><path d="M371.7,1185.7 372.4,1147.0 373.1,1194.8"/><path d="M373.1,1194.8 373.8,1200.7 374.5,1215.6"/><path d="M374.5,1215.6 375.1,1228.3 375.5,1117.9"/><path d="M375.5,1117.9 375.8,1240.4 376.5,1265.4"/><path d="M376.5,1265.4 377.2,1257.7 377.9,1235.2"/><path d="M377.9,1235.2 378.5,1238.9 379.2,1242.0"/><path d="M379.2,1242.0 379.9,1281.8 380.6,1287.9"/><path d="M380.6,1287.9 380.8,1222.3 381.3,1258.4"/><path d="M381.3,1258.4 381.9,1292.2 382.6,1307.3"/><path d="M382.6,1307.3 383.3,1229.4 383.3,1310.4"/><path d="M383.3,1310.4 384.0,1315.1 384.7,1279.1"/><path d="M384.7,1279.1 385.3,1275.4 386.0,1318.8"/><path d="M386.0,1318.8 386.7,1298.1 387.4,1293.5"/><path d="M387.4,1293.5 388.1,1324.7 388.7,1324.2"/><path d="M388.7,1324.2 389.4,1321.0 390.1,1326.7"/><path d="M390.1,1326.7 390.8,1334.1 391.5,1322.4"/><path d="M391.5,1322.4 392.1,1336.8 392.8,1337.8"/><path d="M392.8,1337.8 393.5,1338.8 394.2,1335.3"/><path d="M394.2,1335.3 394.9,1331.3 395.5,1340.9"/><path d="M395.5,1340.9 396.2,1341.1 396.9,1325.7"/><path d="M396.9,1325.7 397.6,1341.5 398.3,1331.4"/><path d="M398.3,1331.4 398.9,1338.0 399.6,1336.5"/><path d="M399.6,1336.5 400.3,1338.9 401.0,1321.8"/><path d="M401.0,1321.8 401.7,1336.1 402.3,1341.4"/><path d="M402.3,1341.4 403.0,1338.8 403.7,1337.0"/><path d="M403.7,1337.0 404.4,1321.3 405.1,1316.3"/><path d="M405.1,1316.3 405.7,1339.6 406.3,1241.8"/><path d="M406.3,1241.8 406.4,1332.3 407.1,1315.8"/><path d="M407.1,1315.8 407.8,1331.0 408.5,1339.3"/><path d="M408.5,1339.3 409.1,1302.8 409.8,1326.0"/><path d="M409.8,1326.0 409.8,1278.9 410.5,1325.8"/><path d="M410.5,1325.8 411.2,1340.3 411.9,1337.9"/><path d="M411.9,1337.9 412.5,1328.9 413.2,1320.7"/><path d="M413.2,1320.7 413.9,1324.9 414.6,1328.8"/><path d="M414.6,1328.8 415.1,1243.5 415.3,1295.1"/><path d="M415.3,1295.1 415.9,1335.4 416.6,1317.1"/><path d="M416.6,1317.1 417.3,1330.1 418.0,1336.3"/><path d="M418.0,1336.3 418.7,1333.0 419.3,1323.1"/><path d="M419.3,1323.1 420.0,1311.1 420.7,1337.4"/><path d="M420.7,1337.4 421.4,1337.7 422.1,1316.8"/><path d="M422.1,1316.8 422.2,1275.4 422.7,1337.8"/><path d="M422.7,1337.8 423.4,1305.2 424.1,1293.5"/><path d="M424.1,1293.5 424.8,1290.0 425.5,1335.7"/><path d="M425.5,1335.7 426.1,1334.1 426.8,1332.1"/><path d="M426.8,1332.1 427.5,1321.7 428.2,1336.2"/><path d="M428.2,1336.2 428.9,1336.3 429.5,1327.1"/><path d="M429.5,1327.1 430.2,1331.3 430.9,1291.9"/><path d="M430.9,1291.9 431.6,1314.1 432.3,1328.3"/><path d="M432.3,1328.3 432.9,1314.1 433.6,1331.9"/><path d="M433.6,1331.9 434.3,1327.2 435.0,1316.2"/><path d="M435.0,1316.2 435.7,1323.4 436.3,1326.7"/><path d="M436.3,1326.7 436.4,1225.8 437.0,1324.5"/><path d="M437.0,1324.5 437.7,1321.4 438.4,1322.9"/><path d="M438.4,1322.9 439.1,1330.4 439.7,1315.9"/><path d="M439.7,1315.9 440.4,1301.8 441.1,1304.3"/><path d="M441.1,1304.3 441.8,1330.7 442.5,1329.1"/><path d="M442.5,1329.1 443.1,1320.6 443.8,1299.2"/><path d="M443.8,1299.2 444.5,1325.1 445.2,1329.6"/><path d="M445.2,1329.6 445.9,1324.8 446.3,1231.2"/><path d="M446.3,1231.2 446.5,1331.9 447.2,1296.4"/><path d="M447.2,1296.4 447.9,1322.1 448.6,1311.9"/><path d="M448.6,1311.9 449.3,1332.3 449.9,1331.6"/><path d="M449.9,1331.6 450.6,1331.5 451.3,1322.7"/><path d="M451.3,1322.7 452.0,1313.0 452.7,1324.5"/><path d="M452.7,1324.5 453.3,1321.2 454.0,1320.6"/><path d="M454.0,1320.6 454.7,1309.6 455.4,1332.2"/><path d="M455.4,1332.2 456.1,1328.5 456.7,1324.5"/><path d="M456.7,1324.5 457.4,1323.7 458.1,1332.9"/><path d="M458.1,1332.9 458.8,1316.5 459.5,1332.8"/><path d="M459.5,1332.8 460.1,1329.9 460.8,1325.8"/><path d="M460.8,1325.8 461.2,1257.7 461.5,1327.2"/><path d="M461.5,1327.2 462.2,1327.3 462.9,1331.0"/><path d="M462.9,1331.0 463.5,1312.2 464.2,1330.0"/><path d="M464.2,1330.0 464.9,1322.9 465.6,1332.0"/><path d="M465.6,1332.0 466.3,1327.9 466.5,1296.6"/><path d="M466.5,1296.6 466.9,1328.8 467.6,1329.8"/><path d="M467.6,1329.8 468.3,1331.6 469.0,1322.7"/><path d="M469.0,1322.7 469.7,1329.3 470.3,1317.9"/><path d="M470.3,1317.9 471.0,1330.9 471.7,1330.6"/><path d="M471.7,1330.6 472.4,1330.1 473.1,1327.8"/><path d="M473.1,1327.8 473.7,1330.2 474.4,1330.5"/><path d="M474.4,1330.5 475.1,1329.1 475.8,1330.4"/><path d="M475.8,1330.4 476.5,1316.6 477.1,1303.7"/><path d="M477.1,1303.7 477.1,1324.5 477.8,1325.3"/><path d="M477.8,1325.3 478.5,1328.7 479.2,1330.9"/><path d="M479.2,1330.9 479.9,1313.7 480.5,1326.3"/><path d="M480.5,1326.3 481.2,1329.9 481.9,1325.9"/><path d="M481.9,1325.9 482.6,1317.0 483.3,1326.9"/><path d="M483.3,1326.9 483.9,1317.8 484.2,1300.2"/><path d="M484.2,1300.2 484.6,1323.5 485.3,1325.2"/><path d="M485.3,1325.2 486.0,1319.2 486.7,1327.3"/><path d="M486.7,1327.3 487.3,1327.1 488.0,1318.6"/><path d="M488.0,1318.6 488.7,1313.1 489.4,1316.2"/><path d="M489.4,1316.2 490.1,1325.2 490.7,1324.1"/><path d="M490.7,1324.1 491.4,1326.3 492.1,1326.1"/><path d="M492.1,1326.1 492.8,1324.4 493.5,1327.3"/><path d="M493.5,1327.3 494.1,1317.7 494.8,1327.9"/><path d="M494.8,1327.9 495.5,1289.6 495.5,1313.8"/><path d="M495.5,1313.8 496.2,1323.8 496.9,1318.2"/><path d="M496.9,1318.2 497.5,1329.5 498.2,1325.4"/><path d="M498.2,1325.4 498.9,1325.0 499.6,1318.9"/><path d="M499.6,1318.9 500.3,1326.7 500.9,1321.0"/><path d="M500.9,1321.0 501.6,1324.3 502.3,1328.2"/><path d="M502.3,1328.2 503.0,1323.5 503.7,1329.9"/><path d="M503.7,1329.9 504.3,1327.6 505.0,1312.4"/><path d="M505.0,1312.4 505.4,1307.3 505.7,1326.3"/><path d="M505.7,1326.3 506.4,1312.1 507.1,1328.7"/><path d="M507.1,1328.7 507.7,1317.7 508.4,1327.7"/><path d="M508.4,1327.7 509.1,1325.7 509.8,1328.4"/><path d="M509.8,1328.4 510.5,1328.2 511.1,1327.2"/><path d="M511.1,1327.2 511.8,1320.6 512.5,1326.9"/><path d="M512.5,1326.9 513.2,1325.8 513.9,1328.7"/><path d="M513.9,1328.7 514.5,1329.1 515.2,1323.6"/><path d="M515.2,1323.6 515.9,1326.3 516.6,1323.8"/><path d="M516.6,1323.8 517.3,1326.8 517.9,1316.3"/><path d="M517.9,1316.3 518.6,1327.7 519.3,1321.7"/><path d="M519.3,1321.7 520.0,1323.1 520.7,1324.7"/><path d="M520.7,1324.7 521.3,1303.7 521.3,1326.6"/><path d="M521.3,1326.6 522.0,1328.3 522.7,1326.0"/><path d="M522.7,1326.0 523.4,1326.7 524.1,1322.2"/><path d="M524.1,1322.2 524.7,1326.6 525.4,1328.4"/><path d="M525.4,1328.4 526.1,1324.0 526.8,1313.6"/><path d="M526.8,1313.6 527.5,1327.6 528.1,1328.7"/><path d="M528.1,1328.7 528.4,1291.3 528.8,1327.9"/><path d="M528.8,1327.9 529.5,1315.2 530.2,1318.7"/><path d="M530.2,1318.7 530.9,1328.3 531.5,1327.3"/><path d="M531.5,1327.3 532.2,1312.7 532.9,1319.3"/><path d="M532.9,1319.3 533.6,1327.2 534.3,1325.9"/><path d="M534.3,1325.9 534.9,1319.5 535.6,1327.3"/><path d="M535.6,1327.3 536.3,1311.0 537.0,1325.3"/><path d="M537.0,1325.3 537.7,1320.6 538.3,1328.9"/><path d="M538.3,1328.9 539.0,1318.3 539.7,1320.9"/><path d="M539.7,1320.9 540.4,1323.3 541.1,1324.9"/><path d="M541.1,1324.9 541.7,1326.6 542.4,1325.5"/><path d="M542.4,1325.5 543.1,1322.8 543.8,1327.1"/><path d="M543.8,1327.1 544.5,1329.2 545.1,1326.2"/><path d="M545.1,1326.2 545.8,1325.7 546.1,1300.2"/><path d="M546.1,1300.2 546.5,1314.9 547.2,1326.0"/><path d="M547.2,1326.0 547.9,1328.8 548.5,1313.1"/><path d="M548.5,1313.1 549.2,1326.7 549.9,1324.9"/><path d="M549.9,1324.9 550.6,1327.1 551.3,1312.6"/><path d="M551.3,1312.6 551.9,1323.5 552.6,1325.0"/><path d="M552.6,1325.0 553.3,1323.0 554.0,1326.5"/><path d="M554.0,1326.5 554.2,1278.9 554.7,1306.9"/><path d="M554.7,1306.9 555.3,1318.1 556.0,1326.7"/><path d="M556.0,1326.7 556.7,1310.9 557.4,1325.1"/><path d="M557.4,1325.1 558.1,1325.2 558.7,1326.1"/><path d="M558.7,1326.1 559.4,1324.3 560.1,1322.9"/><path d="M560.1,1322.9 560.3,1289.6 560.8,1326.6"/><path d="M560.8,1326.6 561.5,1310.7 562.1,1326.1"/><path d="M562.1,1326.1 562.8,1308.1 563.5,1314.7"/><path d="M563.5,1314.7 564.2,1325.5 564.9,1328.8"/><path d="M564.9,1328.8 565.5,1313.9 565.6,1300.2"/><path d="M565.6,1300.2 566.2,1328.4 566.9,1325.1"/><path d="M566.9,1325.1 567.6,1316.1 568.3,1329.4"/><path d="M568.3,1329.4 568.9,1327.7 569.6,1333.0"/><path d="M569.6,1333.0 570.3,1319.0 571.0,1317.1"/><path d="M571.0,1317.1 571.7,1332.5 572.3,1310.3"/><path d="M572.3,1310.3 573.0,1334.9 573.7,1329.5"/><path d="M573.7,1329.5 574.4,1332.7 575.1,1327.8"/><path d="M575.1,1327.8 575.7,1345.5 576.4,1349.1"/><path d="M576.4,1349.1 577.1,1340.7 577.8,1349.2"/><path d="M577.8,1349.2 578.0,1293.1 578.5,1336.9"/><path d="M578.5,1336.9 579.1,1344.7 579.8,1357.8"/><path d="M579.8,1357.8 580.5,1350.4 581.2,1360.8"/><path d="M581.2,1360.8 581.9,1337.7 582.5,1347.0"/><path d="M582.5,1347.0 583.2,1361.9 583.9,1362.6"/><path d="M583.9,1362.6 584.6,1372.2 585.3,1372.7"/><path d="M585.3,1372.7 585.9,1369.6 586.6,1374.3"/><path d="M586.6,1374.3 587.3,1377.2 588.0,1368.6"/><path d="M588.0,1368.6 588.7,1377.6 589.3,1370.2"/><path d="M589.3,1370.2 590.0,1374.6 590.7,1365.9"/><path d="M590.7,1365.9 591.4,1374.3 592.1,1376.5"/><path d="M592.1,1376.5 592.7,1374.7 593.4,1377.9"/><path d="M593.4,1377.9 594.1,1360.9 594.8,1378.6"/><path d="M594.8,1378.6 595.5,1375.6 596.1,1372.7"/><path d="M596.1,1372.7 596.8,1378.8 597.5,1375.1"/><path d="M597.5,1375.1 598.2,1379.0 598.9,1379.1"/><path d="M598.9,1379.1 599.5,1377.3 600.2,1373.6"/><path d="M600.2,1373.6 600.9,1370.0 601.6,1358.8"/><path d="M601.6,1358.8 602.3,1379.0 602.9,1373.1"/><path d="M602.9,1373.1 603.6,1371.8 604.3,1364.8"/><path d="M604.3,1364.8 604.5,1335.6 605.0,1367.6"/><path d="M605.0,1367.6 605.7,1378.2 606.3,1375.0"/><path d="M606.3,1375.0 607.0,1376.1 607.7,1372.7"/><path d="M607.7,1372.7 608.4,1374.0 609.1,1367.9"/><path d="M609.1,1367.9 609.7,1376.0 610.4,1377.1"/><path d="M610.4,1377.1 611.1,1377.3 611.6,1346.2"/><path d="M611.6,1346.2 611.8,1377.6 612.5,1371.0"/><path d="M612.5,1371.0 613.1,1376.6 613.8,1377.4"/><path d="M613.8,1377.4 614.5,1355.0 615.2,1373.2"/><path d="M615.2,1373.2 615.9,1359.9 616.5,1374.9"/><path d="M616.5,1374.9 616.9,1342.7 617.2,1369.1"/><path d="M617.2,1369.1 617.9,1375.9 618.6,1360.2"/><path d="M618.6,1360.2 619.3,1376.0 619.9,1362.1"/><path d="M619.9,1362.1 620.6,1373.3 621.3,1375.4"/><path d="M621.3,1375.4 622.0,1369.4 622.7,1358.0"/><path d="M622.7,1358.0 623.3,1376.3 624.0,1373.7"/><path d="M624.0,1373.7 624.7,1376.3 625.4,1372.4"/><path d="M625.4,1372.4 626.1,1365.5 626.7,1369.8"/><path d="M626.7,1369.8 627.4,1372.2 628.1,1374.3"/><path d="M628.1,1374.3 628.8,1375.1 629.5,1368.5"/><path d="M629.5,1368.5 630.1,1363.9 630.8,1372.4"/><path d="M630.8,1372.4 631.1,1349.7 631.5,1363.6"/><path d="M631.5,1363.6 632.2,1374.6 632.9,1373.4"/><path d="M632.9,1373.4 633.5,1368.8 634.2,1373.7"/><path d="M634.2,1373.7 634.9,1369.3 635.6,1361.7"/><path d="M635.6,1361.7 636.3,1373.7 636.9,1373.8"/><path d="M636.9,1373.8 637.6,1371.8 638.3,1371.2"/><path d="M638.3,1371.2 639.0,1372.0 639.7,1370.8"/><path d="M639.7,1370.8 640.3,1371.5 641.0,1373.0"/><path d="M641.0,1373.0 641.7,1372.0 642.4,1369.9"/><path d="M642.4,1369.9 643.1,1373.4 643.5,1328.5"/><path d="M643.5,1328.5 643.7,1357.5 644.4,1368.7"/><path d="M644.4,1368.7 645.1,1369.6 645.8,1366.2"/><path d="M645.8,1366.2 646.5,1371.5 647.1,1364.6"/><path d="M647.1,1364.6 647.8,1371.6 648.5,1368.7"/><path d="M648.5,1368.7 649.2,1368.2 649.9,1367.9"/><path d="M649.9,1367.9 650.5,1353.3 650.5,1369.5"/><path d="M650.5,1369.5 651.2,1362.9 651.9,1369.1"/><path d="M651.9,1369.1 652.6,1358.5 653.3,1364.0"/><path d="M653.3,1364.0 653.9,1363.5 654.6,1369.1"/><path d="M654.6,1369.1 655.3,1368.0 656.0,1365.2"/><path d="M656.0,1365.2 656.7,1357.9 657.3,1366.4"/><path d="M657.3,1366.4 658.0,1362.7 658.7,1369.0"/><path d="M658.7,1369.0 659.4,1367.3 660.1,1360.8"/><path d="M660.1,1360.8 660.7,1363.8 661.2,1335.6"/><path d="M661.2,1335.6 661.4,1359.2 662.1,1369.0"/><path d="M662.1,1369.0 662.8,1366.5 663.5,1365.4"/><path d="M663.5,1365.4 664.1,1368.3 664.8,1367.0"/><path d="M664.8,1367.0 665.5,1365.6 666.2,1368.2"/><path d="M666.2,1368.2 666.9,1367.0 667.5,1362.2"/><path d="M667.5,1362.2 668.2,1360.9 668.9,1363.6"/><path d="M668.9,1363.6 669.6,1364.1 670.3,1366.4"/><path d="M670.3,1366.4 670.9,1365.5 671.6,1366.2"/><path d="M671.6,1366.2 672.3,1364.5 673.0,1363.9"/><path d="M673.0,1363.9 673.7,1365.3 674.3,1361.3"/><path d="M674.3,1361.3 675.0,1364.4 675.7,1364.8"/><path d="M675.7,1364.8 676.4,1361.4 677.1,1365.8"/><path d="M677.1,1365.8 677.7,1364.0 678.4,1363.4"/><path d="M678.4,1363.4 678.8,1312.6 679.1,1364.8"/><path d="M679.1,1364.8 679.8,1364.6 680.5,1364.3"/><path d="M680.5,1364.3 680.6,1344.4 681.1,1364.6"/><path d="M681.1,1364.6 681.8,1364.6 682.5,1358.3"/><path d="M682.5,1358.3 683.2,1362.7 683.9,1357.5"/><path d="M683.9,1357.5 684.5,1358.3 685.2,1355.1"/><path d="M685.2,1355.1 685.9,1363.0 686.6,1359.7"/><path d="M686.6,1359.7 687.3,1363.2 687.9,1355.4"/><path d="M687.9,1355.4 688.6,1359.0 689.3,1361.2"/><path d="M689.3,1361.2 690.0,1362.4 690.7,1353.7"/><path d="M690.7,1353.7 691.3,1362.5 692.0,1362.4"/><path d="M692.0,1362.4 692.7,1360.7 693.4,1353.2"/><path d="M693.4,1353.2 694.1,1361.8 694.7,1360.6"/><path d="M694.7,1360.6 695.4,1360.4 696.1,1362.0"/><path d="M696.1,1362.0 696.5,1346.2 696.8,1359.9"/><path d="M696.8,1359.9 697.5,1357.8 698.1,1355.2"/><path d="M698.1,1355.2 698.8,1360.2 699.5,1362.4"/><path d="M699.5,1362.4 700.2,1359.2 700.9,1356.8"/><path d="M700.9,1356.8 701.5,1360.8 702.2,1359.4"/><path d="M702.2,1359.4 702.9,1358.5 703.6,1354.6"/><path d="M703.6,1354.6 704.3,1359.6 704.9,1350.3"/><path d="M704.9,1350.3 705.6,1356.7 706.3,1357.9"/><path d="M706.3,1357.9 707.0,1360.5 707.7,1359.1"/><path d="M707.7,1359.1 708.3,1352.4 709.0,1353.8"/><path d="M709.0,1353.8 709.7,1356.8 710.4,1359.4"/><path d="M710.4,1359.4 711.1,1359.1 711.7,1358.2"/><path d="M711.7,1358.2 712.4,1358.1 713.1,1356.3"/><path d="M713.1,1356.3 713.8,1358.4 714.5,1355.9"/><path d="M714.5,1355.9 715.1,1356.3 715.3,1342.7"/><path d="M715.3,1342.7 715.8,1357.5 716.5,1356.0"/><path d="M716.5,1356.0 717.2,1358.3 717.9,1354.0"/><path d="M717.9,1354.0 718.5,1357.4 719.2,1345.4"/><path d="M719.2,1345.4 719.9,1357.2 720.6,1353.0"/><path d="M720.6,1353.0 721.3,1355.5 721.9,1355.6"/><path d="M721.9,1355.6 722.6,1343.6 723.3,1349.2"/><path d="M723.3,1349.2 724.0,1340.1 724.7,1348.8"/><path d="M724.7,1348.8 725.3,1353.7 725.9,1325.0"/><path d="M725.9,1325.0 726.0,1351.8 726.7,1340.5"/><path d="M726.7,1340.5 727.4,1346.3 728.1,1347.1"/><path d="M728.1,1347.1 728.7,1348.0 729.4,1348.8"/><path d="M729.4,1348.8 730.1,1353.9 730.8,1352.1"/><path d="M730.8,1352.1 731.5,1352.8 732.1,1337.2"/><path d="M732.1,1337.2 732.8,1346.8 733.5,1343.4"/><path d="M733.5,1343.4 733.7,1339.1 734.2,1335.1"/><path d="M734.2,1335.1 734.9,1346.9 735.5,1351.0"/><path d="M735.5,1351.0 736.2,1331.4 736.9,1349.0"/><path d="M736.9,1349.0 737.6,1338.8 738.3,1344.7"/><path d="M738.3,1344.7 738.9,1337.0 739.6,1347.8"/><path d="M739.6,1347.8 740.3,1348.6 741.0,1345.0"/><path d="M741.0,1345.0 741.7,1332.2 742.3,1348.0"/><path d="M742.3,1348.0 742.6,1319.6 743.0,1333.4"/><path d="M743.0,1333.4 743.7,1347.2 744.4,1345.0"/><path d="M744.4,1345.0 745.0,1241.8 745.1,1341.9"/><path d="M745.1,1341.9 745.7,1339.9 746.4,1324.6"/><path d="M746.4,1324.6 747.1,1325.8 747.8,1324.2"/><path d="M747.8,1324.2 747.9,1310.8 748.5,1343.0"/><path d="M748.5,1343.0 749.1,1324.1 749.8,1342.4"/><path d="M749.8,1342.4 750.5,1339.0 751.2,1323.3"/><path d="M751.2,1323.3 751.9,1340.7 752.5,1334.3"/><path d="M752.5,1334.3 753.2,1317.7 753.9,1340.9"/><path d="M753.9,1340.9 754.6,1337.5 755.3,1329.9"/><path d="M755.3,1329.9 755.9,1337.4 756.6,1324.3"/><path d="M756.6,1324.3 757.3,1324.9 758.0,1332.1"/><path d="M758.0,1332.1 758.7,1312.1 759.3,1335.1"/><path d="M759.3,1335.1 759.6,1252.4 760.0,1335.3"/><path d="M760.0,1335.3 760.7,1312.0 761.4,1334.4"/><path d="M761.4,1334.4 762.1,1337.2 762.7,1338.9"/><path d="M762.7,1338.9 763.4,1335.3 764.1,1325.4"/><path d="M764.1,1325.4 764.8,1337.0 765.5,1336.4"/><path d="M765.5,1336.4 766.1,1332.0 766.8,1338.3"/><path d="M766.8,1338.3 767.5,1336.7 768.2,1334.5"/><path d="M768.2,1334.5 768.9,1320.1 769.5,1329.2"/><path d="M769.5,1329.2 770.2,1336.2 770.9,1317.9"/><path d="M770.9,1317.9 771.6,1338.0 771.6,1307.3"/><path d="M771.6,1307.3 772.3,1336.1 772.9,1328.5"/><path d="M772.9,1328.5 773.6,1321.4 774.3,1336.8"/><path d="M774.3,1336.8 775.0,1333.9 775.1,1310.8"/><path d="M775.1,1310.8 775.7,1335.0 776.3,1331.7"/><path d="M776.3,1331.7 777.0,1322.7 777.7,1317.6"/><path d="M777.7,1317.6 778.4,1336.9 779.1,1324.9"/><path d="M779.1,1324.9 779.7,1315.8 780.4,1311.9"/><path d="M780.4,1311.9 781.1,1332.7 781.8,1337.0"/><path d="M781.8,1337.0 782.5,1335.8 783.1,1322.0"/><path d="M783.1,1322.0 783.3,1307.3 783.8,1328.4"/><path d="M783.8,1328.4 784.5,1329.2 785.2,1322.5"/><path d="M785.2,1322.5 785.9,1320.4 786.5,1320.4"/><path d="M786.5,1320.4 787.2,1334.1 787.9,1336.3"/><path d="M787.9,1336.3 788.6,1320.7 789.3,1332.4"/><path d="M789.3,1332.4 789.9,1320.3 790.6,1331.8"/><path d="M790.6,1331.8 791.3,1332.2 792.0,1330.5"/><path d="M792.0,1330.5 792.1,1300.2 792.7,1335.8"/><path d="M792.7,1335.8 793.3,1327.0 794.0,1334.0"/><path d="M794.0,1334.0 794.7,1327.1 795.4,1331.5"/><path d="M795.4,1331.5 795.7,1309.0 796.1,1323.4"/><path d="M796.1,1323.4 796.7,1312.0 797.4,1332.0"/><path d="M797.4,1332.0 798.1,1332.7 798.8,1325.8"/><path d="M798.8,1325.8 799.5,1327.5 800.1,1325.8"/><path d="M800.1,1325.8 800.8,1333.3 801.5,1316.3"/><path d="M801.5,1316.3 802.2,1322.1 802.7,1296.6"/><path d="M802.7,1296.6 802.9,1331.8 803.5,1322.3"/><path d="M803.5,1322.3 804.2,1328.0 804.9,1332.0"/><path d="M804.9,1332.0 805.6,1322.5 806.3,1330.9"/><path d="M806.3,1330.9 806.9,1330.4 807.6,1331.2"/><path d="M807.6,1331.2 808.3,1318.6 809.0,1324.9"/><path d="M809.0,1324.9 809.7,1322.5 810.3,1328.5"/><path d="M810.3,1328.5 811.0,1295.1 811.7,1318.5"/><path d="M811.7,1318.5 812.4,1317.3 813.1,1317.1"/><path d="M813.1,1317.1 813.4,1172.7 813.7,1289.6"/><path d="M813.7,1289.6 814.4,1319.3 815.1,1281.9"/><path d="M815.1,1281.9 815.8,1319.8 816.2,1243.5"/><path d="M816.2,1243.5 816.5,1304.1 817.1,1320.6"/><path d="M817.1,1320.6 817.8,1281.8 818.5,1304.7"/><path d="M818.5,1304.7 819.2,1303.8 819.9,1276.0"/><path d="M819.9,1276.0 820.4,1257.7 820.5,1298.7"/><path d="M820.5,1298.7 821.2,1326.9 821.9,1324.4"/><path d="M821.9,1324.4 822.6,1310.1 822.9,1255.9"/><path d="M822.9,1255.9 823.3,1299.7 823.9,1322.6"/><path d="M823.9,1322.6 824.6,1328.0 825.3,1306.5"/><path d="M825.3,1306.5 826.0,1326.3 826.7,1329.7"/><path d="M826.7,1329.7 827.3,1310.1 828.0,1308.6"/><path d="M828.0,1308.6 828.7,1330.0 829.4,1327.0"/><path d="M829.4,1327.0 830.1,1309.5 830.7,1331.6"/><path d="M830.7,1331.6 831.4,1332.7 832.1,1338.8"/><path d="M832.1,1338.8 832.8,1330.5 833.5,1314.3"/><path d="M833.5,1314.3 834.1,1338.3 834.6,1300.2"/><path d="M834.6,1300.2 834.8,1304.0 835.5,1337.4"/><path d="M835.5,1337.4 836.2,1340.2 836.9,1339.9"/><path d="M836.9,1339.9 837.5,1338.6 838.2,1338.3"/><path d="M838.2,1338.3 838.9,1338.0 839.6,1310.8"/><path d="M839.6,1310.8 840.3,1339.6 840.9,1332.3"/><path d="M840.9,1332.3 841.6,1335.9 842.3,1337.4"/><path d="M842.3,1337.4 843.0,1315.0 843.5,1298.4"/><path d="M843.5,1298.4 843.7,1336.6 844.3,1336.4"/><path d="M844.3,1336.4 845.0,1334.4 845.7,1329.1"/><path d="M845.7,1329.1 846.4,1327.9 847.1,1333.1"/><path d="M847.1,1333.1 847.7,1330.5 848.4,1327.0"/><path d="M848.4,1327.0 849.1,1326.3 849.8,1326.1"/><path d="M849.8,1326.1 850.5,1326.7 851.1,1327.9"/><path d="M851.1,1327.9 851.8,1322.8 852.3,1289.6"/><path d="M852.3,1289.6 852.5,1324.4 853.2,1324.5"/><path d="M853.2,1324.5 853.9,1323.3 854.5,1318.6"/><path d="M854.5,1318.6 855.2,1320.9 855.9,1318.0"/><path d="M855.9,1318.0 856.6,1309.3 857.3,1313.3"/><path d="M857.3,1313.3 857.9,1315.4 858.6,1311.1"/><path d="M858.6,1311.1 859.3,1307.1 859.4,1254.2"/><path d="M859.4,1254.2 860.0,1302.9 860.7,1308.2"/><path d="M860.7,1308.2 861.3,1286.1 862.0,1307.1"/><path d="M862.0,1307.1 862.7,1300.1 863.4,1302.6"/><path d="M863.4,1302.6 864.1,1295.7 864.7,1298.6"/><path d="M864.7,1298.6 865.4,1298.6 866.1,1290.1"/><path d="M866.1,1290.1 866.8,1295.3 867.5,1283.1"/><path d="M867.5,1283.1 867.5,1218.8 868.1,1281.1"/><path d="M868.1,1281.1 868.8,1291.5 869.5,1288.9"/><path d="M869.5,1288.9 870.2,1288.3 870.9,1285.6"/><path d="M870.9,1285.6 871.5,1276.5 872.2,1267.4"/><path d="M872.2,1267.4 872.9,1278.9 873.6,1272.7"/><path d="M873.6,1272.7 874.3,1274.0 874.9,1277.9"/><path d="M874.9,1277.9 875.3,1238.2 875.6,1267.7"/><path d="M875.6,1267.7 876.3,1279.2 877.0,1274.4"/><path d="M877.0,1274.4 877.7,1277.3 878.3,1268.3"/><path d="M878.3,1268.3 879.0,1268.6 879.7,1265.9"/><path d="M879.7,1265.9 880.4,1267.2 880.6,1215.2"/><path d="M880.6,1215.2 881.1,1272.3 881.7,1248.7"/><path d="M881.7,1248.7 882.4,1259.9 883.1,1263.6"/><path d="M883.1,1263.6 883.8,1271.1 884.5,1267.3"/><path d="M884.5,1267.3 885.1,1264.7 885.8,1265.6"/><path d="M885.8,1265.6 885.9,1217.0 886.5,1254.4"/><path d="M886.5,1254.4 887.2,1249.7 887.9,1261.0"/><path d="M887.9,1261.0 888.5,1262.9 889.2,1258.5"/><path d="M889.2,1258.5 889.5,1215.2 889.9,1258.7"/><path d="M889.9,1258.7 890.6,1260.7 891.3,1237.3"/><path d="M891.3,1237.3 891.9,1253.6 892.6,1259.6"/><path d="M892.6,1259.6 893.3,1256.5 894.0,1254.9"/><path d="M894.0,1254.9 894.7,1254.6 895.3,1228.5"/><path d="M895.3,1228.5 896.0,1250.3 896.7,1259.1"/><path d="M896.7,1259.1 897.4,1250.3 898.1,1258.4"/><path d="M898.1,1258.4 898.7,1259.5 899.4,1256.1"/><path d="M899.4,1256.1 900.1,1256.1 900.8,1249.5"/><path d="M900.8,1249.5 901.5,1243.2 901.9,1213.5"/><path d="M901.9,1213.5 902.1,1259.8 902.8,1258.2"/><path d="M902.8,1258.2 903.5,1244.0 904.2,1248.3"/><path d="M904.2,1248.3 904.9,1250.9 905.5,1241.9"/><path d="M905.5,1241.9 906.2,1226.3 906.9,1228.4"/><path d="M906.9,1228.4 907.6,1224.9 908.3,1226.4"/><path d="M908.3,1226.4 908.9,1225.2 909.6,1257.9"/><path d="M909.6,1257.9 910.0,1052.4 910.3,1257.3"/><path d="M910.3,1257.3 911.0,1231.6 911.7,1249.7"/><path d="M911.7,1249.7 912.3,1252.3 912.5,1130.3"/><path d="M912.5,1130.3 913.0,1255.1 913.7,1240.4"/><path d="M913.7,1240.4 914.4,1247.5 915.1,1243.2"/><path d="M915.1,1243.2 915.7,1247.2 916.4,1240.3"/><path d="M916.4,1240.3 917.1,1251.5 917.8,1240.8"/><path d="M917.8,1240.8 918.5,1257.6 919.1,1259.1"/><path d="M919.1,1259.1 919.8,1255.1 920.5,1253.5"/><path d="M920.5,1253.5 921.2,1258.2 921.9,1258.7"/><path d="M921.9,1258.7 922.5,1255.2 923.2,1259.2"/><path d="M923.2,1259.2 923.9,1255.9 924.6,1258.8"/><path d="M924.6,1258.8 925.3,1249.8 925.9,1253.0"/><path d="M925.9,1253.0 926.6,1253.7 927.3,1257.2"/><path d="M927.3,1257.2 928.0,1258.4 928.7,1258.1"/><path d="M928.7,1258.1 929.3,1247.3 930.0,1249.0"/><path d="M930.0,1249.0 930.7,1258.1 931.4,1252.7"/><path d="M931.4,1252.7 932.1,1253.7 932.7,1258.3"/><path d="M932.7,1258.3 933.4,1258.1 933.7,1206.4"/><path d="M933.7,1206.4 934.1,1257.4 934.8,1253.1"/><path d="M934.8,1253.1 935.5,1256.5 936.1,1246.7"/><path d="M936.1,1246.7 936.8,1254.9 937.5,1256.6"/><path d="M937.5,1256.6 938.2,1247.5 938.9,1253.8"/><path d="M938.9,1253.8 939.5,1250.1 940.2,1255.3"/><path d="M940.2,1255.3 940.9,1253.9 941.6,1243.4"/><path d="M941.6,1243.4 942.3,1254.3 942.9,1242.7"/><path d="M942.9,1242.7 943.6,1255.8 944.3,1255.9"/><path d="M944.3,1255.9 945.0,1247.6 945.7,1253.2"/><path d="M945.7,1253.2 946.3,1248.9 947.0,1234.5"/><path d="M947.0,1234.5 947.7,1250.5 947.9,1179.8"/><path d="M947.9,1179.8 948.4,1247.9 949.1,1255.7"/><path d="M949.1,1255.7 949.7,1247.6 950.4,1252.2"/><path d="M950.4,1252.2 951.1,1253.2 951.8,1225.9"/><path d="M951.8,1225.9 952.5,1245.8 953.1,1253.5"/><path d="M953.1,1253.5 953.8,1256.7 954.5,1247.4"/><path d="M954.5,1247.4 955.0,1218.8 955.2,1237.3"/><path d="M955.2,1237.3 955.9,1237.0 956.5,1238.5"/><path d="M956.5,1238.5 957.2,1239.1 957.9,1237.9"/><path d="M957.9,1237.9 958.6,1245.6 959.3,1252.7"/><path d="M959.3,1252.7 959.9,1255.4 960.6,1254.9"/><path d="M960.6,1254.9 961.3,1248.3 962.0,1255.5"/><path d="M962.0,1255.5 962.7,1253.8 963.3,1250.4"/><path d="M963.3,1250.4 964.0,1249.4 964.7,1248.4"/><path d="M964.7,1248.4 965.4,1251.2 966.1,1244.7"/><path d="M966.1,1244.7 966.7,1256.3 967.4,1257.3"/><path d="M967.4,1257.3 968.1,1246.2 968.8,1250.9"/><path d="M968.8,1250.9 969.5,1253.2 970.1,1256.1"/><path d="M970.1,1256.1 970.8,1251.0 971.5,1252.7"/><path d="M971.5,1252.7 972.2,1255.1 972.9,1248.7"/><path d="M972.9,1248.7 973.5,1248.3 974.2,1256.8"/><path d="M974.2,1256.8 974.9,1256.7 975.6,1256.2"/><path d="M975.6,1256.2 976.3,1255.2 976.9,1247.7"/><path d="M976.9,1247.7 977.6,1257.2 978.3,1252.5"/><path d="M978.3,1252.5 979.0,1245.5 979.7,1255.3"/><path d="M979.7,1255.3 980.3,1254.0 981.0,1255.5"/><path d="M981.0,1255.5 981.7,1256.5 982.4,1256.9"/><path d="M982.4,1256.9 983.1,1255.5 983.7,1256.4"/><path d="M983.7,1256.4 984.4,1257.0 985.1,1250.0"/><path d="M985.1,1250.0 985.8,1256.1 986.5,1250.5"/><path d="M986.5,1250.5 987.1,1237.3 987.8,1257.3"/><path d="M987.8,1257.3 988.5,1254.8 989.2,1255.0"/><path d="M989.2,1255.0 989.9,1255.4 990.5,1250.3"/><path d="M990.5,1250.3 991.2,1251.6 991.9,1257.1"/><path d="M991.9,1257.1 992.6,1252.4 993.3,1251.2"/><path d="M993.3,1251.2 993.9,1226.8 994.6,1226.5"/><path d="M994.6,1226.5 995.3,1254.1 995.7,1179.8"/><path d="M995.7,1179.8 996.0,1208.9 996.7,1250.0"/><path d="M996.7,1250.0 997.3,1240.4 998.0,1202.6"/><path d="M998.0,1202.6 998.7,1239.8 999.4,1238.7"/><path d="M999.4,1238.7 1000.1,1235.7 1000.3,1171.0"/><path d="M1000.3,1171.0 1000.7,1186.2 1001.4,1250.0"/><path d="M1001.4,1250.0 1002.1,1200.6 1002.8,1244.1"/><path d="M1002.8,1244.1 1003.5,1203.6 1004.1,1227.0"/><path d="M1004.1,1227.0 1004.8,1241.1 1005.5,1250.8"/><path d="M1005.5,1250.8 1006.2,1198.8 1006.9,1248.3"/><path d="M1006.9,1248.3 1007.5,1223.7 1008.2,1251.6"/><path d="M1008.2,1251.6 1008.9,1241.4 1009.6,1249.7"/><path d="M1009.6,1249.7 1010.3,1230.1 1010.9,1245.1"/><path d="M1010.9,1245.1 1011.6,1220.3 1012.3,1210.2"/><path d="M1012.3,1210.2 1013.0,1243.4 1013.7,1242.3"/><path d="M1013.7,1242.3 1014.3,1209.5 1015.0,1197.0"/><path d="M1015.0,1197.0 1015.1,1197.5 1015.7,1239.0"/><path d="M1015.7,1239.0 1016.4,1234.7 1017.1,1219.9"/><path d="M1017.1,1219.9 1017.6,1009.9 1017.7,1244.8"/><path d="M1017.7,1244.8 1018.4,1240.2 1019.1,1244.5"/><path d="M1019.1,1244.5 1019.8,1231.9 1020.5,1183.5"/><path d="M1020.5,1183.5 1021.1,1250.6 1021.5,1107.3"/><path d="M1021.5,1107.3 1021.8,1238.4 1022.5,1221.1"/><path d="M1022.5,1221.1 1023.2,1195.7 1023.9,1253.4"/><path d="M1023.9,1253.4 1024.5,1238.8 1025.2,1215.0"/><path d="M1025.2,1215.0 1025.9,1201.1 1026.6,1227.5"/><path d="M1026.6,1227.5 1027.3,1221.2 1027.5,1197.5"/><path d="M1027.5,1197.5 1027.9,1211.8 1028.6,1187.7"/><path d="M1028.6,1187.7 1029.3,1237.2 1030.0,1221.1"/><path d="M1030.0,1221.1 1030.7,1246.7 1031.3,1209.4"/><path d="M1031.3,1209.4 1032.0,1242.9 1032.7,1221.2"/><path d="M1032.7,1221.2 1033.4,1254.3 1034.1,1257.8"/><path d="M1034.1,1257.8 1034.7,1195.2 1035.4,1235.0"/><path d="M1035.4,1235.0 1035.7,1038.2 1036.1,1208.2"/><path d="M1036.1,1208.2 1036.8,1253.3 1037.5,1252.1"/><path d="M1037.5,1252.1 1038.1,1255.4 1038.8,1240.5"/><path d="M1038.8,1240.5 1039.5,1258.0 1040.2,1241.7"/><path d="M1040.2,1241.7 1040.9,1224.9 1041.5,1241.4"/><path d="M1041.5,1241.4 1042.2,1220.7 1042.9,1262.0"/><path d="M1042.9,1262.0 1043.6,1233.4 1044.3,1258.7"/><path d="M1044.3,1258.7 1044.9,1251.3 1045.6,1253.1"/><path d="M1045.6,1253.1 1046.3,1195.8 1046.3,1235.8"/><path d="M1046.3,1235.8 1047.0,1261.5 1047.7,1263.5"/><path d="M1047.7,1263.5 1048.3,1263.9 1049.0,1262.0"/><path d="M1049.0,1262.0 1049.7,1230.1 1050.4,1263.6"/><path d="M1050.4,1263.6 1051.1,1258.2 1051.7,1258.6"/><path d="M1051.7,1258.6 1052.4,1248.7 1053.1,1254.7"/><path d="M1053.1,1254.7 1053.8,1262.6 1054.5,1255.4"/><path d="M1054.5,1255.4 1055.1,1234.9 1055.8,1258.7"/><path d="M1055.8,1258.7 1056.5,1259.0 1057.2,1261.7"/><path d="M1057.2,1261.7 1057.9,1261.8 1058.5,1258.0"/><path d="M1058.5,1258.0 1059.2,1249.4 1059.4,1197.5"/><path d="M1059.4,1197.5 1059.9,1261.0 1060.6,1234.6"/><path d="M1060.6,1234.6 1061.3,1259.2 1061.9,1250.0"/><path d="M1061.9,1250.0 1062.6,1238.4 1063.3,1259.6"/><path d="M1063.3,1259.6 1064.0,1252.2 1064.0,1211.7"/><path d="M1064.0,1211.7 1064.7,1261.9 1065.3,1261.1"/><path d="M1065.3,1261.1 1066.0,1257.8 1066.7,1258.6"/><path d="M1066.7,1258.6 1067.4,1261.7 1068.1,1249.0"/><path d="M1068.1,1249.0 1068.7,1261.5 1069.4,1254.6"/><path d="M1069.4,1254.6 1070.1,1259.8 1070.8,1262.5"/><path d="M1070.8,1262.5 1071.5,1252.3 1071.8,1229.4"/><path d="M1071.8,1229.4 1072.1,1263.1 1072.8,1264.4"/><path d="M1072.8,1264.4 1073.5,1261.7 1074.2,1262.1"/><path d="M1074.2,1262.1 1074.9,1264.1 1075.3,1243.5"/><path d="M1075.3,1243.5 1075.5,1256.3 1076.2,1249.3"/><path d="M1076.2,1249.3 1076.9,1266.9 1077.6,1266.7"/><path d="M1077.6,1266.7 1078.3,1267.0 1078.9,1254.1"/><path d="M1078.9,1254.1 1079.6,1266.8 1080.3,1263.7"/><path d="M1080.3,1263.7 1080.6,1156.8 1081.0,1250.6"/><path d="M1081.0,1250.6 1081.7,1268.3 1082.3,1266.0"/><path d="M1082.3,1266.0 1083.0,1265.5 1083.7,1254.1"/><path d="M1083.7,1254.1 1084.4,1267.2 1085.1,1259.9"/><path d="M1085.1,1259.9 1085.7,1271.5 1086.4,1270.6"/><path d="M1086.4,1270.6 1087.1,1259.5 1087.8,1266.6"/><path d="M1087.8,1266.6 1088.5,1270.3 1089.1,1267.8"/><path d="M1089.1,1267.8 1089.5,1229.4 1089.8,1277.0"/><path d="M1089.8,1277.0 1090.5,1265.2 1091.2,1280.0"/><path d="M1091.2,1280.0 1091.9,1273.4 1092.5,1272.6"/><path d="M1092.5,1272.6 1093.0,1240.0 1093.2,1270.5"/><path d="M1093.2,1270.5 1093.9,1279.0 1094.6,1274.0"/><path d="M1094.6,1274.0 1095.3,1277.6 1095.8,1263.0"/><path d="M1095.8,1263.0 1095.9,1285.2 1096.6,1285.1"/><path d="M1096.6,1285.1 1097.3,1283.3 1098.0,1274.5"/><path d="M1098.0,1274.5 1098.7,1285.3 1099.3,1268.0"/><path d="M1099.3,1268.0 1100.0,1270.6 1100.7,1280.0"/><path d="M1100.7,1280.0 1101.4,1268.6 1102.1,1281.8"/><path d="M1102.1,1281.8 1102.7,1285.3 1103.4,1278.2"/><path d="M1103.4,1278.2 1104.1,1268.5 1104.8,1279.0"/><path d="M1104.8,1279.0 1105.5,1278.7 1106.1,1183.4"/><path d="M1106.1,1183.4 1106.1,1273.7 1106.8,1273.5"/><path d="M1106.8,1273.5 1107.5,1273.5 1108.2,1286.5"/><path d="M1108.2,1286.5 1108.9,1280.8 1109.5,1281.0"/><path d="M1109.5,1281.0 1110.2,1272.6 1110.9,1282.3"/><path d="M1110.9,1282.3 1111.6,1288.2 1112.3,1269.7"/><path d="M1112.3,1269.7 1112.9,1267.9 1113.6,1282.4"/><path d="M1113.6,1282.4 1114.3,1288.3 1115.0,1288.0"/><path d="M1115.0,1288.0 1115.7,1281.4 1116.3,1289.1"/><path d="M1116.3,1289.1 1117.0,1281.3 1117.7,1274.9"/><path d="M1117.7,1274.9 1118.4,1285.4 1119.1,1285.7"/><path d="M1119.1,1285.7 1119.7,1280.4 1120.4,1275.1"/><path d="M1120.4,1275.1 1121.1,1286.9 1121.3,1142.7"/><path d="M1121.3,1142.7 1121.8,1275.2 1122.5,1284.8"/><path d="M1122.5,1284.8 1123.1,1290.7 1123.8,1287.9"/><path d="M1123.8,1287.9 1124.5,1286.1 1125.2,1290.6"/><path d="M1125.2,1290.6 1125.9,1275.8 1126.5,1292.0"/><path d="M1126.5,1292.0 1127.2,1287.9 1127.9,1286.0"/><path d="M1127.9,1286.0 1128.6,1292.7 1129.3,1293.0"/><path d="M1129.3,1293.0 1129.9,1289.3 1130.6,1288.2"/><path d="M1130.6,1288.2 1131.3,1292.8 1132.0,1292.9"/><path d="M1132.0,1292.9 1132.7,1293.1 1133.3,1292.5"/><path d="M1133.3,1292.5 1134.0,1290.5 1134.7,1292.6"/><path d="M1134.7,1292.6 1135.4,1294.4 1136.1,1289.9"/><path d="M1136.1,1289.9 1136.7,1293.4 1137.4,1284.9"/><path d="M1137.4,1284.9 1138.1,1290.4 1138.8,1291.1"/><path d="M1138.8,1291.1 1139.5,1285.9 1140.1,1287.7"/><path d="M1140.1,1287.7 1140.8,1224.1 1140.8,1295.1"/><path d="M1140.8,1295.1 1141.5,1296.1 1142.2,1295.5"/><path d="M1142.2,1295.5 1142.9,1293.4 1143.5,1293.7"/><path d="M1143.5,1293.7 1144.2,1296.7 1144.9,1295.2"/><path d="M1144.9,1295.2 1145.6,1294.5 1146.3,1295.9"/><path d="M1146.3,1295.9 1146.9,1293.4 1147.6,1290.7"/><path d="M1147.6,1290.7 1148.3,1288.8 1149.0,1289.2"/><path d="M1149.0,1289.2 1149.7,1295.4 1150.3,1295.8"/><path d="M1150.3,1295.8 1151.0,1296.5 1151.7,1289.4"/><path d="M1151.7,1289.4 1152.4,1296.6 1153.1,1297.8"/><path d="M1153.1,1297.8 1153.7,1290.7 1154.4,1291.7"/><path d="M1154.4,1291.7 1155.1,1289.6 1155.7,1278.9"/><path d="M1155.7,1278.9 1155.8,1296.9 1156.5,1297.0"/><path d="M1156.5,1297.0 1157.1,1295.9 1157.8,1291.0"/><path d="M1157.8,1291.0 1158.5,1297.4 1159.2,1295.1"/><path d="M1159.2,1295.1 1159.9,1296.4 1160.5,1297.2"/><path d="M1160.5,1297.2 1161.2,1296.3 1161.9,1290.2"/><path d="M1161.9,1290.2 1162.6,1295.1 1163.3,1295.5"/><path d="M1163.3,1295.5 1163.9,1296.5 1164.6,1293.2"/><path d="M1164.6,1293.2 1165.3,1295.7 1166.0,1298.6"/><path d="M1166.0,1298.6 1166.7,1297.4 1167.3,1296.2"/><path d="M1167.3,1296.2 1168.0,1298.9 1168.7,1292.6"/><path d="M1168.7,1292.6 1169.4,1297.5 1170.1,1296.8"/><path d="M1170.1,1296.8 1170.7,1298.8 1170.9,1280.7"/><path d="M1170.9,1280.7 1171.4,1299.7 1172.1,1294.8"/><path d="M1172.1,1294.8 1172.8,1299.5 1173.5,1298.0"/><path d="M1173.5,1298.0 1174.1,1299.6 1174.8,1299.1"/><path d="M1174.8,1299.1 1175.5,1299.0 1176.2,1290.3"/><path d="M1176.2,1290.3 1176.9,1296.8 1177.5,1299.9"/><path d="M1177.5,1299.9 1178.2,1296.4 1178.9,1288.7"/><path d="M1178.9,1288.7 1179.6,1289.6 1180.3,1286.9"/><path d="M1180.3,1286.9 1180.9,1293.1 1181.6,1288.7"/><path d="M1181.6,1288.7 1182.3,1286.8 1183.0,1295.5"/><path d="M1183.0,1295.5 1183.7,1288.3 1184.3,1285.9"/><path d="M1184.3,1285.9 1185.0,1294.6 1185.7,1294.1"/><path d="M1185.7,1294.1 1186.1,1192.2 1186.4,1300.6"/><path d="M1186.4,1300.6 1187.1,1296.9 1187.7,1301.0"/><path d="M1187.7,1301.0 1188.4,1296.5 1189.1,1295.1"/><path d="M1189.1,1295.1 1189.8,1301.5 1190.5,1294.5"/><path d="M1190.5,1294.5 1191.1,1294.4 1191.8,1298.3"/><path d="M1191.8,1298.3 1192.5,1300.1 1193.2,1299.3"/><path d="M1193.2,1299.3 1193.9,1301.8 1194.5,1296.5"/><path d="M1194.5,1296.5 1195.2,1300.4 1195.9,1291.9"/><path d="M1195.9,1291.9 1196.6,1284.5 1197.3,1294.7"/><path d="M1197.3,1294.7 1197.9,1290.9 1198.6,1289.6"/><path d="M1198.6,1289.6 1199.3,1297.9 1200.0,1296.9"/><path d="M1200.0,1296.9 1200.7,1298.0 1201.3,1298.9"/><path d="M1201.3,1298.9 1202.0,1301.4 1202.7,1285.6"/><path d="M1202.7,1285.6 1203.4,1286.7 1204.1,1284.8"/><path d="M1204.1,1284.8 1204.7,1282.3 1205.4,1301.1"/><path d="M1205.4,1301.1 1206.1,1301.4 1206.3,1188.7"/><path d="M1206.3,1188.7 1206.8,1297.0 1207.5,1294.6"/><path d="M1207.5,1294.6 1208.1,1295.3 1208.8,1295.1"/><path d="M1208.8,1295.1 1209.5,1301.9 1210.2,1299.4"/><path d="M1210.2,1299.4 1210.9,1279.2 1211.5,1282.5"/><path d="M1211.5,1282.5 1212.2,1300.8 1212.9,1284.6"/><path d="M1212.9,1284.6 1213.6,1283.7 1214.3,1294.2"/><path d="M1214.3,1294.2 1214.9,1296.8 1215.6,1295.7"/><path d="M1215.6,1295.7 1216.3,1298.6 1217.0,1289.1"/><path d="M1217.0,1289.1 1217.7,1295.1 1218.3,1293.5"/><path d="M1218.3,1293.5 1219.0,1289.7 1219.7,1283.2"/><path d="M1219.7,1283.2 1220.4,1292.7 1221.1,1274.9"/><path d="M1221.1,1274.9 1221.5,1202.8 1221.7,1292.0"/><path d="M1221.7,1292.0 1222.4,1277.1 1223.1,1277.8"/><path d="M1223.1,1277.8 1223.8,1296.2 1224.5,1292.5"/><path d="M1224.5,1292.5 1225.1,1291.8 1225.8,1284.4"/><path d="M1225.8,1284.4 1226.5,1211.7 1226.5,1285.5"/><path d="M1226.5,1285.5 1227.2,1292.2 1227.9,1291.5"/><path d="M1227.9,1291.5 1228.5,1290.7 1229.2,1283.3"/><path d="M1229.2,1283.3 1229.9,1287.1 1230.6,1293.9"/><path d="M1230.6,1293.9 1231.3,1294.4 1231.9,1286.2"/><path d="M1231.9,1286.2 1232.6,1295.9 1233.3,1295.3"/><path d="M1233.3,1295.3 1234.0,1295.7 1234.7,1292.7"/><path d="M1234.7,1292.7 1235.3,1295.9 1236.0,1294.2"/><path d="M1236.0,1294.2 1236.7,1299.9 1237.4,1291.0"/><path d="M1237.4,1291.0 1238.1,1297.4 1238.7,1291.4"/><path d="M1238.7,1291.4 1239.4,1288.8 1240.1,1292.6"/><path d="M1240.1,1292.6 1240.8,1296.0 1241.5,1294.5"/><path d="M1241.5,1294.5 1242.1,1284.4 1242.8,1290.0"/><path d="M1242.8,1290.0 1243.5,1285.9 1244.2,1295.1"/><path d="M1244.2,1295.1 1244.9,1280.7 1245.5,1278.6"/><path d="M1245.5,1278.6 1246.2,1280.0 1246.9,1292.4"/><path d="M1246.9,1292.4 1247.6,1287.3 1248.3,1290.9"/><path d="M1248.3,1290.9 1248.9,1290.9 1249.6,1289.1"/><path d="M1249.6,1289.1 1250.3,1278.5 1250.5,1215.2"/><path d="M1250.5,1215.2 1251.0,1280.7 1251.7,1293.4"/><path d="M1251.7,1293.4 1252.3,1292.1 1253.0,1144.4"/><path d="M1253.0,1144.4 1253.0,1271.8 1253.7,1268.2"/><path d="M1253.7,1268.2 1254.4,1292.0 1255.1,1292.3"/><path d="M1255.1,1292.3 1255.7,1271.6 1256.4,1274.8"/><path d="M1256.4,1274.8 1257.1,1279.7 1257.8,1285.1"/><path d="M1257.8,1285.1 1258.5,1294.4 1259.1,1294.5"/><path d="M1259.1,1294.5 1259.4,1250.6 1259.8,1295.3"/><path d="M1259.8,1295.3 1260.5,1282.2 1261.2,1293.9"/><path d="M1261.2,1293.9 1261.9,1284.4 1262.5,1294.5"/><path d="M1262.5,1294.5 1263.2,1288.1 1263.9,1284.9"/><path d="M1263.9,1284.9 1264.0,1225.8 1264.6,1291.0"/><path d="M1264.6,1291.0 1265.3,1291.6 1265.9,1297.2"/><path d="M1265.9,1297.2 1266.6,1288.8 1267.3,1281.3"/><path d="M1267.3,1281.3 1268.0,1269.7 1268.2,1257.7"/><path d="M1268.2,1257.7 1268.7,1295.0 1269.3,1296.2"/><path d="M1269.3,1296.2 1270.0,1275.9 1270.7,1297.8"/><path d="M1270.7,1297.8 1271.4,1296.4 1272.1,1282.1"/><path d="M1272.1,1282.1 1272.7,1288.0 1272.8,1232.9"/><path d="M1272.8,1232.9 1273.4,1298.3 1274.1,1289.4"/><path d="M1274.1,1289.4 1274.8,1288.7 1275.5,1298.6"/><path d="M1275.5,1298.6 1276.1,1294.0 1276.8,1266.1"/><path d="M1276.8,1266.1 1277.5,1276.5 1278.2,1298.2"/><path d="M1278.2,1298.2 1278.9,1298.4 1279.5,1291.7"/><path d="M1279.5,1291.7 1280.2,1283.4 1280.9,1295.2"/><path d="M1280.9,1295.2 1281.6,1260.1 1282.3,1292.6"/><path d="M1282.3,1292.6 1282.9,1293.0 1283.5,1174.5"/><path d="M1283.5,1174.5 1283.6,1275.9 1284.3,1282.9"/><path d="M1284.3,1282.9 1285.0,1238.2 1285.7,1295.0"/><path d="M1285.7,1295.0 1285.9,1119.6 1286.3,1285.8"/><path d="M1286.3,1285.8 1287.0,1297.0 1287.7,1298.8"/><path d="M1287.7,1298.8 1288.4,1249.8 1289.1,1237.4"/><path d="M1289.1,1237.4 1289.5,1052.4 1289.7,1287.2"/><path d="M1289.7,1287.2 1290.4,1289.4 1291.1,1255.2"/><path d="M1291.1,1255.2 1291.8,1280.1 1292.5,1295.4"/><path d="M1292.5,1295.4 1293.0,1172.7 1293.1,1281.4"/><path d="M1293.1,1281.4 1293.8,1246.9 1294.5,1254.5"/><path d="M1294.5,1254.5 1295.2,1296.8 1295.9,1294.4"/><path d="M1295.9,1294.4 1296.5,1261.2 1296.5,1194.0"/><path d="M1296.5,1194.0 1297.2,1247.5 1297.9,1292.9"/><path d="M1297.9,1292.9 1298.6,1295.4 1299.3,1303.2"/><path d="M1299.3,1303.2 1299.9,1285.3 1300.6,1294.9"/><path d="M1300.6,1294.9 1301.3,1301.0 1302.0,1293.1"/><path d="M1302.0,1293.1 1302.7,1299.4 1303.3,1296.6"/><path d="M1303.3,1296.6 1304.0,1307.4 1304.7,1302.8"/><path d="M1304.7,1302.8 1305.4,1302.9 1306.1,1304.6"/><path d="M1306.1,1304.6 1306.5,1195.8 1306.7,1261.6"/><path d="M1306.7,1261.6 1307.4,1276.8 1308.1,1302.4"/><path d="M1308.1,1302.4 1308.8,1304.0 1309.5,1253.3"/><path d="M1309.5,1253.3 1309.6,1178.1 1310.1,1289.3"/><path d="M1310.1,1289.3 1310.8,1280.6 1311.5,1308.5"/><path d="M1311.5,1308.5 1312.2,1300.1 1312.9,1304.9"/><path d="M1312.9,1304.9 1313.5,1294.8 1314.2,1266.6"/><path d="M1314.2,1266.6 1314.9,1303.4 1315.6,1303.1"/><path d="M1315.6,1303.1 1316.3,1301.6 1316.9,1298.6"/><path d="M1316.9,1298.6 1317.6,1298.6 1318.3,1300.1"/><path d="M1318.3,1300.1 1319.0,1300.5 1319.6,1206.4"/><path d="M1319.6,1206.4 1319.7,1304.5 1320.3,1300.4"/><path d="M1320.3,1300.4 1321.0,1267.3 1321.7,1295.1"/><path d="M1321.7,1295.1 1322.4,1299.5 1323.1,1300.9"/><path d="M1323.1,1300.9 1323.1,1241.8 1323.7,1295.1"/><path d="M1323.7,1295.1 1324.4,1294.5 1325.1,1258.4"/><path d="M1325.1,1258.4 1325.8,1276.9 1326.5,1300.0"/><path d="M1326.5,1300.0 1327.1,1264.8 1327.8,1288.0"/><path d="M1327.8,1288.0 1328.4,1248.8 1328.5,1296.2"/><path d="M1328.5,1296.2 1329.2,1293.1 1329.9,1278.1"/><path d="M1329.9,1278.1 1330.5,1260.0 1331.2,1292.4"/><path d="M1331.2,1292.4 1331.9,1290.9 1332.6,1288.6"/><path d="M1332.6,1288.6 1333.3,1260.9 1333.9,1295.3"/><path d="M1333.9,1295.3 1334.6,1293.3 1335.3,1294.2"/><path d="M1335.3,1294.2 1336.0,1297.5 1336.7,1289.4"/><path d="M1336.7,1289.4 1337.3,1297.9 1338.0,1298.9"/><path d="M1338.0,1298.9 1338.7,1296.1 1339.4,1296.3"/><path d="M1339.4,1296.3 1340.1,1297.7 1340.1,1169.2"/><path d="M1340.1,1169.2 1340.7,1300.1 1341.4,1248.9"/><path d="M1341.4,1248.9 1342.1,1289.8 1342.8,1297.8"/><path d="M1342.8,1297.8 1343.5,1284.1 1344.1,1299.8"/><path d="M1344.1,1299.8 1344.8,1286.5 1345.0,1194.0"/><path d="M1345.0,1194.0 1345.5,1297.9 1346.2,1281.9"/><path d="M1346.2,1281.9 1346.9,1287.7 1347.5,1295.1"/><path d="M1347.5,1295.1 1348.2,1289.3 1348.9,1297.1"/><path d="M1348.9,1297.1 1349.6,1279.8 1350.3,1296.9"/><path d="M1350.3,1296.9 1350.9,1295.8 1351.6,1267.8"/><path d="M1351.6,1267.8 1352.3,1292.7 1353.0,1296.0"/><path d="M1353.0,1296.0 1353.7,1294.6 1354.2,1252.4"/><path d="M1354.2,1252.4 1354.3,1281.6 1355.0,1279.1"/><path d="M1355.0,1279.1 1355.7,1286.8 1356.4,1276.2"/><path d="M1356.4,1276.2 1357.1,1292.8 1357.7,1295.5"/><path d="M1357.7,1295.5 1358.4,1290.7 1359.1,1284.5"/><path d="M1359.1,1284.5 1359.8,1267.3 1360.5,1299.2"/><path d="M1360.5,1299.2 1361.1,1281.8 1361.8,1297.7"/><path d="M1361.8,1297.7 1362.5,1297.5 1363.2,1295.6"/><path d="M1363.2,1295.6 1363.8,1254.2 1363.9,1293.6"/><path d="M1363.9,1293.6 1364.5,1294.2 1365.2,1290.6"/><path d="M1365.2,1290.6 1365.9,1290.7 1366.6,1289.6"/><path d="M1366.6,1289.6 1367.3,1288.7 1367.9,1286.5"/><path d="M1367.9,1286.5 1368.6,1279.6 1369.3,1274.1"/><path d="M1369.3,1274.1 1370.0,1294.3 1370.7,1293.5"/><path d="M1370.7,1293.5 1371.3,1295.0 1372.0,1262.1"/><path d="M1372.0,1262.1 1372.7,1285.7 1373.4,1278.5"/><path d="M1373.4,1278.5 1374.1,1276.3 1374.4,1199.3"/><path d="M1374.4,1199.3 1374.7,1278.9 1375.4,1293.4"/><path d="M1375.4,1293.4 1376.1,1292.5 1376.8,1291.0"/><path d="M1376.8,1291.0 1377.5,1287.2 1378.1,1268.0"/><path d="M1378.1,1268.0 1378.8,1284.9 1379.5,1287.3"/><path d="M1379.5,1287.3 1380.2,1291.4 1380.9,1294.9"/><path d="M1380.9,1294.9 1381.5,1291.5 1382.2,1294.0"/><path d="M1382.2,1294.0 1382.9,1292.9 1383.3,1264.8"/><path d="M1383.3,1264.8 1383.6,1289.9 1384.3,1284.5"/><path d="M1384.3,1284.5 1384.9,1295.2 1385.6,1283.9"/><path d="M1385.6,1283.9 1386.3,1278.6 1387.0,1294.9"/><path d="M1387.0,1294.9 1387.7,1295.9 1388.3,1295.1"/><path d="M1388.3,1295.1 1389.0,1286.5 1389.7,1294.6"/><path d="M1389.7,1294.6 1390.4,1269.0 1391.1,1291.4"/><path d="M1391.1,1291.4 1391.7,1290.7 1392.4,1287.1"/><path d="M1392.4,1287.1 1393.1,1295.8 1393.8,1279.0"/><path d="M1393.8,1279.0 1394.5,1280.2 1395.1,1285.4"/><path d="M1395.1,1285.4 1395.7,1227.6 1395.8,1297.0"/><path d="M1395.8,1297.0 1396.5,1265.9 1397.2,1295.8"/><path d="M1397.2,1295.8 1397.9,1296.6 1398.5,1261.8"/><path d="M1398.5,1261.8 1399.2,1295.6 1399.9,1276.3"/><path d="M1399.9,1276.3 1400.6,1294.4 1401.3,1253.2"/><path d="M1401.3,1253.2 1401.9,1290.6 1402.6,1241.9"/><path d="M1402.6,1241.9 1403.3,1275.7 1404.0,1272.3"/><path d="M1404.0,1272.3 1404.7,1287.8 1405.3,1298.6"/><path d="M1405.3,1298.6 1406.0,1277.5 1406.7,1292.9"/><path d="M1406.7,1292.9 1407.3,1325.0 1407.4,1239.6"/><path d="M1407.4,1239.6 1408.1,1195.8 1408.1,1309.3"/><path d="M1408.1,1309.3 1408.7,1286.7 1409.4,1278.2"/><path d="M1409.4,1278.2 1410.1,1289.0 1410.5,1135.6"/><path d="M1410.5,1135.6 1410.8,1278.1 1411.5,1259.7"/><path d="M1411.5,1259.7 1412.1,1271.0 1412.8,1268.6"/><path d="M1412.8,1268.6 1413.5,1274.8 1414.2,1275.7"/><path d="M1414.2,1275.7 1414.9,1282.4 1415.5,1253.1"/><path d="M1415.5,1253.1 1416.2,1278.3 1416.9,1279.1"/><path d="M1416.9,1279.1 1417.6,1278.6 1418.3,1247.2"/><path d="M1418.3,1247.2 1418.9,1270.9 1419.6,1278.8"/><path d="M1419.6,1278.8 1420.3,1281.4 1421.0,1267.3"/><path d="M1421.0,1267.3 1421.7,1281.5 1422.3,1272.4"/><path d="M1422.3,1272.4 1422.9,1061.2 1423.0,1281.6"/><path d="M1423.0,1281.6 1423.7,1259.6 1424.4,1274.1"/><path d="M1424.4,1274.1 1425.1,1282.4 1425.7,1282.0"/><path d="M1425.7,1282.0 1425.8,1248.8 1426.4,1281.0"/><path d="M1426.4,1281.0 1427.1,1257.7 1427.8,1284.3"/><path d="M1427.8,1284.3 1428.5,1275.8 1429.1,1282.1"/><path d="M1429.1,1282.1 1429.8,1285.1 1430.5,1275.0"/><path d="M1430.5,1275.0 1431.2,1279.2 1431.9,1268.4"/><path d="M1431.9,1268.4 1432.5,1280.0 1433.2,1284.5"/><path d="M1433.2,1284.5 1433.9,1282.9 1434.6,1268.7"/><path d="M1434.6,1268.7 1435.3,1283.9 1435.9,1277.4"/><path d="M1435.9,1277.4 1436.6,1269.8 1437.3,1281.1"/><path d="M1437.3,1281.1 1438.0,1271.7 1438.7,1253.2"/><path d="M1438.7,1253.2 1439.2,1194.0 1439.3,1285.2"/><path d="M1439.3,1285.2 1440.0,1254.5 1440.7,1281.7"/><path d="M1440.7,1281.7 1441.4,1275.8 1442.1,1264.8"/><path d="M1442.1,1264.8 1442.7,1251.6 1443.4,1259.2"/><path d="M1443.4,1259.2 1444.1,1277.6 1444.8,1275.1"/><path d="M1444.8,1275.1 1445.5,1279.5 1446.1,1265.6"/><path d="M1446.1,1265.6 1446.8,1277.3 1447.5,1279.8"/><path d="M1447.5,1279.8 1448.2,1256.5 1448.8,1217.0"/><path d="M1448.8,1217.0 1448.9,1262.5 1449.5,1250.4"/><path d="M1449.5,1250.4 1450.2,1265.1 1450.9,1275.7"/><path d="M1450.9,1275.7 1451.6,1273.2 1452.3,1267.3"/><path d="M1452.3,1267.3 1452.9,1266.4 1453.6,1255.7"/><path d="M1453.6,1255.7 1454.3,1256.5 1455.0,1270.1"/><path d="M1455.0,1270.1 1455.7,1273.2 1456.3,1262.6"/><path d="M1456.3,1262.6 1457.0,1265.9 1457.6,1227.6"/><path d="M1457.6,1227.6 1457.7,1268.4 1458.4,1266.6"/><path d="M1458.4,1266.6 1459.1,1257.9 1459.7,1257.7"/><path d="M1459.7,1257.7 1460.4,1272.0 1461.1,1260.5"/><path d="M1461.1,1260.5 1461.8,1270.9 1462.5,1269.7"/><path d="M1462.5,1269.7 1463.1,1255.3 1463.8,1272.0"/><path d="M1463.8,1272.0 1464.5,1270.4 1465.2,1268.4"/><path d="M1465.2,1268.4 1465.9,1268.9 1466.5,1190.4"/><path d="M1466.5,1190.4 1466.5,1268.2 1467.2,1269.6"/><path d="M1467.2,1269.6 1467.9,1267.4 1468.6,1250.3"/><path d="M1468.6,1250.3 1469.3,1248.8 1469.9,1255.8"/><path d="M1469.9,1255.8 1470.6,1247.9 1471.3,1262.0"/><path d="M1471.3,1262.0 1472.0,1270.3 1472.7,1258.1"/><path d="M1472.7,1258.1 1472.8,1163.9 1473.3,1265.8"/><path d="M1473.3,1265.8 1474.0,1268.1 1474.7,1265.9"/><path d="M1474.7,1265.9 1475.4,1261.7 1476.1,1256.5"/><path d="M1476.1,1256.5 1476.7,1271.7 1477.4,1272.8"/><path d="M1477.4,1272.8 1478.1,1253.7 1478.8,1255.0"/><path d="M1478.8,1255.0 1479.5,1270.3 1480.1,1270.5"/><path d="M1480.1,1270.5 1480.8,1250.2 1481.5,1273.3"/><path d="M1481.5,1273.3 1482.2,1270.8 1482.9,1269.1"/><path d="M1482.9,1269.1 1483.5,1264.7 1484.2,1250.8"/><path d="M1484.2,1250.8 1484.9,1267.1 1485.6,1268.8"/><path d="M1485.6,1268.8 1486.3,1260.8 1486.9,1273.4"/><path d="M1486.9,1273.4 1487.6,1272.0 1488.3,1274.7"/><path d="M1488.3,1274.7 1489.0,1250.1 1489.5,1243.5"/><path d="M1489.5,1243.5 1489.7,1248.2 1490.3,1272.8"/><path d="M1490.3,1272.8 1491.0,1266.2 1491.7,1269.8"/><path d="M1491.7,1269.8 1492.4,1269.6 1493.1,1270.0"/><path d="M1493.1,1270.0 1493.7,1248.6 1494.4,1266.4"/><path d="M1494.4,1266.4 1495.1,1273.5 1495.8,1254.0"/><path d="M1495.8,1254.0 1496.5,1267.9 1497.1,1269.4"/><path d="M1497.1,1269.4 1497.8,1261.8 1498.5,1269.5"/><path d="M1498.5,1269.5 1499.2,1251.3 1499.9,1242.0"/><path d="M1499.9,1242.0 1500.1,1123.2 1500.5,1239.4"/><path d="M1500.5,1239.4 1501.2,1260.7 1501.9,1249.1"/><path d="M1501.9,1249.1 1502.6,1268.1 1503.3,1256.4"/><path d="M1503.3,1256.4 1503.9,1259.7 1504.6,1255.0"/><path d="M1504.6,1255.0 1505.3,1262.1 1506.0,1271.2"/><path d="M1506.0,1271.2 1506.7,1245.2 1507.3,1255.5"/><path d="M1507.3,1255.5 1508.0,1274.9 1508.7,1273.5"/><path d="M1508.7,1273.5 1509.4,1266.5 1510.1,1257.1"/><path d="M1510.1,1257.1 1510.7,1271.3 1511.4,1257.5"/><path d="M1511.4,1257.5 1512.1,1265.2 1512.8,1259.3"/><path d="M1512.8,1259.3 1513.5,1265.9 1514.1,1262.5"/><path d="M1514.1,1262.5 1514.8,1246.2 1515.3,1195.8"/><path d="M1515.3,1195.8 1515.5,1263.4 1516.2,1264.3"/><path d="M1516.2,1264.3 1516.9,1266.9 1517.5,1250.3"/><path d="M1517.5,1250.3 1518.2,1261.7 1518.9,1256.2"/><path d="M1518.9,1256.2 1519.6,1257.2 1520.3,1248.3"/><path d="M1520.3,1248.3 1520.9,1255.6 1521.6,1245.5"/><path d="M1521.6,1245.5 1522.3,1249.1 1523.0,1245.8"/><path d="M1523.0,1245.8 1523.1,1215.2 1523.7,1229.7"/><path d="M1523.7,1229.7 1524.3,1237.7 1525.0,1221.8"/><path d="M1525.0,1221.8 1525.7,1228.4 1526.4,1219.7"/><path d="M1526.4,1219.7 1527.1,1209.8 1527.7,1213.0"/><path d="M1527.7,1213.0 1528.4,1209.8 1529.1,1203.9"/><path d="M1529.1,1203.9 1529.8,1200.0 1530.5,1190.0"/><path d="M1530.5,1190.0 1531.1,1193.9 1531.8,1168.3"/><path d="M1531.8,1168.3 1532.5,1176.0 1533.0,958.6"/><path d="M1533.0,958.6 1533.2,1163.0 1533.9,1148.8"/><path d="M1533.9,1148.8 1534.5,1135.3 1535.2,1169.1"/><path d="M1535.2,1169.1 1535.9,1146.7 1536.6,1164.8"/><path d="M1536.6,1164.8 1537.3,1160.0 1537.9,1155.5"/><path d="M1537.9,1155.5 1538.6,1152.3 1539.3,1138.2"/><path d="M1539.3,1138.2 1540.0,1144.4 1540.7,1144.1"/><path d="M1540.7,1144.1 1541.3,1145.5 1542.0,1146.5"/><path d="M1542.0,1146.5 1542.7,1136.8 1543.4,1147.1"/><path d="M1543.4,1147.1 1544.1,1120.4 1544.3,1066.5"/><path d="M1544.3,1066.5 1544.7,1139.2 1545.4,1137.0"/><path d="M1545.4,1137.0 1546.1,1124.6 1546.8,1135.3"/><path d="M1546.8,1135.3 1547.5,1136.6 1548.1,1137.7"/><path d="M1548.1,1137.7 1548.8,1128.2 1549.5,1125.0"/><path d="M1549.5,1125.0 1550.2,1128.3 1550.9,1128.4"/><path d="M1550.9,1128.4 1551.5,1133.1 1552.2,1132.9"/><path d="M1552.2,1132.9 1552.9,1128.7 1553.6,1106.9"/><path d="M1553.6,1106.9 1553.9,1011.7 1554.3,1108.1"/><path d="M1554.3,1108.1 1554.9,1117.1 1555.6,1083.1"/><path d="M1555.6,1083.1 1556.3,1117.4 1557.0,1118.1"/><path d="M1557.0,1118.1 1557.7,1118.6 1558.3,1091.2"/><path d="M1558.3,1091.2 1559.0,1093.4 1559.2,1047.1"/><path d="M1559.2,1047.1 1559.7,1122.9 1560.4,1082.5"/><path d="M1560.4,1082.5 1561.1,1118.8 1561.7,1097.1"/><path d="M1561.7,1097.1 1562.4,1117.4 1563.1,1119.6"/><path d="M1563.1,1119.6 1563.8,1118.9 1564.5,1099.2"/><path d="M1564.5,1099.2 1565.1,1111.7 1565.6,1059.5"/><path d="M1565.6,1059.5 1565.8,1117.6 1566.5,1085.3"/><path d="M1566.5,1085.3 1567.2,1123.8 1567.9,1089.2"/><path d="M1567.9,1089.2 1568.5,1085.5 1569.1,978.1"/><path d="M1569.1,978.1 1569.2,1096.8 1569.9,1126.7"/><path d="M1569.9,1126.7 1570.6,1125.4 1570.9,1017.0"/><path d="M1570.9,1017.0 1571.3,1082.1 1571.9,1110.5"/><path d="M1571.9,1110.5 1572.6,1096.6 1573.3,1115.0"/><path d="M1573.3,1115.0 1574.0,1095.6 1574.7,1109.3"/><path d="M1574.7,1109.3 1575.3,1118.2 1576.0,1102.4"/><path d="M1576.0,1102.4 1576.7,1096.9 1577.4,1124.3"/><path d="M1577.4,1124.3 1578.1,1104.4 1578.7,1117.9"/><path d="M1578.7,1117.9 1579.4,1130.4 1580.1,1115.0"/><path d="M1580.1,1115.0 1580.4,988.7 1580.8,1131.4"/><path d="M1580.8,1131.4 1581.5,1119.4 1582.1,1127.7"/><path d="M1582.1,1127.7 1582.8,1123.4 1583.5,1126.0"/><path d="M1583.5,1126.0 1584.2,1114.1 1584.9,1133.0"/><path d="M1584.9,1133.0 1585.5,1124.9 1586.2,1126.4"/><path d="M1586.2,1126.4 1586.9,1129.5 1587.6,1129.2"/><path d="M1587.6,1129.2 1588.3,1126.2 1588.9,1132.6"/><path d="M1588.9,1132.6 1589.6,1127.5 1590.3,1127.3"/><path d="M1590.3,1127.3 1591.0,1133.1 1591.7,1129.9"/><path d="M1591.7,1129.9 1592.1,1059.5 1592.3,1127.0"/><path d="M1592.3,1127.0 1593.0,1132.8 1593.7,1133.5"/><path d="M1593.7,1133.5 1594.4,1132.8 1595.1,1129.2"/><path d="M1595.1,1129.2 1595.7,1137.3 1596.4,1117.3"/><path d="M1596.4,1117.3 1597.1,1112.0 1597.8,1130.6"/><path d="M1597.8,1130.6 1598.5,1133.3 1598.5,1096.6"/><path d="M1598.5,1096.6 1599.1,1135.6 1599.8,1136.7"/><path d="M1599.8,1136.7 1600.5,1139.2 1601.2,1135.9"/><path d="M1601.2,1135.9 1601.9,1137.9 1602.5,1140.2"/><path d="M1602.5,1140.2 1603.2,1135.9 1603.9,1141.1"/><path d="M1603.9,1141.1 1604.6,1137.5 1605.3,1141.1"/><path d="M1605.3,1141.1 1605.9,1113.2 1606.6,1133.9"/><path d="M1606.6,1133.9 1607.3,1136.1 1608.0,1125.6"/><path d="M1608.0,1125.6 1608.1,1043.5 1608.7,1136.0"/><path d="M1608.7,1136.0 1609.3,1133.6 1610.0,1141.8"/><path d="M1610.0,1141.8 1610.7,1137.0 1611.4,1113.7"/><path d="M1611.4,1113.7 1612.1,1142.7 1612.7,1112.1"/><path d="M1612.7,1112.1 1613.4,1133.3 1614.1,1110.1"/><path d="M1614.1,1110.1 1614.8,1138.3 1615.5,1139.1"/><path d="M1615.5,1139.1 1616.1,1135.4 1616.8,1100.5"/><path d="M1616.8,1100.5 1617.5,1122.1 1618.2,1124.1"/><path d="M1618.2,1124.1 1618.9,1107.4 1619.5,1108.2"/><path d="M1619.5,1108.2 1620.2,1133.2 1620.9,1114.5"/><path d="M1620.9,1114.5 1621.6,1114.8 1622.2,1084.2"/><path d="M1622.2,1084.2 1622.3,1130.6 1622.9,1128.5"/><path d="M1622.9,1128.5 1623.6,1131.1 1624.3,1097.7"/><path d="M1624.3,1097.7 1625.0,1136.3 1625.7,1134.6"/><path d="M1625.7,1134.6 1626.3,1128.8 1627.0,1131.9"/><path d="M1627.0,1131.9 1627.7,1115.3 1627.9,933.8"/><path d="M1627.9,933.8 1628.4,1124.5 1629.1,1111.2"/><path d="M1629.1,1111.2 1629.7,1138.3 1630.4,1139.5"/><path d="M1630.4,1139.5 1631.1,1145.2 1631.8,1140.4"/><path d="M1631.8,1140.4 1632.5,1129.5 1633.1,1122.7"/><path d="M1633.1,1122.7 1633.8,1123.6 1634.5,1109.8"/><path d="M1634.5,1109.8 1634.6,1094.9 1635.2,1141.3"/><path d="M1635.2,1141.3 1635.9,1127.7 1636.5,1147.5"/><path d="M1636.5,1147.5 1637.2,1157.0 1637.9,1143.7"/><path d="M1637.9,1143.7 1638.1,972.7 1638.6,1139.6"/><path d="M1638.6,1139.6 1639.3,1157.1 1639.9,1140.9"/><path d="M1639.9,1140.9 1640.6,1159.4 1641.3,1141.1"/><path d="M1641.3,1141.1 1642.0,1133.8 1642.7,1148.5"/><path d="M1642.7,1148.5 1643.3,1146.7 1644.0,1157.8"/><path d="M1644.0,1157.8 1644.7,1155.7 1645.4,1163.9"/><path d="M1645.4,1163.9 1646.1,1157.1 1646.7,1162.1"/><path d="M1646.7,1162.1 1647.4,1155.5 1648.1,1164.9"/><path d="M1648.1,1164.9 1648.8,1161.4 1649.5,1164.5"/><path d="M1649.5,1164.5 1650.1,1160.5 1650.8,1167.1"/><path d="M1650.8,1167.1 1651.5,1145.7 1652.2,1169.8"/><path d="M1652.2,1169.8 1652.9,1169.6 1653.5,1168.7"/><path d="M1653.5,1168.7 1654.1,1140.9 1654.2,1164.3"/><path d="M1654.2,1164.3 1654.9,1169.3 1655.6,1159.9"/><path d="M1655.6,1159.9 1656.3,1170.8 1656.9,1170.8"/><path d="M1656.9,1170.8 1657.6,1159.5 1658.3,1172.0"/><path d="M1658.3,1172.0 1659.0,1173.2 1659.7,1173.5"/><path d="M1659.7,1173.5 1660.3,1173.8 1661.0,1172.2"/><path d="M1661.0,1172.2 1661.7,1173.7 1662.4,1166.0"/><path d="M1662.4,1166.0 1663.1,1169.8 1663.7,1166.8"/><path d="M1663.7,1166.8 1664.4,1171.0 1665.1,1166.2"/><path d="M1665.1,1166.2 1665.8,1153.7 1666.5,1174.6"/><path d="M1666.5,1174.6 1667.1,1153.1 1667.8,1162.8"/><path d="M1667.8,1162.8 1668.5,1169.4 1669.2,1146.6"/><path d="M1669.2,1146.6 1669.9,1167.6 1670.5,1169.0"/><path d="M1670.5,1169.0 1671.2,1165.2 1671.9,1166.6"/><path d="M1671.9,1166.6 1672.6,1165.9 1673.3,1168.8"/><path d="M1673.3,1168.8 1673.9,1164.2 1674.6,1158.8"/><path d="M1674.6,1158.8 1675.3,1151.6 1675.5,1114.3"/><path d="M1675.5,1114.3 1676.0,1161.0 1676.7,1164.3"/><path d="M1676.7,1164.3 1677.3,1150.8 1678.0,1166.0"/><path d="M1678.0,1166.0 1678.7,1158.0 1679.4,1117.3"/><path d="M1679.4,1117.3 1680.1,1125.3 1680.7,1126.5"/><path d="M1680.7,1126.5 1681.4,1146.7 1682.1,1143.6"/><path d="M1682.1,1143.6 1682.8,1120.2 1683.5,1113.0"/><path d="M1683.5,1113.0 1684.1,1162.9 1684.8,1151.6"/><path d="M1684.8,1151.6 1685.5,1109.0 1686.2,1122.9"/><path d="M1686.2,1122.9 1686.9,1089.1 1687.5,1092.4"/><path d="M1687.5,1092.4 1688.2,1144.2 1688.9,1080.6"/><path d="M1688.9,1080.6 1688.9,841.8 1689.6,1097.9"/><path d="M1689.6,1097.9 1690.3,1094.5 1690.9,1119.5"/><path d="M1690.9,1119.5 1691.6,1092.8 1692.3,1165.8"/><path d="M1692.3,1165.8 1693.0,1142.4 1693.7,1128.1"/><path d="M1693.7,1128.1 1694.3,1102.5 1695.0,1163.6"/><path d="M1695.0,1163.6 1695.3,1055.9 1695.7,1150.9"/><path d="M1695.7,1150.9 1696.4,1140.6 1697.1,1108.3"/><path d="M1697.1,1108.3 1697.7,1141.5 1698.4,1119.6"/><path d="M1698.4,1119.6 1699.1,1143.0 1699.6,965.7"/><path d="M1699.6,965.7 1699.8,1139.8 1700.5,1138.4"/><path d="M1700.5,1138.4 1701.1,1158.4 1701.8,1164.3"/><path d="M1701.8,1164.3 1702.5,1122.3 1703.2,1161.4"/><path d="M1703.2,1161.4 1703.9,1136.7 1704.5,1164.0"/><path d="M1704.5,1164.0 1705.2,1145.7 1705.9,1158.3"/><path d="M1705.9,1158.3 1706.6,1130.2 1707.3,1143.1"/><path d="M1707.3,1143.1 1707.9,1163.3 1708.4,1119.6"/><path d="M1708.4,1119.6 1708.6,1164.9 1709.3,1157.7"/><path d="M1709.3,1157.7 1710.0,1149.9 1710.7,1126.9"/><path d="M1710.7,1126.9 1711.3,1156.7 1712.0,1155.8"/><path d="M1712.0,1155.8 1712.7,1157.0 1713.4,1145.4"/><path d="M1713.4,1145.4 1714.1,1150.1 1714.7,1162.1"/><path d="M1714.7,1162.1 1715.4,1157.0 1716.1,1158.1"/><path d="M1716.1,1158.1 1716.8,1133.8 1717.5,1161.7"/><path d="M1717.5,1161.7 1718.1,1156.7 1718.8,1153.5"/><path d="M1718.8,1153.5 1719.0,1126.7 1719.5,1162.0"/><path d="M1719.5,1162.0 1720.2,1162.2 1720.9,1164.6"/><path d="M1720.9,1164.6 1721.5,1163.4 1722.2,1146.0"/><path d="M1722.2,1146.0 1722.9,1158.2 1723.6,1164.4"/><path d="M1723.6,1164.4 1724.3,1153.5 1724.9,1126.8"/><path d="M1724.9,1126.8 1725.6,1126.1 1726.3,1156.1"/><path d="M1726.3,1156.1 1727.0,1161.0 1727.2,1101.9"/><path d="M1727.2,1101.9 1727.7,1140.4 1728.3,1146.6"/><path d="M1728.3,1146.6 1729.0,1157.6 1729.7,1153.9"/><path d="M1729.7,1153.9 1730.4,1161.6 1731.1,1124.9"/><path d="M1731.1,1124.9 1731.7,1149.1 1732.4,1160.2"/><path d="M1732.4,1160.2 1733.1,1151.1 1733.8,1123.1"/><path d="M1733.8,1123.1 1734.5,1158.4 1735.1,1149.0"/><path d="M1735.1,1149.0 1735.8,1156.7 1736.5,1153.4"/><path d="M1736.5,1153.4 1736.7,1130.3 1737.2,1143.6"/><path d="M1737.2,1143.6 1737.9,1129.0 1738.5,1147.5"/><path d="M1738.5,1147.5 1739.2,1152.5 1739.9,1147.5"/><path d="M1739.9,1147.5 1740.6,1145.9 1741.3,1145.2"/><path d="M1741.3,1145.2 1741.9,1153.8 1742.6,1142.2"/><path d="M1742.6,1142.2 1743.3,1156.5 1744.0,1146.8"/><path d="M1744.0,1146.8 1744.7,1141.1 1744.9,1087.8"/><path d="M1744.9,1087.8 1745.3,1153.1 1746.0,1154.3"/><path d="M1746.0,1154.3 1746.7,1145.0 1747.4,1154.9"/><path d="M1747.4,1154.9 1748.1,1151.3 1748.7,1147.6"/><path d="M1748.7,1147.6 1749.4,1150.9 1750.1,1153.8"/><path d="M1750.1,1153.8 1750.2,1087.8 1750.8,1145.8"/><path d="M1750.8,1145.8 1751.5,1150.3 1752.1,1131.8"/><path d="M1752.1,1131.8 1752.8,1147.0 1753.5,1151.8"/><path d="M1753.5,1151.8 1754.2,1149.2 1754.4,1077.2"/><path d="M1754.4,1077.2 1754.9,1116.8 1755.5,1141.4"/><path d="M1755.5,1141.4 1756.2,1149.3 1756.9,1150.8"/><path d="M1756.9,1150.8 1757.6,1148.9 1758.0,1109.0"/><path d="M1758.0,1109.0 1758.3,1146.7 1758.9,1129.1"/><path d="M1758.9,1129.1 1759.6,1136.8 1760.3,1142.1"/><path d="M1760.3,1142.1 1761.0,1146.4 1761.7,1138.5"/><path d="M1761.7,1138.5 1762.3,1141.9 1763.0,1115.0"/><path d="M1763.0,1115.0 1763.7,1121.3 1764.4,1124.0"/><path d="M1764.4,1124.0 1765.1,1121.9 1765.7,1107.3"/><path d="M1765.7,1107.3 1766.1,979.8 1766.4,1137.5"/><path d="M1766.4,1137.5 1767.1,1138.0 1767.8,1111.2"/><path d="M1767.8,1111.2 1768.5,1136.3 1769.1,1141.4"/><path d="M1769.1,1141.4 1769.8,1128.4 1770.4,1084.2"/><path d="M1770.4,1084.2 1770.5,1143.4 1771.2,1128.9"/><path d="M1771.2,1128.9 1771.9,1134.0 1772.5,1109.1"/><path d="M1772.5,1109.1 1773.2,1122.9 1773.9,1130.8"/><path d="M1773.9,1130.8 1774.6,1129.0 1775.3,1141.9"/><path d="M1775.3,1141.9 1775.9,1133.0 1776.6,1121.7"/><path d="M1776.6,1121.7 1777.3,1140.6 1778.0,1090.1"/><path d="M1778.0,1090.1 1778.7,1080.2 1779.3,1130.2"/><path d="M1779.3,1130.2 1779.9,932.0 1780.0,1141.4"/><path d="M1780.0,1141.4 1780.7,1137.1 1781.4,1132.0"/><path d="M1781.4,1132.0 1782.1,1133.2 1782.7,1135.6"/><path d="M1782.7,1135.6 1782.7,1032.9 1783.4,1099.3"/><path d="M1783.4,1099.3 1784.1,1126.4 1784.5,1066.5"/><path d="M1784.5,1066.5 1784.8,1141.5 1785.5,1147.4"/><path d="M1785.5,1147.4 1786.1,1142.3 1786.8,1144.3"/><path d="M1786.8,1144.3 1787.5,1103.1 1788.2,1118.8"/><path d="M1788.2,1118.8 1788.9,1123.7 1789.5,1134.0"/><path d="M1789.5,1134.0 1790.2,1142.4 1790.9,1150.0"/><path d="M1790.9,1150.0 1791.6,1118.2 1792.3,1137.3"/><path d="M1792.3,1137.3 1792.9,1145.1 1793.6,1149.6"/><path d="M1793.6,1149.6 1794.3,1125.2 1795.0,1148.5"/><path d="M1795.0,1148.5 1795.7,1149.0 1796.3,1144.2"/><path d="M1796.3,1144.2 1797.0,1149.0 1797.7,1147.4"/><path d="M1797.7,1147.4 1798.4,1136.2 1799.1,1139.0"/><path d="M1799.1,1139.0 1799.7,1141.7 1800.4,1113.2"/><path d="M1800.4,1113.2 1801.1,1147.1 1801.8,1135.1"/><path d="M1801.8,1135.1 1802.2,1107.3 1802.5,1141.3"/><path d="M1802.5,1141.3 1803.1,1146.8 1803.8,1139.2"/><path d="M1803.8,1139.2 1804.5,1143.7 1805.2,1144.7"/><path d="M1805.2,1144.7 1805.9,1129.1 1806.5,1120.7"/><path d="M1806.5,1120.7 1807.2,1140.2 1807.9,1118.8"/><path d="M1807.9,1118.8 1808.6,1139.4 1809.3,1137.9"/><path d="M1809.3,1137.9 1809.3,1027.6 1809.9,1141.1"/><path d="M1809.9,1141.1 1810.6,1143.3 1811.3,1109.0"/><path d="M1811.3,1109.0 1812.0,1131.7 1812.7,1137.3"/><path d="M1812.7,1137.3 1812.8,1048.8 1813.3,1140.1"/><path d="M1813.3,1140.1 1814.0,1142.3 1814.7,1142.1"/><path d="M1814.7,1142.1 1815.4,1128.2 1816.1,1130.9"/><path d="M1816.1,1130.9 1816.4,1061.2 1816.7,1133.8"/><path d="M1816.7,1133.8 1817.4,1126.6 1818.1,1138.3"/><path d="M1818.1,1138.3 1818.8,1103.0 1819.5,1134.2"/><path d="M1819.5,1134.2 1820.1,1132.9 1820.8,1112.4"/><path d="M1820.8,1112.4 1821.5,1132.9 1822.2,1140.7"/><path d="M1822.2,1140.7 1822.9,1140.1 1823.5,1091.3"/><path d="M1823.5,1091.3 1823.5,1129.7 1824.2,1125.2"/><path d="M1824.2,1125.2 1824.9,1135.1 1825.6,1137.3"/><path d="M1825.6,1137.3 1826.3,1138.2 1826.9,1131.2"/><path d="M1826.9,1131.2 1827.6,1138.3 1828.3,1131.1"/><path d="M1828.3,1131.1 1829.0,1132.6 1829.7,1121.5"/><path d="M1829.7,1121.5 1830.3,1138.0 1831.0,1138.7"/><path d="M1831.0,1138.7 1831.7,1133.3 1832.4,1137.6"/><path d="M1832.4,1137.6 1833.1,1135.3 1833.7,1135.3"/><path d="M1833.7,1135.3 1834.1,1084.2 1834.4,1133.6"/><path d="M1834.4,1133.6 1835.1,1123.6 1835.8,1128.6"/><path d="M1835.8,1128.6 1836.5,1123.4 1837.1,1127.2"/><path d="M1837.1,1127.2 1837.8,1138.4 1838.5,1133.2"/><path d="M1838.5,1133.2 1839.2,1128.9 1839.9,1135.2"/><path d="M1839.9,1135.2 1840.1,1075.4 1840.5,1137.8"/><path d="M1840.5,1137.8 1841.2,1126.1 1841.9,1117.0"/><path d="M1841.9,1117.0 1842.6,1091.2 1843.3,1136.3"/><path d="M1843.3,1136.3 1843.9,1123.7 1844.6,1136.2"/><path d="M1844.6,1136.2 1845.3,1125.0 1845.4,1098.4"/><path d="M1845.4,1098.4 1846.0,1133.1"/></g>
<path d="M274.2,1149.7C275.0,1153.3 277.1,1166.0 278.8,1171.0C280.6,1176.0 282.8,1179.5 284.9,1179.8C286.9,1180.1 289.0,1175.4 291.2,1172.7C293.5,1170.1 296.0,1167.4 298.3,1163.9C300.7,1160.4 303.3,1156.2 305.4,1151.5C307.5,1146.8 308.9,1140.3 310.7,1135.6C312.5,1130.9 314.2,1123.5 316.0,1123.2C317.8,1122.9 319.6,1129.7 321.3,1133.8C323.1,1137.9 324.9,1145.0 326.6,1148.0C328.4,1150.9 330.1,1151.8 331.9,1151.5C333.8,1151.2 335.9,1145.6 338.0,1146.2C340.0,1146.8 342.1,1152.7 344.3,1155.0C346.6,1157.4 349.1,1159.8 351.4,1160.4C353.8,1160.9 356.4,1159.2 358.5,1158.6C360.6,1158.0 362.2,1155.6 363.8,1156.8C365.5,1158.0 366.9,1160.1 368.4,1165.7C369.9,1171.3 371.4,1181.0 372.7,1190.4C374.0,1199.9 374.7,1209.9 376.2,1222.3C377.7,1234.7 379.7,1251.8 381.5,1264.8C383.3,1277.8 385.0,1290.1 386.8,1300.2C388.6,1310.2 390.4,1319.4 392.1,1325.0C393.9,1330.6 395.7,1333.8 397.4,1333.8C399.2,1333.8 401.0,1328.2 402.7,1325.0C404.5,1321.7 406.5,1316.4 408.1,1314.3C409.6,1312.3 410.5,1310.8 412.3,1312.6C414.1,1314.3 416.4,1322.0 418.7,1325.0C420.9,1327.9 423.4,1330.9 425.8,1330.3C428.1,1329.7 430.6,1325.3 432.8,1321.4C435.1,1317.6 437.3,1310.8 439.2,1307.3C441.2,1303.7 442.6,1299.6 444.5,1300.2C446.4,1300.8 448.3,1307.3 450.5,1310.8C452.7,1314.3 455.3,1319.4 457.6,1321.4C460.0,1323.5 462.6,1322.3 464.7,1323.2C466.8,1324.1 467.3,1327.0 470.0,1326.7C472.7,1326.4 476.8,1322.9 480.6,1321.4C484.5,1319.9 489.5,1317.9 493.0,1317.9C496.5,1317.9 498.6,1320.5 501.9,1321.4C505.1,1322.3 508.3,1323.8 512.5,1323.2C516.6,1322.6 521.9,1318.2 526.6,1317.9C531.4,1317.6 536.7,1321.1 540.8,1321.4C544.9,1321.7 548.2,1321.1 551.4,1319.6C554.7,1318.2 557.6,1312.9 560.3,1312.6C562.9,1312.3 565.0,1315.2 567.3,1317.9C569.7,1320.5 572.1,1323.2 574.4,1328.5C576.8,1333.8 579.1,1342.7 581.5,1349.7C583.9,1356.8 586.2,1367.1 588.6,1371.0C590.9,1374.8 593.0,1373.0 595.7,1372.7C598.3,1372.4 601.3,1370.1 604.5,1369.2C607.8,1368.3 611.6,1367.1 615.1,1367.4C618.7,1367.7 622.2,1370.7 625.8,1371.0C629.3,1371.3 632.2,1370.4 636.4,1369.2C640.5,1368.0 646.4,1364.5 650.5,1363.9C654.7,1363.3 657.9,1365.4 661.2,1365.7C664.4,1366.0 666.8,1366.5 670.0,1365.7C673.2,1364.8 677.1,1361.5 680.6,1360.4C684.2,1359.2 687.1,1359.2 691.2,1358.6C695.4,1358.0 700.7,1358.0 705.4,1356.8C710.1,1355.6 714.8,1353.6 719.6,1351.5C724.3,1349.4 729.3,1347.7 733.7,1344.4C738.1,1341.2 742.0,1335.6 746.1,1332.0C750.2,1328.5 755.3,1324.1 758.5,1323.2C761.7,1322.3 762.6,1326.4 765.6,1326.7C768.5,1327.0 772.1,1325.8 776.2,1325.0C780.3,1324.1 786.2,1320.8 790.4,1321.4C794.5,1322.0 797.7,1329.7 801.0,1328.5C804.2,1327.3 807.3,1321.4 809.8,1314.3C812.3,1307.3 814.1,1290.4 815.8,1286.0C817.6,1281.6 818.8,1283.7 820.4,1287.8C822.1,1291.9 823.7,1304.0 825.8,1310.8C827.8,1317.6 830.5,1325.0 832.8,1328.5C835.2,1332.0 837.6,1332.0 839.9,1332.0C842.3,1332.0 844.6,1331.4 847.0,1328.5C849.4,1325.5 851.4,1319.6 854.1,1314.3C856.7,1309.0 860.3,1301.9 862.9,1296.6C865.6,1291.3 867.6,1287.8 870.0,1282.5C872.4,1277.2 874.4,1269.8 877.1,1264.8C879.7,1259.8 882.7,1255.3 885.9,1252.4C889.2,1249.4 893.6,1250.0 896.5,1247.1C899.5,1244.1 901.3,1238.8 903.6,1234.7C906.0,1230.6 908.6,1222.0 910.7,1222.3C912.8,1222.6 914.1,1231.4 916.0,1236.5C918.0,1241.5 919.7,1249.4 922.4,1252.4C925.0,1255.3 928.9,1255.0 931.9,1254.2C935.0,1253.3 937.8,1250.0 940.8,1247.1C943.7,1244.1 946.7,1236.2 949.6,1236.5C952.6,1236.8 955.5,1246.2 958.5,1248.8C961.4,1251.5 964.4,1252.1 967.3,1252.4C970.3,1252.7 973.2,1250.6 976.2,1250.6C979.1,1250.6 982.4,1254.2 985.0,1252.4C987.7,1250.6 989.8,1245.0 992.1,1240.0C994.5,1235.0 996.8,1224.1 999.2,1222.3C1001.6,1220.5 1004.2,1230.6 1006.3,1229.4C1008.3,1228.2 1009.5,1222.6 1011.6,1215.2C1013.7,1207.8 1016.3,1186.3 1018.7,1185.1C1021.0,1184.0 1023.7,1202.8 1025.8,1208.1C1027.8,1213.5 1029.3,1217.0 1031.1,1217.0C1032.8,1217.0 1034.6,1206.1 1036.4,1208.1C1038.1,1210.2 1039.6,1222.0 1041.7,1229.4C1043.7,1236.8 1046.1,1248.8 1048.8,1252.4C1051.4,1255.9 1055.0,1250.6 1057.6,1250.6C1060.3,1250.6 1062.6,1251.5 1064.7,1252.4C1066.8,1253.3 1067.3,1255.0 1070.0,1255.9C1072.7,1256.8 1077.7,1255.9 1080.6,1257.7C1083.6,1259.5 1085.3,1263.6 1087.7,1266.5C1090.1,1269.5 1091.8,1274.2 1094.8,1275.4C1097.7,1276.6 1102.2,1273.6 1105.4,1273.6C1108.6,1273.6 1111.6,1275.1 1114.2,1275.4C1116.9,1275.7 1118.7,1273.6 1121.3,1275.4C1124.0,1277.2 1126.9,1283.7 1130.2,1286.0C1133.4,1288.4 1137.3,1288.7 1140.8,1289.6C1144.3,1290.4 1147.9,1290.6 1151.4,1291.3C1155.0,1292.1 1158.5,1293.6 1162.0,1294.2C1165.6,1294.7 1169.7,1295.2 1172.7,1294.9C1175.6,1294.6 1177.4,1293.6 1179.7,1292.4C1182.1,1291.2 1184.2,1287.7 1186.8,1287.8C1189.5,1287.9 1192.4,1293.4 1195.7,1293.1C1198.9,1292.8 1203.0,1286.9 1206.3,1286.0C1209.5,1285.1 1212.2,1289.0 1215.1,1287.8C1218.1,1286.6 1221.3,1279.2 1224.0,1278.9C1226.6,1278.6 1228.7,1283.7 1231.1,1286.0C1233.4,1288.4 1235.8,1293.4 1238.1,1293.1C1240.5,1292.8 1242.9,1286.6 1245.2,1284.2C1247.6,1281.9 1249.6,1279.2 1252.3,1278.9C1255.0,1278.6 1258.2,1281.6 1261.2,1282.5C1264.1,1283.4 1267.3,1284.2 1270.0,1284.2C1272.7,1284.2 1274.7,1285.1 1277.1,1282.5C1279.4,1279.8 1282.1,1273.3 1284.2,1268.3C1286.2,1263.3 1287.7,1252.4 1289.5,1252.4C1291.2,1252.4 1292.7,1263.3 1294.8,1268.3C1296.8,1273.3 1299.5,1281.3 1301.9,1282.5C1304.2,1283.7 1306.6,1275.1 1308.9,1275.4C1311.3,1275.7 1313.4,1281.9 1316.0,1284.2C1318.7,1286.6 1321.9,1289.3 1324.9,1289.6C1327.8,1289.9 1330.8,1287.2 1333.7,1286.0C1336.7,1284.8 1339.6,1283.1 1342.6,1282.5C1345.5,1281.9 1348.2,1282.0 1351.4,1282.5C1354.7,1282.9 1358.2,1285.9 1362.0,1285.3C1365.9,1284.7 1370.3,1278.8 1374.4,1278.9C1378.6,1279.1 1383.0,1286.0 1386.8,1286.0C1390.6,1286.0 1393.9,1281.9 1397.4,1278.9C1401.0,1276.0 1405.1,1271.0 1408.1,1268.3C1411.0,1265.7 1412.8,1263.9 1415.1,1263.0C1417.5,1262.1 1419.3,1261.2 1422.2,1263.0C1425.2,1264.8 1429.3,1273.6 1432.8,1273.6C1436.4,1273.6 1440.5,1265.1 1443.5,1263.0C1446.4,1260.9 1448.2,1261.5 1450.5,1261.2C1452.9,1260.9 1454.4,1263.0 1457.6,1261.2C1460.9,1259.5 1466.5,1250.6 1470.0,1250.6C1473.5,1250.6 1476.2,1258.6 1478.8,1261.2C1481.5,1263.9 1483.6,1267.1 1485.9,1266.5C1488.3,1266.0 1490.6,1260.4 1493.0,1257.7C1495.4,1255.0 1498.0,1250.9 1500.1,1250.6C1502.2,1250.3 1503.5,1254.7 1505.4,1255.9C1507.3,1257.1 1509.7,1258.6 1511.8,1257.7C1513.8,1256.8 1515.9,1254.2 1517.8,1250.6C1519.7,1247.1 1521.3,1244.7 1523.1,1236.5C1524.9,1228.2 1526.6,1214.9 1528.4,1201.1C1530.2,1187.2 1531.9,1163.3 1533.7,1153.3C1535.5,1143.2 1537.0,1144.7 1539.0,1140.9C1541.1,1137.1 1543.5,1135.6 1546.1,1130.3C1548.8,1125.0 1552.3,1114.3 1555.0,1109.0C1557.6,1103.7 1559.7,1101.4 1562.0,1098.4C1564.4,1095.5 1566.8,1090.7 1569.1,1091.3C1571.5,1091.9 1573.5,1097.8 1576.2,1101.9C1578.8,1106.1 1582.4,1112.6 1585.0,1116.1C1587.7,1119.6 1589.2,1121.7 1592.1,1123.2C1595.1,1124.7 1599.2,1124.4 1602.7,1125.0C1606.3,1125.5 1610.4,1128.2 1613.4,1126.7C1616.3,1125.3 1618.4,1118.5 1620.4,1116.1C1622.5,1113.7 1623.7,1111.4 1625.8,1112.6C1627.8,1113.7 1630.5,1119.1 1632.8,1123.2C1635.2,1127.3 1637.6,1131.7 1639.9,1137.3C1642.3,1142.9 1644.9,1152.4 1647.0,1156.8C1649.1,1161.2 1649.1,1162.1 1652.3,1163.9C1655.5,1165.7 1662.5,1168.0 1665.9,1167.4C1669.4,1166.8 1670.9,1164.2 1673.0,1160.4C1675.1,1156.5 1676.5,1151.8 1678.3,1144.4C1680.1,1137.1 1681.9,1124.1 1683.6,1116.1C1685.4,1108.1 1687.2,1098.1 1688.9,1096.6C1690.7,1095.2 1692.2,1101.7 1694.2,1107.3C1696.3,1112.9 1699.3,1124.1 1701.3,1130.3C1703.4,1136.5 1704.7,1140.3 1706.6,1144.4C1708.6,1148.6 1710.6,1154.2 1713.0,1155.0C1715.4,1155.9 1718.0,1151.8 1720.8,1149.7C1723.6,1147.7 1726.4,1143.2 1729.6,1142.7C1732.9,1142.1 1737.0,1147.1 1740.3,1146.2C1743.5,1145.3 1745.6,1140.0 1749.1,1137.3C1752.7,1134.7 1758.0,1132.9 1761.5,1130.3C1765.0,1127.6 1767.2,1124.7 1770.4,1121.4C1773.5,1118.2 1777.6,1110.5 1780.3,1110.8C1782.9,1111.1 1783.8,1118.5 1786.3,1123.2C1788.8,1127.9 1792.5,1137.3 1795.1,1139.1C1797.8,1140.9 1799.6,1137.3 1802.2,1133.8C1804.9,1130.3 1808.7,1120.2 1811.1,1117.9C1813.4,1115.5 1814.3,1118.2 1816.4,1119.6C1818.4,1121.1 1820.5,1126.7 1823.5,1126.7C1826.4,1126.7 1830.8,1120.2 1834.1,1119.6C1837.3,1119.1 1840.7,1122.0 1842.9,1123.2C1845.2,1124.4 1846.8,1126.1 1847.5,1126.7" fill="none" stroke="#d65f4a" stroke-width="4.4" stroke-opacity="0.88" stroke-linejoin="round" stroke-linecap="round"/>
</g>
<text x="388.6" y="125.8" font-size="40.4">Pyruvate 10 µl</text>
<line x1="439.7" y1="147.8" x2="439.7" y2="384.5" stroke="#d5a629" stroke-width="6.6" stroke-linecap="round"/>
<path d="M426.1,383.5 L453.3,383.5 L439.7,410.1 Z" fill="#d5a629"/>
<text x="531.4" y="250.5" font-size="40.4">ADP 2 µl</text>
<line x1="615.4" y1="274.3" x2="615.4" y2="443.4" stroke="#d5a629" stroke-width="6.6" stroke-linecap="round"/>
<path d="M601.8,442.4 L629.0,442.4 L615.4,468.1 Z" fill="#d5a629"/>
<text x="1038.6" y="158.0" font-size="40.4">Pyruvate 10 µl</text>
<line x1="1058.1" y1="188.0" x2="1058.1" y2="384.8" stroke="#d5a629" stroke-width="6.6" stroke-linecap="round"/>
<path d="M1044.5,383.8 L1071.7,383.8 L1058.1,409.5 Z" fill="#d5a629"/>
<text x="1118.9" y="308.3" font-size="40.4">CCCP 3 µl</text>
<line x1="1216.0" y1="335.7" x2="1216.0" y2="499.4" stroke="#d5a629" stroke-width="6.6" stroke-linecap="round"/>
<path d="M1202.4,498.4 L1229.6,498.4 L1216.0,524.9 Z" fill="#d5a629"/>
<text x="282.2" y="886.9" font-size="40.4">Pyruvate 10 µl</text>
<line x1="376.5" y1="914.6" x2="376.5" y2="1091.9" stroke="#d5a629" stroke-width="6.6" stroke-linecap="round"/>
<path d="M362.9,1090.9 L390.1,1090.9 L376.5,1115.8 Z" fill="#d5a629"/>
<text x="435.2" y="1121.1" font-size="40.4">Pyruvate 10 µl</text>
<line x1="575.2" y1="1147.0" x2="575.2" y2="1252.7" stroke="#d5a629" stroke-width="6.6" stroke-linecap="round"/>
<path d="M561.6,1251.7 L588.8,1251.7 L575.2,1277.2 Z" fill="#d5a629"/>
<text x="757.8" y="992.3" font-size="40.4">ADP 2 µl</text>
<line x1="838.6" y1="1015.7" x2="838.6" y2="1252.7" stroke="#d5a629" stroke-width="6.6" stroke-linecap="round"/>
<path d="M825.0,1251.7 L852.2,1251.7 L838.6,1277.3 Z" fill="#d5a629"/>
<text x="1421.7" y="916.2" font-size="40.4">CCCP 3 µl</text>
<line x1="1517.4" y1="944.1" x2="1517.4" y2="1116.6" stroke="#d5a629" stroke-width="6.6" stroke-linecap="round"/>
<path d="M1503.8,1115.6 L1531.0,1115.6 L1517.4,1141.5 Z" fill="#d5a629"/>
<text x="1060.5" y="783.2" font-size="55.5" text-anchor="middle">Time, min</text>
<text x="1060.5" y="1549.5" font-size="55.5" text-anchor="middle">Time, min</text>
<text transform="translate(65.2,348.2) rotate(-90)" font-size="55.5" text-anchor="middle">ΔF/<tspan font-style="italic">F</tspan><tspan font-size="38.9" dy="10.3">0</tspan><tspan dy="-10.3">, a.u.</tspan></text>
<text transform="translate(65.2,1113.7) rotate(-90)" font-size="55.5" text-anchor="middle">ΔF/<tspan font-style="italic">F</tspan><tspan font-size="38.9" dy="10.3">0</tspan><tspan dy="-10.3">, a.u.</tspan></text>
<text x="16" y="59.9" font-size="65" font-weight="bold" fill="#231f20">a</text>
<text x="15.5" y="808.8" font-size="65" font-weight="bold" fill="#231f20">b</text></svg></body></html>
